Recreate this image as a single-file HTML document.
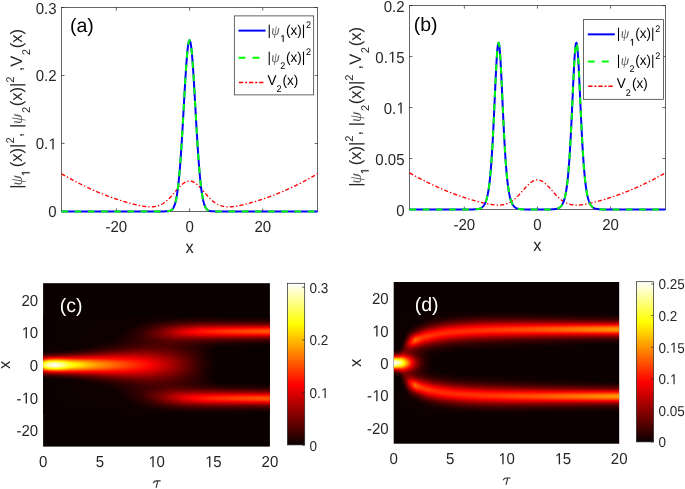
<!DOCTYPE html><html><head><meta charset="utf-8"><style>html,body{margin:0;padding:0;background:#fff;overflow:hidden}svg{display:block;will-change:transform}</style></head><body><svg width="685" height="489" viewBox="0 0 685 489" font-family="'Liberation Sans', sans-serif" fill="#262626" text-rendering="geometricPrecision"><rect width="685" height="489" fill="#fff"/>
<rect x="61.5" y="7.5" width="256.1" height="203.9" fill="none" stroke="#262626" stroke-width="0.7"/>
<path d="M116.38 211.4v-3M116.38 7.5v3M189.55 211.4v-3M189.55 7.5v3M262.72 211.4v-3M262.72 7.5v3M61.5 211.4h3M317.6 211.4h-3M61.5 143.43h3M317.6 143.43h-3M61.5 75.47h3M317.6 75.47h-3M61.5 7.5h3M317.6 7.5h-3" stroke="#262626" stroke-width="0.7"/>
<clipPath id="clip61"><rect x="60.5" y="4.5" width="258.1" height="209.9"/></clipPath>
<g clip-path="url(#clip61)" fill="none" stroke-linejoin="round">
<polyline points="61.5,173.77 61.96,174.04 62.41,174.3 62.87,174.57 63.33,174.83 63.79,175.1 64.24,175.36 64.7,175.62 65.16,175.89 65.62,176.15 66.07,176.41 66.53,176.67 66.99,176.92 67.45,177.18 67.9,177.44 68.36,177.69 68.82,177.94 69.27,178.2 69.73,178.45 70.19,178.7 70.65,178.95 71.1,179.2 71.56,179.45 72.02,179.7 72.48,179.94 72.93,180.19 73.39,180.43 73.85,180.67 74.31,180.92 74.76,181.16 75.22,181.4 75.68,181.64 76.13,181.88 76.59,182.11 77.05,182.35 77.51,182.59 77.96,182.82 78.42,183.06 78.88,183.29 79.34,183.52 79.79,183.75 80.25,183.98 80.71,184.21 81.16,184.44 81.62,184.67 82.08,184.89 82.54,185.12 82.99,185.34 83.45,185.56 83.91,185.79 84.37,186.01 84.82,186.23 85.28,186.45 85.74,186.67 86.2,186.88 86.65,187.1 87.11,187.31 87.57,187.53 88.02,187.74 88.48,187.96 88.94,188.17 89.4,188.38 89.85,188.59 90.31,188.8 90.77,189 91.23,189.21 91.68,189.42 92.14,189.62 92.6,189.83 93.06,190.03 93.51,190.23 93.97,190.43 94.43,190.63 94.88,190.83 95.34,191.03 95.8,191.23 96.26,191.42 96.71,191.62 97.17,191.81 97.63,192.01 98.09,192.2 98.54,192.39 99,192.58 99.46,192.77 99.91,192.96 100.37,193.15 100.83,193.33 101.29,193.52 101.74,193.7 102.2,193.89 102.66,194.07 103.12,194.25 103.57,194.43 104.03,194.61 104.49,194.79 104.95,194.97 105.4,195.15 105.86,195.32 106.32,195.5 106.77,195.67 107.23,195.85 107.69,196.02 108.15,196.19 108.6,196.36 109.06,196.53 109.52,196.7 109.98,196.87 110.43,197.03 110.89,197.2 111.35,197.36 111.81,197.53 112.26,197.69 112.72,197.85 113.18,198.01 113.63,198.17 114.09,198.33 114.55,198.49 115.01,198.65 115.46,198.8 115.92,198.96 116.38,199.11 116.84,199.26 117.29,199.42 117.75,199.57 118.21,199.72 118.67,199.87 119.12,200.02 119.58,200.16 120.04,200.31 120.49,200.45 120.95,200.6 121.41,200.74 121.87,200.88 122.32,201.03 122.78,201.17 123.24,201.31 123.7,201.44 124.15,201.58 124.61,201.72 125.07,201.85 125.53,201.99 125.98,202.12 126.44,202.25 126.9,202.39 127.35,202.52 127.81,202.65 128.27,202.77 128.73,202.9 129.18,203.03 129.64,203.15 130.1,203.28 130.56,203.4 131.01,203.52 131.47,203.64 131.93,203.76 132.38,203.88 132.84,204 133.3,204.11 133.76,204.23 134.21,204.34 134.67,204.45 135.13,204.56 135.59,204.67 136.04,204.78 136.5,204.88 136.96,204.99 137.42,205.09 137.87,205.19 138.33,205.29 138.79,205.39 139.24,205.48 139.7,205.58 140.16,205.67 140.62,205.76 141.07,205.85 141.53,205.93 141.99,206.01 142.45,206.09 142.9,206.17 143.36,206.24 143.82,206.31 144.28,206.38 144.73,206.45 145.19,206.51 145.65,206.56 146.1,206.62 146.56,206.67 147.02,206.71 147.48,206.75 147.93,206.79 148.39,206.82 148.85,206.84 149.31,206.86 149.76,206.88 150.22,206.88 150.68,206.89 151.13,206.88 151.59,206.87 152.05,206.85 152.51,206.83 152.96,206.79 153.42,206.75 153.88,206.7 154.34,206.64 154.79,206.57 155.25,206.5 155.71,206.41 156.17,206.31 156.62,206.2 157.08,206.09 157.54,205.96 157.99,205.82 158.45,205.67 158.91,205.5 159.37,205.33 159.82,205.14 160.28,204.94 160.74,204.72 161.2,204.5 161.65,204.26 162.11,204 162.57,203.74 163.03,203.46 163.48,203.17 163.94,202.86 164.4,202.54 164.85,202.2 165.31,201.86 165.77,201.49 166.23,201.12 166.68,200.73 167.14,200.33 167.6,199.92 168.06,199.5 168.51,199.06 168.97,198.61 169.43,198.16 169.89,197.69 170.34,197.21 170.8,196.72 171.26,196.23 171.71,195.72 172.17,195.22 172.63,194.7 173.09,194.18 173.54,193.65 174,193.13 174.46,192.6 174.92,192.06 175.37,191.53 175.83,191 176.29,190.47 176.75,189.95 177.2,189.43 177.66,188.91 178.12,188.4 178.57,187.9 179.03,187.41 179.49,186.93 179.95,186.46 180.4,186 180.86,185.55 181.32,185.12 181.78,184.71 182.23,184.32 182.69,183.94 183.15,183.58 183.6,183.24 184.06,182.92 184.52,182.63 184.98,182.36 185.43,182.11 185.89,181.88 186.35,181.68 186.81,181.51 187.26,181.36 187.72,181.24 188.18,181.14 188.64,181.07 189.09,181.03 189.55,181.02 190.01,181.03 190.46,181.07 190.92,181.14 191.38,181.24 191.84,181.36 192.29,181.51 192.75,181.68 193.21,181.88 193.67,182.11 194.12,182.36 194.58,182.63 195.04,182.92 195.5,183.24 195.95,183.58 196.41,183.94 196.87,184.32 197.32,184.71 197.78,185.12 198.24,185.55 198.7,186 199.15,186.46 199.61,186.93 200.07,187.41 200.53,187.9 200.98,188.4 201.44,188.91 201.9,189.43 202.36,189.95 202.81,190.47 203.27,191 203.73,191.53 204.18,192.06 204.64,192.6 205.1,193.13 205.56,193.65 206.01,194.18 206.47,194.7 206.93,195.22 207.39,195.72 207.84,196.23 208.3,196.72 208.76,197.21 209.21,197.69 209.67,198.16 210.13,198.61 210.59,199.06 211.04,199.5 211.5,199.92 211.96,200.33 212.42,200.73 212.87,201.12 213.33,201.49 213.79,201.86 214.25,202.2 214.7,202.54 215.16,202.86 215.62,203.17 216.07,203.46 216.53,203.74 216.99,204 217.45,204.26 217.9,204.5 218.36,204.72 218.82,204.94 219.28,205.14 219.73,205.33 220.19,205.5 220.65,205.67 221.11,205.82 221.56,205.96 222.02,206.09 222.48,206.2 222.93,206.31 223.39,206.41 223.85,206.5 224.31,206.57 224.76,206.64 225.22,206.7 225.68,206.75 226.14,206.79 226.59,206.83 227.05,206.85 227.51,206.87 227.97,206.88 228.42,206.89 228.88,206.88 229.34,206.88 229.79,206.86 230.25,206.84 230.71,206.82 231.17,206.79 231.62,206.75 232.08,206.71 232.54,206.67 233,206.62 233.45,206.56 233.91,206.51 234.37,206.45 234.82,206.38 235.28,206.31 235.74,206.24 236.2,206.17 236.65,206.09 237.11,206.01 237.57,205.93 238.03,205.85 238.48,205.76 238.94,205.67 239.4,205.58 239.86,205.48 240.31,205.39 240.77,205.29 241.23,205.19 241.68,205.09 242.14,204.99 242.6,204.88 243.06,204.78 243.51,204.67 243.97,204.56 244.43,204.45 244.89,204.34 245.34,204.23 245.8,204.11 246.26,204 246.72,203.88 247.17,203.76 247.63,203.64 248.09,203.52 248.54,203.4 249,203.28 249.46,203.15 249.92,203.03 250.37,202.9 250.83,202.77 251.29,202.65 251.75,202.52 252.2,202.39 252.66,202.25 253.12,202.12 253.58,201.99 254.03,201.85 254.49,201.72 254.95,201.58 255.4,201.44 255.86,201.31 256.32,201.17 256.78,201.03 257.23,200.88 257.69,200.74 258.15,200.6 258.61,200.45 259.06,200.31 259.52,200.16 259.98,200.02 260.43,199.87 260.89,199.72 261.35,199.57 261.81,199.42 262.26,199.26 262.72,199.11 263.18,198.96 263.64,198.8 264.09,198.65 264.55,198.49 265.01,198.33 265.47,198.17 265.92,198.01 266.38,197.85 266.84,197.69 267.29,197.53 267.75,197.36 268.21,197.2 268.67,197.03 269.12,196.87 269.58,196.7 270.04,196.53 270.5,196.36 270.95,196.19 271.41,196.02 271.87,195.85 272.33,195.67 272.78,195.5 273.24,195.32 273.7,195.15 274.15,194.97 274.61,194.79 275.07,194.61 275.53,194.43 275.98,194.25 276.44,194.07 276.9,193.89 277.36,193.7 277.81,193.52 278.27,193.33 278.73,193.15 279.19,192.96 279.64,192.77 280.1,192.58 280.56,192.39 281.01,192.2 281.47,192.01 281.93,191.81 282.39,191.62 282.84,191.42 283.3,191.23 283.76,191.03 284.22,190.83 284.67,190.63 285.13,190.43 285.59,190.23 286.04,190.03 286.5,189.83 286.96,189.62 287.42,189.42 287.87,189.21 288.33,189 288.79,188.8 289.25,188.59 289.7,188.38 290.16,188.17 290.62,187.96 291.08,187.74 291.53,187.53 291.99,187.31 292.45,187.1 292.9,186.88 293.36,186.67 293.82,186.45 294.28,186.23 294.73,186.01 295.19,185.79 295.65,185.56 296.11,185.34 296.56,185.12 297.02,184.89 297.48,184.67 297.94,184.44 298.39,184.21 298.85,183.98 299.31,183.75 299.76,183.52 300.22,183.29 300.68,183.06 301.14,182.82 301.59,182.59 302.05,182.35 302.51,182.11 302.97,181.88 303.42,181.64 303.88,181.4 304.34,181.16 304.8,180.92 305.25,180.67 305.71,180.43 306.17,180.19 306.62,179.94 307.08,179.7 307.54,179.45 308,179.2 308.45,178.95 308.91,178.7 309.37,178.45 309.83,178.2 310.28,177.94 310.74,177.69 311.2,177.44 311.65,177.18 312.11,176.92 312.57,176.67 313.03,176.41 313.48,176.15 313.94,175.89 314.4,175.62 314.86,175.36 315.31,175.1 315.77,174.83 316.23,174.57 316.69,174.3 317.14,174.04 317.6,173.77" stroke="#f00" stroke-width="1.35" stroke-dasharray="4.1 2.1 1.4 2.1"/>
<polyline points="61.5,211.4 61.96,211.4 62.41,211.4 62.87,211.4 63.33,211.4 63.79,211.4 64.24,211.4 64.7,211.4 65.16,211.4 65.62,211.4 66.07,211.4 66.53,211.4 66.99,211.4 67.45,211.4 67.9,211.4 68.36,211.4 68.82,211.4 69.27,211.4 69.73,211.4 70.19,211.4 70.65,211.4 71.1,211.4 71.56,211.4 72.02,211.4 72.48,211.4 72.93,211.4 73.39,211.4 73.85,211.4 74.31,211.4 74.76,211.4 75.22,211.4 75.68,211.4 76.13,211.4 76.59,211.4 77.05,211.4 77.51,211.4 77.96,211.4 78.42,211.4 78.88,211.4 79.34,211.4 79.79,211.4 80.25,211.4 80.71,211.4 81.16,211.4 81.62,211.4 82.08,211.4 82.54,211.4 82.99,211.4 83.45,211.4 83.91,211.4 84.37,211.4 84.82,211.4 85.28,211.4 85.74,211.4 86.2,211.4 86.65,211.4 87.11,211.4 87.57,211.4 88.02,211.4 88.48,211.4 88.94,211.4 89.4,211.4 89.85,211.4 90.31,211.4 90.77,211.4 91.23,211.4 91.68,211.4 92.14,211.4 92.6,211.4 93.06,211.4 93.51,211.4 93.97,211.4 94.43,211.4 94.88,211.4 95.34,211.4 95.8,211.4 96.26,211.4 96.71,211.4 97.17,211.4 97.63,211.4 98.09,211.4 98.54,211.4 99,211.4 99.46,211.4 99.91,211.4 100.37,211.4 100.83,211.4 101.29,211.4 101.74,211.4 102.2,211.4 102.66,211.4 103.12,211.4 103.57,211.4 104.03,211.4 104.49,211.4 104.95,211.4 105.4,211.4 105.86,211.4 106.32,211.4 106.77,211.4 107.23,211.4 107.69,211.4 108.15,211.4 108.6,211.4 109.06,211.4 109.52,211.4 109.98,211.4 110.43,211.4 110.89,211.4 111.35,211.4 111.81,211.4 112.26,211.4 112.72,211.4 113.18,211.4 113.63,211.4 114.09,211.4 114.55,211.4 115.01,211.4 115.46,211.4 115.92,211.4 116.38,211.4 116.84,211.4 117.29,211.4 117.75,211.4 118.21,211.4 118.67,211.4 119.12,211.4 119.58,211.4 120.04,211.4 120.49,211.4 120.95,211.4 121.41,211.4 121.87,211.4 122.32,211.4 122.78,211.4 123.24,211.4 123.7,211.4 124.15,211.4 124.61,211.4 125.07,211.4 125.53,211.4 125.98,211.4 126.44,211.4 126.9,211.4 127.35,211.4 127.81,211.4 128.27,211.4 128.73,211.4 129.18,211.4 129.64,211.4 130.1,211.4 130.56,211.4 131.01,211.4 131.47,211.4 131.93,211.4 132.38,211.4 132.84,211.4 133.3,211.4 133.76,211.4 134.21,211.4 134.67,211.4 135.13,211.4 135.59,211.4 136.04,211.4 136.5,211.4 136.96,211.4 137.42,211.4 137.87,211.4 138.33,211.4 138.79,211.4 139.24,211.4 139.7,211.4 140.16,211.4 140.62,211.4 141.07,211.4 141.53,211.4 141.99,211.4 142.45,211.4 142.9,211.4 143.36,211.4 143.82,211.4 144.28,211.4 144.73,211.4 145.19,211.4 145.65,211.4 146.1,211.4 146.56,211.4 147.02,211.4 147.48,211.4 147.93,211.4 148.39,211.4 148.85,211.4 149.31,211.4 149.76,211.4 150.22,211.4 150.68,211.4 151.13,211.4 151.59,211.4 152.05,211.4 152.51,211.4 152.96,211.4 153.42,211.4 153.88,211.4 154.34,211.4 154.79,211.4 155.25,211.4 155.71,211.4 156.17,211.4 156.62,211.4 157.08,211.4 157.54,211.4 157.99,211.4 158.45,211.4 158.91,211.4 159.37,211.4 159.82,211.4 160.28,211.4 160.74,211.4 161.2,211.4 161.65,211.4 162.11,211.4 162.57,211.4 163.03,211.39 163.48,211.39 163.94,211.39 164.4,211.38 164.85,211.38 165.31,211.37 165.77,211.36 166.23,211.34 166.68,211.32 167.14,211.3 167.6,211.26 168.06,211.21 168.51,211.15 168.97,211.07 169.43,210.96 169.89,210.83 170.34,210.66 170.8,210.44 171.26,210.17 171.71,209.83 172.17,209.41 172.63,208.9 173.09,208.26 173.54,207.49 174,206.57 174.46,205.46 174.92,204.14 175.37,202.58 175.83,200.75 176.29,198.62 176.75,196.17 177.2,193.35 177.66,190.14 178.12,186.52 178.57,182.45 179.03,177.93 179.49,172.95 179.95,167.49 180.4,161.57 180.86,155.19 181.32,148.39 181.78,141.2 182.23,133.68 182.69,125.87 183.15,117.86 183.6,109.74 184.06,101.58 184.52,93.5 184.98,85.61 185.43,78.01 185.89,70.82 186.35,64.16 186.81,58.14 187.26,52.84 187.72,48.38 188.18,44.82 188.64,42.23 189.09,40.65 189.55,40.12 190.01,40.65 190.46,42.23 190.92,44.82 191.38,48.38 191.84,52.84 192.29,58.14 192.75,64.16 193.21,70.82 193.67,78.01 194.12,85.61 194.58,93.5 195.04,101.58 195.5,109.74 195.95,117.86 196.41,125.87 196.87,133.68 197.32,141.2 197.78,148.39 198.24,155.19 198.7,161.57 199.15,167.49 199.61,172.95 200.07,177.93 200.53,182.45 200.98,186.52 201.44,190.14 201.9,193.35 202.36,196.17 202.81,198.62 203.27,200.75 203.73,202.58 204.18,204.14 204.64,205.46 205.1,206.57 205.56,207.49 206.01,208.26 206.47,208.9 206.93,209.41 207.39,209.83 207.84,210.17 208.3,210.44 208.76,210.66 209.21,210.83 209.67,210.96 210.13,211.07 210.59,211.15 211.04,211.21 211.5,211.26 211.96,211.3 212.42,211.32 212.87,211.34 213.33,211.36 213.79,211.37 214.25,211.38 214.7,211.38 215.16,211.39 215.62,211.39 216.07,211.39 216.53,211.4 216.99,211.4 217.45,211.4 217.9,211.4 218.36,211.4 218.82,211.4 219.28,211.4 219.73,211.4 220.19,211.4 220.65,211.4 221.11,211.4 221.56,211.4 222.02,211.4 222.48,211.4 222.93,211.4 223.39,211.4 223.85,211.4 224.31,211.4 224.76,211.4 225.22,211.4 225.68,211.4 226.14,211.4 226.59,211.4 227.05,211.4 227.51,211.4 227.97,211.4 228.42,211.4 228.88,211.4 229.34,211.4 229.79,211.4 230.25,211.4 230.71,211.4 231.17,211.4 231.62,211.4 232.08,211.4 232.54,211.4 233,211.4 233.45,211.4 233.91,211.4 234.37,211.4 234.82,211.4 235.28,211.4 235.74,211.4 236.2,211.4 236.65,211.4 237.11,211.4 237.57,211.4 238.03,211.4 238.48,211.4 238.94,211.4 239.4,211.4 239.86,211.4 240.31,211.4 240.77,211.4 241.23,211.4 241.68,211.4 242.14,211.4 242.6,211.4 243.06,211.4 243.51,211.4 243.97,211.4 244.43,211.4 244.89,211.4 245.34,211.4 245.8,211.4 246.26,211.4 246.72,211.4 247.17,211.4 247.63,211.4 248.09,211.4 248.54,211.4 249,211.4 249.46,211.4 249.92,211.4 250.37,211.4 250.83,211.4 251.29,211.4 251.75,211.4 252.2,211.4 252.66,211.4 253.12,211.4 253.58,211.4 254.03,211.4 254.49,211.4 254.95,211.4 255.4,211.4 255.86,211.4 256.32,211.4 256.78,211.4 257.23,211.4 257.69,211.4 258.15,211.4 258.61,211.4 259.06,211.4 259.52,211.4 259.98,211.4 260.43,211.4 260.89,211.4 261.35,211.4 261.81,211.4 262.26,211.4 262.72,211.4 263.18,211.4 263.64,211.4 264.09,211.4 264.55,211.4 265.01,211.4 265.47,211.4 265.92,211.4 266.38,211.4 266.84,211.4 267.29,211.4 267.75,211.4 268.21,211.4 268.67,211.4 269.12,211.4 269.58,211.4 270.04,211.4 270.5,211.4 270.95,211.4 271.41,211.4 271.87,211.4 272.33,211.4 272.78,211.4 273.24,211.4 273.7,211.4 274.15,211.4 274.61,211.4 275.07,211.4 275.53,211.4 275.98,211.4 276.44,211.4 276.9,211.4 277.36,211.4 277.81,211.4 278.27,211.4 278.73,211.4 279.19,211.4 279.64,211.4 280.1,211.4 280.56,211.4 281.01,211.4 281.47,211.4 281.93,211.4 282.39,211.4 282.84,211.4 283.3,211.4 283.76,211.4 284.22,211.4 284.67,211.4 285.13,211.4 285.59,211.4 286.04,211.4 286.5,211.4 286.96,211.4 287.42,211.4 287.87,211.4 288.33,211.4 288.79,211.4 289.25,211.4 289.7,211.4 290.16,211.4 290.62,211.4 291.08,211.4 291.53,211.4 291.99,211.4 292.45,211.4 292.9,211.4 293.36,211.4 293.82,211.4 294.28,211.4 294.73,211.4 295.19,211.4 295.65,211.4 296.11,211.4 296.56,211.4 297.02,211.4 297.48,211.4 297.94,211.4 298.39,211.4 298.85,211.4 299.31,211.4 299.76,211.4 300.22,211.4 300.68,211.4 301.14,211.4 301.59,211.4 302.05,211.4 302.51,211.4 302.97,211.4 303.42,211.4 303.88,211.4 304.34,211.4 304.8,211.4 305.25,211.4 305.71,211.4 306.17,211.4 306.62,211.4 307.08,211.4 307.54,211.4 308,211.4 308.45,211.4 308.91,211.4 309.37,211.4 309.83,211.4 310.28,211.4 310.74,211.4 311.2,211.4 311.65,211.4 312.11,211.4 312.57,211.4 313.03,211.4 313.48,211.4 313.94,211.4 314.4,211.4 314.86,211.4 315.31,211.4 315.77,211.4 316.23,211.4 316.69,211.4 317.14,211.4 317.6,211.4" stroke="#00f" stroke-width="2"/>
<polyline points="61.5,211.4 61.96,211.4 62.41,211.4 62.87,211.4 63.33,211.4 63.79,211.4 64.24,211.4 64.7,211.4 65.16,211.4 65.62,211.4 66.07,211.4 66.53,211.4 66.99,211.4 67.45,211.4 67.9,211.4 68.36,211.4 68.82,211.4 69.27,211.4 69.73,211.4 70.19,211.4 70.65,211.4 71.1,211.4 71.56,211.4 72.02,211.4 72.48,211.4 72.93,211.4 73.39,211.4 73.85,211.4 74.31,211.4 74.76,211.4 75.22,211.4 75.68,211.4 76.13,211.4 76.59,211.4 77.05,211.4 77.51,211.4 77.96,211.4 78.42,211.4 78.88,211.4 79.34,211.4 79.79,211.4 80.25,211.4 80.71,211.4 81.16,211.4 81.62,211.4 82.08,211.4 82.54,211.4 82.99,211.4 83.45,211.4 83.91,211.4 84.37,211.4 84.82,211.4 85.28,211.4 85.74,211.4 86.2,211.4 86.65,211.4 87.11,211.4 87.57,211.4 88.02,211.4 88.48,211.4 88.94,211.4 89.4,211.4 89.85,211.4 90.31,211.4 90.77,211.4 91.23,211.4 91.68,211.4 92.14,211.4 92.6,211.4 93.06,211.4 93.51,211.4 93.97,211.4 94.43,211.4 94.88,211.4 95.34,211.4 95.8,211.4 96.26,211.4 96.71,211.4 97.17,211.4 97.63,211.4 98.09,211.4 98.54,211.4 99,211.4 99.46,211.4 99.91,211.4 100.37,211.4 100.83,211.4 101.29,211.4 101.74,211.4 102.2,211.4 102.66,211.4 103.12,211.4 103.57,211.4 104.03,211.4 104.49,211.4 104.95,211.4 105.4,211.4 105.86,211.4 106.32,211.4 106.77,211.4 107.23,211.4 107.69,211.4 108.15,211.4 108.6,211.4 109.06,211.4 109.52,211.4 109.98,211.4 110.43,211.4 110.89,211.4 111.35,211.4 111.81,211.4 112.26,211.4 112.72,211.4 113.18,211.4 113.63,211.4 114.09,211.4 114.55,211.4 115.01,211.4 115.46,211.4 115.92,211.4 116.38,211.4 116.84,211.4 117.29,211.4 117.75,211.4 118.21,211.4 118.67,211.4 119.12,211.4 119.58,211.4 120.04,211.4 120.49,211.4 120.95,211.4 121.41,211.4 121.87,211.4 122.32,211.4 122.78,211.4 123.24,211.4 123.7,211.4 124.15,211.4 124.61,211.4 125.07,211.4 125.53,211.4 125.98,211.4 126.44,211.4 126.9,211.4 127.35,211.4 127.81,211.4 128.27,211.4 128.73,211.4 129.18,211.4 129.64,211.4 130.1,211.4 130.56,211.4 131.01,211.4 131.47,211.4 131.93,211.4 132.38,211.4 132.84,211.4 133.3,211.4 133.76,211.4 134.21,211.4 134.67,211.4 135.13,211.4 135.59,211.4 136.04,211.4 136.5,211.4 136.96,211.4 137.42,211.4 137.87,211.4 138.33,211.4 138.79,211.4 139.24,211.4 139.7,211.4 140.16,211.4 140.62,211.4 141.07,211.4 141.53,211.4 141.99,211.4 142.45,211.4 142.9,211.4 143.36,211.4 143.82,211.4 144.28,211.4 144.73,211.4 145.19,211.4 145.65,211.4 146.1,211.4 146.56,211.4 147.02,211.4 147.48,211.4 147.93,211.4 148.39,211.4 148.85,211.4 149.31,211.4 149.76,211.4 150.22,211.4 150.68,211.4 151.13,211.4 151.59,211.4 152.05,211.4 152.51,211.4 152.96,211.4 153.42,211.4 153.88,211.4 154.34,211.4 154.79,211.4 155.25,211.4 155.71,211.4 156.17,211.4 156.62,211.4 157.08,211.4 157.54,211.4 157.99,211.4 158.45,211.4 158.91,211.4 159.37,211.4 159.82,211.4 160.28,211.4 160.74,211.4 161.2,211.4 161.65,211.4 162.11,211.4 162.57,211.4 163.03,211.39 163.48,211.39 163.94,211.39 164.4,211.38 164.85,211.38 165.31,211.37 165.77,211.36 166.23,211.34 166.68,211.32 167.14,211.3 167.6,211.26 168.06,211.21 168.51,211.15 168.97,211.07 169.43,210.96 169.89,210.83 170.34,210.66 170.8,210.44 171.26,210.17 171.71,209.83 172.17,209.41 172.63,208.9 173.09,208.26 173.54,207.49 174,206.57 174.46,205.46 174.92,204.14 175.37,202.58 175.83,200.75 176.29,198.62 176.75,196.17 177.2,193.35 177.66,190.14 178.12,186.52 178.57,182.45 179.03,177.93 179.49,172.95 179.95,167.49 180.4,161.57 180.86,155.19 181.32,148.39 181.78,141.2 182.23,133.68 182.69,125.87 183.15,117.86 183.6,109.74 184.06,101.58 184.52,93.5 184.98,85.61 185.43,78.01 185.89,70.82 186.35,64.16 186.81,58.14 187.26,52.84 187.72,48.38 188.18,44.82 188.64,42.23 189.09,40.65 189.55,40.12 190.01,40.65 190.46,42.23 190.92,44.82 191.38,48.38 191.84,52.84 192.29,58.14 192.75,64.16 193.21,70.82 193.67,78.01 194.12,85.61 194.58,93.5 195.04,101.58 195.5,109.74 195.95,117.86 196.41,125.87 196.87,133.68 197.32,141.2 197.78,148.39 198.24,155.19 198.7,161.57 199.15,167.49 199.61,172.95 200.07,177.93 200.53,182.45 200.98,186.52 201.44,190.14 201.9,193.35 202.36,196.17 202.81,198.62 203.27,200.75 203.73,202.58 204.18,204.14 204.64,205.46 205.1,206.57 205.56,207.49 206.01,208.26 206.47,208.9 206.93,209.41 207.39,209.83 207.84,210.17 208.3,210.44 208.76,210.66 209.21,210.83 209.67,210.96 210.13,211.07 210.59,211.15 211.04,211.21 211.5,211.26 211.96,211.3 212.42,211.32 212.87,211.34 213.33,211.36 213.79,211.37 214.25,211.38 214.7,211.38 215.16,211.39 215.62,211.39 216.07,211.39 216.53,211.4 216.99,211.4 217.45,211.4 217.9,211.4 218.36,211.4 218.82,211.4 219.28,211.4 219.73,211.4 220.19,211.4 220.65,211.4 221.11,211.4 221.56,211.4 222.02,211.4 222.48,211.4 222.93,211.4 223.39,211.4 223.85,211.4 224.31,211.4 224.76,211.4 225.22,211.4 225.68,211.4 226.14,211.4 226.59,211.4 227.05,211.4 227.51,211.4 227.97,211.4 228.42,211.4 228.88,211.4 229.34,211.4 229.79,211.4 230.25,211.4 230.71,211.4 231.17,211.4 231.62,211.4 232.08,211.4 232.54,211.4 233,211.4 233.45,211.4 233.91,211.4 234.37,211.4 234.82,211.4 235.28,211.4 235.74,211.4 236.2,211.4 236.65,211.4 237.11,211.4 237.57,211.4 238.03,211.4 238.48,211.4 238.94,211.4 239.4,211.4 239.86,211.4 240.31,211.4 240.77,211.4 241.23,211.4 241.68,211.4 242.14,211.4 242.6,211.4 243.06,211.4 243.51,211.4 243.97,211.4 244.43,211.4 244.89,211.4 245.34,211.4 245.8,211.4 246.26,211.4 246.72,211.4 247.17,211.4 247.63,211.4 248.09,211.4 248.54,211.4 249,211.4 249.46,211.4 249.92,211.4 250.37,211.4 250.83,211.4 251.29,211.4 251.75,211.4 252.2,211.4 252.66,211.4 253.12,211.4 253.58,211.4 254.03,211.4 254.49,211.4 254.95,211.4 255.4,211.4 255.86,211.4 256.32,211.4 256.78,211.4 257.23,211.4 257.69,211.4 258.15,211.4 258.61,211.4 259.06,211.4 259.52,211.4 259.98,211.4 260.43,211.4 260.89,211.4 261.35,211.4 261.81,211.4 262.26,211.4 262.72,211.4 263.18,211.4 263.64,211.4 264.09,211.4 264.55,211.4 265.01,211.4 265.47,211.4 265.92,211.4 266.38,211.4 266.84,211.4 267.29,211.4 267.75,211.4 268.21,211.4 268.67,211.4 269.12,211.4 269.58,211.4 270.04,211.4 270.5,211.4 270.95,211.4 271.41,211.4 271.87,211.4 272.33,211.4 272.78,211.4 273.24,211.4 273.7,211.4 274.15,211.4 274.61,211.4 275.07,211.4 275.53,211.4 275.98,211.4 276.44,211.4 276.9,211.4 277.36,211.4 277.81,211.4 278.27,211.4 278.73,211.4 279.19,211.4 279.64,211.4 280.1,211.4 280.56,211.4 281.01,211.4 281.47,211.4 281.93,211.4 282.39,211.4 282.84,211.4 283.3,211.4 283.76,211.4 284.22,211.4 284.67,211.4 285.13,211.4 285.59,211.4 286.04,211.4 286.5,211.4 286.96,211.4 287.42,211.4 287.87,211.4 288.33,211.4 288.79,211.4 289.25,211.4 289.7,211.4 290.16,211.4 290.62,211.4 291.08,211.4 291.53,211.4 291.99,211.4 292.45,211.4 292.9,211.4 293.36,211.4 293.82,211.4 294.28,211.4 294.73,211.4 295.19,211.4 295.65,211.4 296.11,211.4 296.56,211.4 297.02,211.4 297.48,211.4 297.94,211.4 298.39,211.4 298.85,211.4 299.31,211.4 299.76,211.4 300.22,211.4 300.68,211.4 301.14,211.4 301.59,211.4 302.05,211.4 302.51,211.4 302.97,211.4 303.42,211.4 303.88,211.4 304.34,211.4 304.8,211.4 305.25,211.4 305.71,211.4 306.17,211.4 306.62,211.4 307.08,211.4 307.54,211.4 308,211.4 308.45,211.4 308.91,211.4 309.37,211.4 309.83,211.4 310.28,211.4 310.74,211.4 311.2,211.4 311.65,211.4 312.11,211.4 312.57,211.4 313.03,211.4 313.48,211.4 313.94,211.4 314.4,211.4 314.86,211.4 315.31,211.4 315.77,211.4 316.23,211.4 316.69,211.4 317.14,211.4 317.6,211.4" stroke="#0f0" stroke-width="2" stroke-dasharray="6.6 6.6"/>
</g>
<text transform="translate(116.38 232) scale(1 1.06)" font-size="15.0" text-anchor="middle">-20</text>
<text transform="translate(189.55 232) scale(1 1.06)" font-size="15.0" text-anchor="middle">0</text>
<text transform="translate(262.72 232) scale(1 1.06)" font-size="15.0" text-anchor="middle">20</text>
<text transform="translate(56.5 217.4) scale(1 1.06)" font-size="15.0" text-anchor="end">0</text>
<text transform="translate(56.5 149.43) scale(1 1.06)" font-size="15.0" text-anchor="end">0.&#8199;</text><path d="M52.37 149.43 52.37 139.83 50.04 141.59 50.04 140.27 52.48 138.49 53.69 138.49 53.69 149.43Z" fill="#262626"/>
<text transform="translate(56.5 81.47) scale(1 1.06)" font-size="15.0" text-anchor="end">0.2</text>
<text transform="translate(56.5 13.5) scale(1 1.06)" font-size="15.0" text-anchor="end">0.3</text>
<text transform="translate(189.55 253) scale(1 1.06)" font-size="16.5" text-anchor="middle">x</text>
<text transform="translate(21.8 0) rotate(-90)" font-size="16.5"><tspan x="-188.74" y="0">|</tspan><tspan x="-185.38" y="0" font-family="'Liberation Serif', serif" font-style="italic" fill="#555">&#968;</tspan><tspan x="-167.22" y="0">(x)|</tspan><tspan x="-143.61" y="-8.1" font-size="11.2">2</tspan><tspan x="-137.28" y="0">,</tspan><tspan x="-128.07" y="0">|</tspan><tspan x="-123.88" y="0" font-family="'Liberation Serif', serif" font-style="italic" fill="#555">&#968;</tspan><tspan x="-113.01" y="7.8" font-size="11.2">2</tspan><tspan x="-106.22" y="0">(x)|</tspan><tspan x="-82.66" y="-8.1" font-size="11.2">2</tspan><tspan x="-71.28" y="0">,</tspan><tspan x="-66.77" y="0">V</tspan><tspan x="-55.21" y="7.8" font-size="11.2">2</tspan><tspan x="-48.22" y="0">(x)</tspan></text><g transform="translate(21.8 0) rotate(-90)"><path d="M-173.21 7.8 -173.21 1.04 -174.95 2.28 -174.95 1.35 -173.13 0.09 -172.22 0.09 -172.22 7.8Z" fill="#262626" stroke="#262626" stroke-width="0.22"/></g>
<rect x="234.3" y="15.9" width="79.4" height="79" fill="#fff" stroke="#262626" stroke-width="0.7"/>
<path d="M238.5 30.6H265.5" stroke="#00f" stroke-width="2"/>
<path d="M238.5 57.7H265.5" stroke="#0f0" stroke-width="2" stroke-dasharray="7 7"/>
<path d="M238.9 82.4H264" stroke="#f00" stroke-width="1.5" stroke-dasharray="4.3 1.9 2 1.9"/>
<text transform="translate(0 34.5) scale(1 1.06)" font-size="13.5" fill="#000"><tspan x="267.5" y="0">|</tspan><tspan x="271.35" y="0" font-family="'Liberation Serif', serif" font-style="italic" fill="#555">&#968;</tspan><tspan x="286" y="0">(x)|</tspan><tspan x="305.9" y="-6.2" font-size="9.0">2</tspan></text><path d="M282.78 41.71 282.78 35.95 281.38 37 281.38 36.21 282.84 35.14 283.57 35.14 283.57 41.71Z" fill="#000" stroke="#000" stroke-width="0.22"/>
<text transform="translate(0 61.5) scale(1 1.06)" font-size="13.5" fill="#000"><tspan x="267.5" y="0">|</tspan><tspan x="271.35" y="0" font-family="'Liberation Serif', serif" font-style="italic" fill="#555">&#968;</tspan><tspan x="280.25" y="6.8" font-size="9.0">2</tspan><tspan x="286" y="0">(x)|</tspan><tspan x="305.9" y="-6.2" font-size="9.0">2</tspan></text>
<text transform="translate(0 84.6) scale(1 1.06)" font-size="13.5" fill="#000"><tspan x="267.5" y="0">V</tspan><tspan x="276.4" y="6.8" font-size="9.0">2</tspan><tspan x="282.6" y="0">(x)</tspan></text>
<text x="70" y="31.6" font-size="19.5" fill="#000">(a)</text>
<rect x="409.5" y="5.6" width="255.9" height="203.9" fill="none" stroke="#262626" stroke-width="0.7"/>
<path d="M464.34 209.5v-3M464.34 5.6v3M537.45 209.5v-3M537.45 5.6v3M610.56 209.5v-3M610.56 5.6v3M409.5 209.5h3M665.4 209.5h-3M409.5 158.53h3M665.4 158.53h-3M409.5 107.55h3M665.4 107.55h-3M409.5 56.58h3M665.4 56.58h-3M409.5 5.6h3M665.4 5.6h-3" stroke="#262626" stroke-width="0.7"/>
<clipPath id="clip409"><rect x="408.5" y="2.6" width="257.9" height="209.9"/></clipPath>
<g clip-path="url(#clip409)" fill="none" stroke-linejoin="round">
<polyline points="409.5,172.81 409.96,173.07 410.41,173.33 410.87,173.59 411.33,173.85 411.78,174.11 412.24,174.36 412.7,174.62 413.16,174.87 413.61,175.13 414.07,175.38 414.53,175.63 414.98,175.89 415.44,176.14 415.9,176.39 416.35,176.63 416.81,176.88 417.27,177.13 417.73,177.37 418.18,177.62 418.64,177.86 419.1,178.11 419.55,178.35 420.01,178.59 420.47,178.83 420.92,179.07 421.38,179.31 421.84,179.54 422.3,179.78 422.75,180.01 423.21,180.25 423.67,180.48 424.12,180.72 424.58,180.95 425.04,181.18 425.49,181.41 425.95,181.64 426.41,181.86 426.86,182.09 427.32,182.32 427.78,182.54 428.24,182.77 428.69,182.99 429.15,183.21 429.61,183.43 430.06,183.65 430.52,183.87 430.98,184.09 431.43,184.31 431.89,184.53 432.35,184.74 432.81,184.96 433.26,185.17 433.72,185.38 434.18,185.6 434.63,185.81 435.09,186.02 435.55,186.23 436,186.43 436.46,186.64 436.92,186.85 437.37,187.05 437.83,187.26 438.29,187.46 438.75,187.66 439.2,187.87 439.66,188.07 440.12,188.27 440.57,188.47 441.03,188.66 441.49,188.86 441.94,189.06 442.4,189.25 442.86,189.45 443.32,189.64 443.77,189.83 444.23,190.02 444.69,190.21 445.14,190.4 445.6,190.59 446.06,190.78 446.51,190.97 446.97,191.15 447.43,191.34 447.88,191.52 448.34,191.7 448.8,191.89 449.26,192.07 449.71,192.25 450.17,192.43 450.63,192.6 451.08,192.78 451.54,192.96 452,193.13 452.45,193.31 452.91,193.48 453.37,193.65 453.83,193.83 454.28,194 454.74,194.17 455.2,194.34 455.65,194.5 456.11,194.67 456.57,194.84 457.02,195 457.48,195.17 457.94,195.33 458.4,195.49 458.85,195.65 459.31,195.81 459.77,195.97 460.22,196.13 460.68,196.29 461.14,196.45 461.59,196.6 462.05,196.76 462.51,196.91 462.96,197.07 463.42,197.22 463.88,197.37 464.34,197.52 464.79,197.67 465.25,197.82 465.71,197.96 466.16,198.11 466.62,198.26 467.08,198.4 467.53,198.54 467.99,198.69 468.45,198.83 468.91,198.97 469.36,199.11 469.82,199.25 470.28,199.39 470.73,199.52 471.19,199.66 471.65,199.79 472.1,199.93 472.56,200.06 473.02,200.19 473.48,200.32 473.93,200.45 474.39,200.58 474.85,200.71 475.3,200.84 475.76,200.96 476.22,201.09 476.67,201.21 477.13,201.34 477.59,201.46 478.04,201.58 478.5,201.7 478.96,201.82 479.42,201.94 479.87,202.05 480.33,202.17 480.79,202.28 481.24,202.39 481.7,202.51 482.16,202.62 482.61,202.72 483.07,202.83 483.53,202.94 483.99,203.04 484.44,203.15 484.9,203.25 485.36,203.35 485.81,203.45 486.27,203.54 486.73,203.64 487.18,203.73 487.64,203.82 488.1,203.91 488.55,204 489.01,204.08 489.47,204.17 489.93,204.25 490.38,204.32 490.84,204.4 491.3,204.47 491.75,204.54 492.21,204.61 492.67,204.67 493.12,204.73 493.58,204.78 494.04,204.84 494.5,204.88 494.95,204.93 495.41,204.97 495.87,205 496.32,205.03 496.78,205.06 497.24,205.08 497.69,205.09 498.15,205.1 498.61,205.1 499.06,205.1 499.52,205.08 499.98,205.07 500.44,205.04 500.89,205.01 501.35,204.97 501.81,204.92 502.26,204.86 502.72,204.79 503.18,204.72 503.63,204.63 504.09,204.54 504.55,204.43 505.01,204.32 505.46,204.19 505.92,204.06 506.38,203.91 506.83,203.75 507.29,203.58 507.75,203.39 508.2,203.2 508.66,202.99 509.12,202.77 509.58,202.54 510.03,202.29 510.49,202.03 510.95,201.76 511.4,201.47 511.86,201.17 512.32,200.86 512.77,200.53 513.23,200.19 513.69,199.84 514.14,199.48 514.6,199.1 515.06,198.71 515.52,198.31 515.97,197.89 516.43,197.47 516.89,197.03 517.34,196.59 517.8,196.13 518.26,195.66 518.71,195.19 519.17,194.71 519.63,194.22 520.09,193.72 520.54,193.22 521,192.71 521.46,192.2 521.91,191.68 522.37,191.17 522.83,190.65 523.28,190.13 523.74,189.61 524.2,189.1 524.65,188.58 525.11,188.08 525.57,187.57 526.03,187.08 526.48,186.59 526.94,186.11 527.4,185.64 527.85,185.18 528.31,184.73 528.77,184.3 529.22,183.88 529.68,183.48 530.14,183.09 530.6,182.72 531.05,182.37 531.51,182.04 531.97,181.74 532.42,181.45 532.88,181.18 533.34,180.94 533.79,180.72 534.25,180.52 534.71,180.35 535.17,180.21 535.62,180.09 536.08,180 536.54,179.93 536.99,179.89 537.45,179.88 537.91,179.89 538.36,179.93 538.82,180 539.28,180.09 539.73,180.21 540.19,180.35 540.65,180.52 541.11,180.72 541.56,180.94 542.02,181.18 542.48,181.45 542.93,181.74 543.39,182.04 543.85,182.37 544.3,182.72 544.76,183.09 545.22,183.48 545.68,183.88 546.13,184.3 546.59,184.73 547.05,185.18 547.5,185.64 547.96,186.11 548.42,186.59 548.87,187.08 549.33,187.57 549.79,188.08 550.25,188.58 550.7,189.1 551.16,189.61 551.62,190.13 552.07,190.65 552.53,191.17 552.99,191.68 553.44,192.2 553.9,192.71 554.36,193.22 554.81,193.72 555.27,194.22 555.73,194.71 556.19,195.19 556.64,195.66 557.1,196.13 557.56,196.59 558.01,197.03 558.47,197.47 558.93,197.89 559.38,198.31 559.84,198.71 560.3,199.1 560.76,199.48 561.21,199.84 561.67,200.19 562.13,200.53 562.58,200.86 563.04,201.17 563.5,201.47 563.95,201.76 564.41,202.03 564.87,202.29 565.32,202.54 565.78,202.77 566.24,202.99 566.7,203.2 567.15,203.39 567.61,203.58 568.07,203.75 568.52,203.91 568.98,204.06 569.44,204.19 569.89,204.32 570.35,204.43 570.81,204.54 571.27,204.63 571.72,204.72 572.18,204.79 572.64,204.86 573.09,204.92 573.55,204.97 574.01,205.01 574.46,205.04 574.92,205.07 575.38,205.08 575.84,205.1 576.29,205.1 576.75,205.1 577.21,205.09 577.66,205.08 578.12,205.06 578.58,205.03 579.03,205 579.49,204.97 579.95,204.93 580.4,204.88 580.86,204.84 581.32,204.78 581.78,204.73 582.23,204.67 582.69,204.61 583.15,204.54 583.6,204.47 584.06,204.4 584.52,204.32 584.97,204.25 585.43,204.17 585.89,204.08 586.35,204 586.8,203.91 587.26,203.82 587.72,203.73 588.17,203.64 588.63,203.54 589.09,203.45 589.54,203.35 590,203.25 590.46,203.15 590.91,203.04 591.37,202.94 591.83,202.83 592.29,202.72 592.74,202.62 593.2,202.51 593.66,202.39 594.11,202.28 594.57,202.17 595.03,202.05 595.48,201.94 595.94,201.82 596.4,201.7 596.86,201.58 597.31,201.46 597.77,201.34 598.23,201.21 598.68,201.09 599.14,200.96 599.6,200.84 600.05,200.71 600.51,200.58 600.97,200.45 601.42,200.32 601.88,200.19 602.34,200.06 602.8,199.93 603.25,199.79 603.71,199.66 604.17,199.52 604.62,199.39 605.08,199.25 605.54,199.11 605.99,198.97 606.45,198.83 606.91,198.69 607.37,198.54 607.82,198.4 608.28,198.26 608.74,198.11 609.19,197.96 609.65,197.82 610.11,197.67 610.56,197.52 611.02,197.37 611.48,197.22 611.94,197.07 612.39,196.91 612.85,196.76 613.31,196.6 613.76,196.45 614.22,196.29 614.68,196.13 615.13,195.97 615.59,195.81 616.05,195.65 616.5,195.49 616.96,195.33 617.42,195.17 617.88,195 618.33,194.84 618.79,194.67 619.25,194.5 619.7,194.34 620.16,194.17 620.62,194 621.07,193.83 621.53,193.65 621.99,193.48 622.45,193.31 622.9,193.13 623.36,192.96 623.82,192.78 624.27,192.6 624.73,192.43 625.19,192.25 625.64,192.07 626.1,191.89 626.56,191.7 627.01,191.52 627.47,191.34 627.93,191.15 628.39,190.97 628.84,190.78 629.3,190.59 629.76,190.4 630.21,190.21 630.67,190.02 631.13,189.83 631.58,189.64 632.04,189.45 632.5,189.25 632.96,189.06 633.41,188.86 633.87,188.66 634.33,188.47 634.78,188.27 635.24,188.07 635.7,187.87 636.15,187.66 636.61,187.46 637.07,187.26 637.53,187.05 637.98,186.85 638.44,186.64 638.9,186.43 639.35,186.23 639.81,186.02 640.27,185.81 640.72,185.6 641.18,185.38 641.64,185.17 642.09,184.96 642.55,184.74 643.01,184.53 643.47,184.31 643.92,184.09 644.38,183.87 644.84,183.65 645.29,183.43 645.75,183.21 646.21,182.99 646.66,182.77 647.12,182.54 647.58,182.32 648.04,182.09 648.49,181.86 648.95,181.64 649.41,181.41 649.86,181.18 650.32,180.95 650.78,180.72 651.23,180.48 651.69,180.25 652.15,180.01 652.61,179.78 653.06,179.54 653.52,179.31 653.98,179.07 654.43,178.83 654.89,178.59 655.35,178.35 655.8,178.11 656.26,177.86 656.72,177.62 657.17,177.37 657.63,177.13 658.09,176.88 658.55,176.63 659,176.39 659.46,176.14 659.92,175.89 660.37,175.63 660.83,175.38 661.29,175.13 661.74,174.87 662.2,174.62 662.66,174.36 663.12,174.11 663.57,173.85 664.03,173.59 664.49,173.33 664.94,173.07 665.4,172.81" stroke="#f00" stroke-width="1.35" stroke-dasharray="4.1 2.1 1.4 2.1"/>
<polyline points="409.5,209.5 409.96,209.5 410.41,209.5 410.87,209.5 411.33,209.5 411.78,209.5 412.24,209.5 412.7,209.5 413.16,209.5 413.61,209.5 414.07,209.5 414.53,209.5 414.98,209.5 415.44,209.5 415.9,209.5 416.35,209.5 416.81,209.5 417.27,209.5 417.73,209.5 418.18,209.5 418.64,209.5 419.1,209.5 419.55,209.5 420.01,209.5 420.47,209.5 420.92,209.5 421.38,209.5 421.84,209.5 422.3,209.5 422.75,209.5 423.21,209.5 423.67,209.5 424.12,209.5 424.58,209.5 425.04,209.5 425.49,209.5 425.95,209.5 426.41,209.5 426.86,209.5 427.32,209.5 427.78,209.5 428.24,209.5 428.69,209.5 429.15,209.5 429.61,209.5 430.06,209.5 430.52,209.5 430.98,209.5 431.43,209.5 431.89,209.5 432.35,209.5 432.81,209.5 433.26,209.5 433.72,209.5 434.18,209.5 434.63,209.5 435.09,209.5 435.55,209.5 436,209.5 436.46,209.5 436.92,209.5 437.37,209.5 437.83,209.5 438.29,209.5 438.75,209.5 439.2,209.5 439.66,209.5 440.12,209.5 440.57,209.5 441.03,209.5 441.49,209.5 441.94,209.5 442.4,209.5 442.86,209.5 443.32,209.5 443.77,209.5 444.23,209.5 444.69,209.5 445.14,209.5 445.6,209.5 446.06,209.5 446.51,209.5 446.97,209.5 447.43,209.5 447.88,209.5 448.34,209.5 448.8,209.5 449.26,209.5 449.71,209.5 450.17,209.5 450.63,209.5 451.08,209.5 451.54,209.5 452,209.5 452.45,209.5 452.91,209.5 453.37,209.5 453.83,209.5 454.28,209.5 454.74,209.5 455.2,209.5 455.65,209.5 456.11,209.5 456.57,209.5 457.02,209.5 457.48,209.5 457.94,209.5 458.4,209.5 458.85,209.5 459.31,209.5 459.77,209.5 460.22,209.5 460.68,209.5 461.14,209.5 461.59,209.5 462.05,209.5 462.51,209.5 462.96,209.5 463.42,209.5 463.88,209.5 464.34,209.5 464.79,209.49 465.25,209.49 465.71,209.49 466.16,209.49 466.62,209.49 467.08,209.49 467.53,209.49 467.99,209.48 468.45,209.48 468.91,209.48 469.36,209.47 469.82,209.47 470.28,209.46 470.73,209.46 471.19,209.45 471.65,209.44 472.1,209.43 472.56,209.42 473.02,209.4 473.48,209.39 473.93,209.37 474.39,209.35 474.85,209.32 475.3,209.29 475.76,209.25 476.22,209.21 476.67,209.16 477.13,209.1 477.59,209.03 478.04,208.95 478.5,208.86 478.96,208.75 479.42,208.62 479.87,208.47 480.33,208.29 480.79,208.09 481.24,207.84 481.7,207.56 482.16,207.23 482.61,206.85 483.07,206.4 483.53,205.87 483.99,205.25 484.44,204.54 484.9,203.7 485.36,202.73 485.81,201.59 486.27,200.28 486.73,198.75 487.18,196.98 487.64,194.92 488.1,192.56 488.55,189.83 489.01,186.69 489.47,183.1 489.93,179.01 490.38,174.37 490.84,169.12 491.3,163.23 491.75,156.66 492.21,149.41 492.67,141.46 493.12,132.85 493.58,123.66 494.04,113.97 494.5,103.96 494.95,93.81 495.41,83.78 495.87,74.17 496.32,65.29 496.78,57.49 497.24,51.08 497.69,46.35 498.15,43.52 498.61,42.72 499.06,44.01 499.52,47.32 499.98,52.47 500.44,59.25 500.89,67.34 501.35,76.42 501.81,86.16 502.26,96.24 502.72,106.38 503.18,116.33 503.63,125.91 504.09,134.98 504.55,143.43 505.01,151.21 505.46,158.3 505.92,164.7 506.38,170.44 506.83,175.54 507.29,180.04 507.75,184.01 508.2,187.48 508.66,190.52 509.12,193.16 509.58,195.44 510.03,197.43 510.49,199.14 510.95,200.61 511.4,201.88 511.86,202.98 512.32,203.91 512.77,204.72 513.23,205.41 513.69,206 514.14,206.51 514.6,206.94 515.06,207.32 515.52,207.63 515.97,207.91 516.43,208.14 516.89,208.34 517.34,208.51 517.8,208.65 518.26,208.78 518.71,208.88 519.17,208.97 519.63,209.05 520.09,209.11 520.54,209.17 521,209.22 521.46,209.26 521.91,209.3 522.37,209.33 522.83,209.35 523.28,209.37 523.74,209.39 524.2,209.41 524.65,209.42 525.11,209.43 525.57,209.44 526.03,209.45 526.48,209.46 526.94,209.46 527.4,209.47 527.85,209.47 528.31,209.48 528.77,209.48 529.22,209.48 529.68,209.49 530.14,209.49 530.6,209.49 531.05,209.49 531.51,209.49 531.97,209.49 532.42,209.49 532.88,209.5 533.34,209.5 533.79,209.5 534.25,209.5 534.71,209.5 535.17,209.5 535.62,209.5 536.08,209.5 536.54,209.5 536.99,209.5 537.45,209.5 537.91,209.5 538.36,209.5 538.82,209.5 539.28,209.5 539.73,209.5 540.19,209.5 540.65,209.5 541.11,209.5 541.56,209.5 542.02,209.5 542.48,209.49 542.93,209.49 543.39,209.49 543.85,209.49 544.3,209.49 544.76,209.49 545.22,209.49 545.68,209.48 546.13,209.48 546.59,209.48 547.05,209.47 547.5,209.47 547.96,209.46 548.42,209.46 548.87,209.45 549.33,209.44 549.79,209.43 550.25,209.42 550.7,209.41 551.16,209.39 551.62,209.37 552.07,209.35 552.53,209.33 552.99,209.3 553.44,209.26 553.9,209.22 554.36,209.17 554.81,209.11 555.27,209.05 555.73,208.97 556.19,208.88 556.64,208.78 557.1,208.65 557.56,208.51 558.01,208.34 558.47,208.14 558.93,207.91 559.38,207.63 559.84,207.32 560.3,206.94 560.76,206.51 561.21,206 561.67,205.41 562.13,204.72 562.58,203.91 563.04,202.98 563.5,201.88 563.95,200.61 564.41,199.14 564.87,197.43 565.32,195.44 565.78,193.16 566.24,190.52 566.7,187.48 567.15,184.01 567.61,180.04 568.07,175.54 568.52,170.44 568.98,164.7 569.44,158.3 569.89,151.21 570.35,143.43 570.81,134.98 571.27,125.91 571.72,116.33 572.18,106.38 572.64,96.24 573.09,86.16 573.55,76.42 574.01,67.34 574.46,59.25 574.92,52.47 575.38,47.32 575.84,44.01 576.29,42.72 576.75,43.52 577.21,46.35 577.66,51.08 578.12,57.49 578.58,65.29 579.03,74.17 579.49,83.78 579.95,93.81 580.4,103.96 580.86,113.97 581.32,123.66 581.78,132.85 582.23,141.46 582.69,149.41 583.15,156.66 583.6,163.23 584.06,169.12 584.52,174.37 584.97,179.01 585.43,183.1 585.89,186.69 586.35,189.83 586.8,192.56 587.26,194.92 587.72,196.98 588.17,198.75 588.63,200.28 589.09,201.59 589.54,202.73 590,203.7 590.46,204.54 590.91,205.25 591.37,205.87 591.83,206.4 592.29,206.85 592.74,207.23 593.2,207.56 593.66,207.84 594.11,208.09 594.57,208.29 595.03,208.47 595.48,208.62 595.94,208.75 596.4,208.86 596.86,208.95 597.31,209.03 597.77,209.1 598.23,209.16 598.68,209.21 599.14,209.25 599.6,209.29 600.05,209.32 600.51,209.35 600.97,209.37 601.42,209.39 601.88,209.4 602.34,209.42 602.8,209.43 603.25,209.44 603.71,209.45 604.17,209.46 604.62,209.46 605.08,209.47 605.54,209.47 605.99,209.48 606.45,209.48 606.91,209.48 607.37,209.49 607.82,209.49 608.28,209.49 608.74,209.49 609.19,209.49 609.65,209.49 610.11,209.49 610.56,209.5 611.02,209.5 611.48,209.5 611.94,209.5 612.39,209.5 612.85,209.5 613.31,209.5 613.76,209.5 614.22,209.5 614.68,209.5 615.13,209.5 615.59,209.5 616.05,209.5 616.5,209.5 616.96,209.5 617.42,209.5 617.88,209.5 618.33,209.5 618.79,209.5 619.25,209.5 619.7,209.5 620.16,209.5 620.62,209.5 621.07,209.5 621.53,209.5 621.99,209.5 622.45,209.5 622.9,209.5 623.36,209.5 623.82,209.5 624.27,209.5 624.73,209.5 625.19,209.5 625.64,209.5 626.1,209.5 626.56,209.5 627.01,209.5 627.47,209.5 627.93,209.5 628.39,209.5 628.84,209.5 629.3,209.5 629.76,209.5 630.21,209.5 630.67,209.5 631.13,209.5 631.58,209.5 632.04,209.5 632.5,209.5 632.96,209.5 633.41,209.5 633.87,209.5 634.33,209.5 634.78,209.5 635.24,209.5 635.7,209.5 636.15,209.5 636.61,209.5 637.07,209.5 637.53,209.5 637.98,209.5 638.44,209.5 638.9,209.5 639.35,209.5 639.81,209.5 640.27,209.5 640.72,209.5 641.18,209.5 641.64,209.5 642.09,209.5 642.55,209.5 643.01,209.5 643.47,209.5 643.92,209.5 644.38,209.5 644.84,209.5 645.29,209.5 645.75,209.5 646.21,209.5 646.66,209.5 647.12,209.5 647.58,209.5 648.04,209.5 648.49,209.5 648.95,209.5 649.41,209.5 649.86,209.5 650.32,209.5 650.78,209.5 651.23,209.5 651.69,209.5 652.15,209.5 652.61,209.5 653.06,209.5 653.52,209.5 653.98,209.5 654.43,209.5 654.89,209.5 655.35,209.5 655.8,209.5 656.26,209.5 656.72,209.5 657.17,209.5 657.63,209.5 658.09,209.5 658.55,209.5 659,209.5 659.46,209.5 659.92,209.5 660.37,209.5 660.83,209.5 661.29,209.5 661.74,209.5 662.2,209.5 662.66,209.5 663.12,209.5 663.57,209.5 664.03,209.5 664.49,209.5 664.94,209.5 665.4,209.5" stroke="#00f" stroke-width="2"/>
<polyline points="409.5,209.5 409.96,209.5 410.41,209.5 410.87,209.5 411.33,209.5 411.78,209.5 412.24,209.5 412.7,209.5 413.16,209.5 413.61,209.5 414.07,209.5 414.53,209.5 414.98,209.5 415.44,209.5 415.9,209.5 416.35,209.5 416.81,209.5 417.27,209.5 417.73,209.5 418.18,209.5 418.64,209.5 419.1,209.5 419.55,209.5 420.01,209.5 420.47,209.5 420.92,209.5 421.38,209.5 421.84,209.5 422.3,209.5 422.75,209.5 423.21,209.5 423.67,209.5 424.12,209.5 424.58,209.5 425.04,209.5 425.49,209.5 425.95,209.5 426.41,209.5 426.86,209.5 427.32,209.5 427.78,209.5 428.24,209.5 428.69,209.5 429.15,209.5 429.61,209.5 430.06,209.5 430.52,209.5 430.98,209.5 431.43,209.5 431.89,209.5 432.35,209.5 432.81,209.5 433.26,209.5 433.72,209.5 434.18,209.5 434.63,209.5 435.09,209.5 435.55,209.5 436,209.5 436.46,209.5 436.92,209.5 437.37,209.5 437.83,209.5 438.29,209.5 438.75,209.5 439.2,209.5 439.66,209.5 440.12,209.5 440.57,209.5 441.03,209.5 441.49,209.5 441.94,209.5 442.4,209.5 442.86,209.5 443.32,209.5 443.77,209.5 444.23,209.5 444.69,209.5 445.14,209.5 445.6,209.5 446.06,209.5 446.51,209.5 446.97,209.5 447.43,209.5 447.88,209.5 448.34,209.5 448.8,209.5 449.26,209.5 449.71,209.5 450.17,209.5 450.63,209.5 451.08,209.5 451.54,209.5 452,209.5 452.45,209.5 452.91,209.5 453.37,209.5 453.83,209.5 454.28,209.5 454.74,209.5 455.2,209.5 455.65,209.5 456.11,209.5 456.57,209.5 457.02,209.5 457.48,209.5 457.94,209.5 458.4,209.5 458.85,209.5 459.31,209.5 459.77,209.5 460.22,209.5 460.68,209.5 461.14,209.5 461.59,209.5 462.05,209.5 462.51,209.5 462.96,209.5 463.42,209.5 463.88,209.5 464.34,209.5 464.79,209.49 465.25,209.49 465.71,209.49 466.16,209.49 466.62,209.49 467.08,209.49 467.53,209.49 467.99,209.48 468.45,209.48 468.91,209.48 469.36,209.47 469.82,209.47 470.28,209.46 470.73,209.46 471.19,209.45 471.65,209.44 472.1,209.43 472.56,209.42 473.02,209.4 473.48,209.39 473.93,209.37 474.39,209.35 474.85,209.32 475.3,209.29 475.76,209.25 476.22,209.21 476.67,209.16 477.13,209.1 477.59,209.03 478.04,208.95 478.5,208.86 478.96,208.75 479.42,208.62 479.87,208.47 480.33,208.29 480.79,208.09 481.24,207.84 481.7,207.56 482.16,207.23 482.61,206.85 483.07,206.4 483.53,205.87 483.99,205.25 484.44,204.54 484.9,203.7 485.36,202.73 485.81,201.59 486.27,200.28 486.73,198.75 487.18,196.98 487.64,194.92 488.1,192.56 488.55,189.83 489.01,186.69 489.47,183.1 489.93,179.01 490.38,174.37 490.84,169.12 491.3,163.23 491.75,156.66 492.21,149.41 492.67,141.46 493.12,132.85 493.58,123.66 494.04,113.97 494.5,103.96 494.95,93.81 495.41,83.78 495.87,74.17 496.32,65.29 496.78,57.49 497.24,51.08 497.69,46.35 498.15,43.52 498.61,42.72 499.06,44.01 499.52,47.32 499.98,52.47 500.44,59.25 500.89,67.34 501.35,76.42 501.81,86.16 502.26,96.24 502.72,106.38 503.18,116.33 503.63,125.91 504.09,134.98 504.55,143.43 505.01,151.21 505.46,158.3 505.92,164.7 506.38,170.44 506.83,175.54 507.29,180.04 507.75,184.01 508.2,187.48 508.66,190.52 509.12,193.16 509.58,195.44 510.03,197.43 510.49,199.14 510.95,200.61 511.4,201.88 511.86,202.98 512.32,203.91 512.77,204.72 513.23,205.41 513.69,206 514.14,206.51 514.6,206.94 515.06,207.32 515.52,207.63 515.97,207.91 516.43,208.14 516.89,208.34 517.34,208.51 517.8,208.65 518.26,208.78 518.71,208.88 519.17,208.97 519.63,209.05 520.09,209.11 520.54,209.17 521,209.22 521.46,209.26 521.91,209.3 522.37,209.33 522.83,209.35 523.28,209.37 523.74,209.39 524.2,209.41 524.65,209.42 525.11,209.43 525.57,209.44 526.03,209.45 526.48,209.46 526.94,209.46 527.4,209.47 527.85,209.47 528.31,209.48 528.77,209.48 529.22,209.48 529.68,209.49 530.14,209.49 530.6,209.49 531.05,209.49 531.51,209.49 531.97,209.49 532.42,209.49 532.88,209.5 533.34,209.5 533.79,209.5 534.25,209.5 534.71,209.5 535.17,209.5 535.62,209.5 536.08,209.5 536.54,209.5 536.99,209.5 537.45,209.5 537.91,209.5 538.36,209.5 538.82,209.5 539.28,209.5 539.73,209.5 540.19,209.5 540.65,209.5 541.11,209.5 541.56,209.5 542.02,209.5 542.48,209.49 542.93,209.49 543.39,209.49 543.85,209.49 544.3,209.49 544.76,209.49 545.22,209.49 545.68,209.48 546.13,209.48 546.59,209.48 547.05,209.47 547.5,209.47 547.96,209.46 548.42,209.46 548.87,209.45 549.33,209.44 549.79,209.43 550.25,209.42 550.7,209.41 551.16,209.39 551.62,209.37 552.07,209.35 552.53,209.33 552.99,209.3 553.44,209.26 553.9,209.22 554.36,209.17 554.81,209.11 555.27,209.05 555.73,208.97 556.19,208.88 556.64,208.78 557.1,208.65 557.56,208.51 558.01,208.34 558.47,208.14 558.93,207.91 559.38,207.63 559.84,207.32 560.3,206.94 560.76,206.51 561.21,206 561.67,205.41 562.13,204.72 562.58,203.91 563.04,202.98 563.5,201.88 563.95,200.61 564.41,199.14 564.87,197.43 565.32,195.44 565.78,193.16 566.24,190.52 566.7,187.48 567.15,184.01 567.61,180.04 568.07,175.54 568.52,170.44 568.98,164.7 569.44,158.3 569.89,151.21 570.35,143.43 570.81,134.98 571.27,125.91 571.72,116.33 572.18,106.38 572.64,96.24 573.09,86.16 573.55,76.42 574.01,67.34 574.46,59.25 574.92,52.47 575.38,47.32 575.84,44.01 576.29,42.72 576.75,43.52 577.21,46.35 577.66,51.08 578.12,57.49 578.58,65.29 579.03,74.17 579.49,83.78 579.95,93.81 580.4,103.96 580.86,113.97 581.32,123.66 581.78,132.85 582.23,141.46 582.69,149.41 583.15,156.66 583.6,163.23 584.06,169.12 584.52,174.37 584.97,179.01 585.43,183.1 585.89,186.69 586.35,189.83 586.8,192.56 587.26,194.92 587.72,196.98 588.17,198.75 588.63,200.28 589.09,201.59 589.54,202.73 590,203.7 590.46,204.54 590.91,205.25 591.37,205.87 591.83,206.4 592.29,206.85 592.74,207.23 593.2,207.56 593.66,207.84 594.11,208.09 594.57,208.29 595.03,208.47 595.48,208.62 595.94,208.75 596.4,208.86 596.86,208.95 597.31,209.03 597.77,209.1 598.23,209.16 598.68,209.21 599.14,209.25 599.6,209.29 600.05,209.32 600.51,209.35 600.97,209.37 601.42,209.39 601.88,209.4 602.34,209.42 602.8,209.43 603.25,209.44 603.71,209.45 604.17,209.46 604.62,209.46 605.08,209.47 605.54,209.47 605.99,209.48 606.45,209.48 606.91,209.48 607.37,209.49 607.82,209.49 608.28,209.49 608.74,209.49 609.19,209.49 609.65,209.49 610.11,209.49 610.56,209.5 611.02,209.5 611.48,209.5 611.94,209.5 612.39,209.5 612.85,209.5 613.31,209.5 613.76,209.5 614.22,209.5 614.68,209.5 615.13,209.5 615.59,209.5 616.05,209.5 616.5,209.5 616.96,209.5 617.42,209.5 617.88,209.5 618.33,209.5 618.79,209.5 619.25,209.5 619.7,209.5 620.16,209.5 620.62,209.5 621.07,209.5 621.53,209.5 621.99,209.5 622.45,209.5 622.9,209.5 623.36,209.5 623.82,209.5 624.27,209.5 624.73,209.5 625.19,209.5 625.64,209.5 626.1,209.5 626.56,209.5 627.01,209.5 627.47,209.5 627.93,209.5 628.39,209.5 628.84,209.5 629.3,209.5 629.76,209.5 630.21,209.5 630.67,209.5 631.13,209.5 631.58,209.5 632.04,209.5 632.5,209.5 632.96,209.5 633.41,209.5 633.87,209.5 634.33,209.5 634.78,209.5 635.24,209.5 635.7,209.5 636.15,209.5 636.61,209.5 637.07,209.5 637.53,209.5 637.98,209.5 638.44,209.5 638.9,209.5 639.35,209.5 639.81,209.5 640.27,209.5 640.72,209.5 641.18,209.5 641.64,209.5 642.09,209.5 642.55,209.5 643.01,209.5 643.47,209.5 643.92,209.5 644.38,209.5 644.84,209.5 645.29,209.5 645.75,209.5 646.21,209.5 646.66,209.5 647.12,209.5 647.58,209.5 648.04,209.5 648.49,209.5 648.95,209.5 649.41,209.5 649.86,209.5 650.32,209.5 650.78,209.5 651.23,209.5 651.69,209.5 652.15,209.5 652.61,209.5 653.06,209.5 653.52,209.5 653.98,209.5 654.43,209.5 654.89,209.5 655.35,209.5 655.8,209.5 656.26,209.5 656.72,209.5 657.17,209.5 657.63,209.5 658.09,209.5 658.55,209.5 659,209.5 659.46,209.5 659.92,209.5 660.37,209.5 660.83,209.5 661.29,209.5 661.74,209.5 662.2,209.5 662.66,209.5 663.12,209.5 663.57,209.5 664.03,209.5 664.49,209.5 664.94,209.5 665.4,209.5" stroke="#0f0" stroke-width="2" stroke-dasharray="6.6 6.6"/>
</g>
<text transform="translate(464.34 230.1) scale(1 1.06)" font-size="15.0" text-anchor="middle">-20</text>
<text transform="translate(537.45 230.1) scale(1 1.06)" font-size="15.0" text-anchor="middle">0</text>
<text transform="translate(610.56 230.1) scale(1 1.06)" font-size="15.0" text-anchor="middle">20</text>
<text transform="translate(404.5 215.5) scale(1 1.06)" font-size="15.0" text-anchor="end">0</text>
<text transform="translate(404.5 164.53) scale(1 1.06)" font-size="15.0" text-anchor="end">0.05</text>
<text transform="translate(404.5 113.55) scale(1 1.06)" font-size="15.0" text-anchor="end">0.&#8199;</text><path d="M400.37 113.55 400.37 103.95 398.04 105.71 398.04 104.39 400.48 102.61 401.69 102.61 401.69 113.55Z" fill="#262626"/>
<text transform="translate(404.5 62.58) scale(1 1.06)" font-size="15.0" text-anchor="end">0.&#8199;5</text><path d="M392.03 62.58 392.03 52.97 389.7 54.73 389.7 53.41 392.14 51.64 393.35 51.64 393.35 62.58Z" fill="#262626"/>
<text transform="translate(404.5 11.6) scale(1 1.06)" font-size="15.0" text-anchor="end">0.2</text>
<text transform="translate(537.45 251.1) scale(1 1.06)" font-size="16.5" text-anchor="middle">x</text>
<text transform="translate(360.9 0) rotate(-90)" font-size="16.5"><tspan x="-186.84" y="0">|</tspan><tspan x="-183.48" y="0" font-family="'Liberation Serif', serif" font-style="italic" fill="#555">&#968;</tspan><tspan x="-165.32" y="0">(x)|</tspan><tspan x="-141.71" y="-8.1" font-size="11.2">2</tspan><tspan x="-135.38" y="0">,</tspan><tspan x="-126.17" y="0">|</tspan><tspan x="-121.98" y="0" font-family="'Liberation Serif', serif" font-style="italic" fill="#555">&#968;</tspan><tspan x="-111.11" y="7.8" font-size="11.2">2</tspan><tspan x="-104.32" y="0">(x)|</tspan><tspan x="-80.76" y="-8.1" font-size="11.2">2</tspan><tspan x="-69.38" y="0">,</tspan><tspan x="-64.87" y="0">V</tspan><tspan x="-53.31" y="7.8" font-size="11.2">2</tspan><tspan x="-46.32" y="0">(x)</tspan></text><g transform="translate(360.9 0) rotate(-90)"><path d="M-171.31 7.8 -171.31 1.04 -173.05 2.28 -173.05 1.35 -171.23 0.09 -170.32 0.09 -170.32 7.8Z" fill="#262626" stroke="#262626" stroke-width="0.22"/></g>
<rect x="583.6" y="19.65" width="79.9" height="79.65" fill="#fff" stroke="#262626" stroke-width="0.7"/>
<path d="M587.8 34.35H614.8" stroke="#00f" stroke-width="2"/>
<path d="M587.8 61.45H614.8" stroke="#0f0" stroke-width="2" stroke-dasharray="7 7"/>
<path d="M588.2 86.15H613.3" stroke="#f00" stroke-width="1.5" stroke-dasharray="4.3 1.9 2 1.9"/>
<text transform="translate(0 38.25) scale(1 1.06)" font-size="13.5" fill="#000"><tspan x="616.8" y="0">|</tspan><tspan x="620.65" y="0" font-family="'Liberation Serif', serif" font-style="italic" fill="#555">&#968;</tspan><tspan x="635.3" y="0">(x)|</tspan><tspan x="655.2" y="-6.2" font-size="9.0">2</tspan></text><path d="M632.08 45.46 632.08 39.7 630.68 40.75 630.68 39.96 632.14 38.89 632.87 38.89 632.87 45.46Z" fill="#000" stroke="#000" stroke-width="0.22"/>
<text transform="translate(0 65.25) scale(1 1.06)" font-size="13.5" fill="#000"><tspan x="616.8" y="0">|</tspan><tspan x="620.65" y="0" font-family="'Liberation Serif', serif" font-style="italic" fill="#555">&#968;</tspan><tspan x="629.55" y="6.8" font-size="9.0">2</tspan><tspan x="635.3" y="0">(x)|</tspan><tspan x="655.2" y="-6.2" font-size="9.0">2</tspan></text>
<text transform="translate(0 88.35) scale(1 1.06)" font-size="13.5" fill="#000"><tspan x="616.8" y="0">V</tspan><tspan x="625.7" y="6.8" font-size="9.0">2</tspan><tspan x="631.9" y="0">(x)</tspan></text>
<text x="413.7" y="31.1" font-size="19.5" fill="#000">(b)</text>
<rect x="43.1" y="283.2" width="226.8" height="163.4" fill="#0b0000"/>
<defs><linearGradient id="c0"><stop offset="0%" stop-color="#0b0000"/><stop offset="100%" stop-color="#0b0000"/></linearGradient><linearGradient id="c1"><stop offset="0%" stop-color="#0b0000"/><stop offset="58.1%" stop-color="#0f0000"/><stop offset="100%" stop-color="#0b0000"/></linearGradient><linearGradient id="c2"><stop offset="0%" stop-color="#0b0000"/><stop offset="52.4%" stop-color="#0f0000"/><stop offset="75.1%" stop-color="#130000"/><stop offset="100%" stop-color="#0f0000"/></linearGradient><linearGradient id="c3"><stop offset="0%" stop-color="#0b0000"/><stop offset="49.6%" stop-color="#0f0000"/><stop offset="65.9%" stop-color="#1a0000"/><stop offset="100%" stop-color="#150000"/></linearGradient><linearGradient id="c4"><stop offset="0%" stop-color="#0b0000"/><stop offset="47.4%" stop-color="#0f0000"/><stop offset="63.9%" stop-color="#210000"/><stop offset="100%" stop-color="#1c0000"/></linearGradient><linearGradient id="c5"><stop offset="0%" stop-color="#0b0000"/><stop offset="45.6%" stop-color="#0f0000"/><stop offset="63.2%" stop-color="#2a0000"/><stop offset="97.4%" stop-color="#270000"/><stop offset="100%" stop-color="#260000"/></linearGradient><linearGradient id="c6"><stop offset="0%" stop-color="#0b0000"/><stop offset="44.3%" stop-color="#0f0000"/><stop offset="62.8%" stop-color="#350000"/><stop offset="81.7%" stop-color="#390000"/><stop offset="100%" stop-color="#340000"/></linearGradient><linearGradient id="c7"><stop offset="0%" stop-color="#0b0000"/><stop offset="42.7%" stop-color="#0f0000"/><stop offset="62.6%" stop-color="#420000"/><stop offset="74.9%" stop-color="#4a0000"/><stop offset="100%" stop-color="#460000"/></linearGradient><linearGradient id="c8"><stop offset="0%" stop-color="#0b0000"/><stop offset="41.6%" stop-color="#0f0000"/><stop offset="57.9%" stop-color="#460000"/><stop offset="71.1%" stop-color="#5f0000"/><stop offset="100%" stop-color="#5d0000"/></linearGradient><linearGradient id="c9"><stop offset="0%" stop-color="#0b0000"/><stop offset="40.5%" stop-color="#0e0000"/><stop offset="51.3%" stop-color="#350000"/><stop offset="61.9%" stop-color="#630000"/><stop offset="72.5%" stop-color="#770000"/><stop offset="100%" stop-color="#7a0000"/></linearGradient><linearGradient id="c10"><stop offset="0%" stop-color="#0b0000"/><stop offset="39.6%" stop-color="#0e0000"/><stop offset="49.1%" stop-color="#320000"/><stop offset="61.7%" stop-color="#770000"/><stop offset="72%" stop-color="#920000"/><stop offset="100%" stop-color="#9d0000"/></linearGradient><linearGradient id="c11"><stop offset="0%" stop-color="#0b0000"/><stop offset="38.8%" stop-color="#0f0000"/><stop offset="47.6%" stop-color="#310000"/><stop offset="61.9%" stop-color="#8e0000"/><stop offset="71.6%" stop-color="#b00000"/><stop offset="93.2%" stop-color="#c20000"/><stop offset="100%" stop-color="#c50000"/></linearGradient><linearGradient id="c12"><stop offset="0%" stop-color="#0b0000"/><stop offset="37.9%" stop-color="#0f0000"/><stop offset="46.7%" stop-color="#320000"/><stop offset="56.4%" stop-color="#7b0000"/><stop offset="61.9%" stop-color="#a40000"/><stop offset="71.4%" stop-color="#cf0000"/><stop offset="88.5%" stop-color="#e60000"/><stop offset="100%" stop-color="#ef0000"/></linearGradient><linearGradient id="c13"><stop offset="0%" stop-color="#0b0000"/><stop offset="37.2%" stop-color="#0f0000"/><stop offset="46%" stop-color="#330000"/><stop offset="53.7%" stop-color="#710000"/><stop offset="61.5%" stop-color="#b70000"/><stop offset="71.1%" stop-color="#ec0000"/><stop offset="81.5%" stop-color="#ff0300"/><stop offset="100%" stop-color="#ff1a00"/></linearGradient><linearGradient id="c14"><stop offset="0%" stop-color="#0b0000"/><stop offset="36.6%" stop-color="#0f0000"/><stop offset="45.4%" stop-color="#330000"/><stop offset="52.6%" stop-color="#710000"/><stop offset="61.5%" stop-color="#c90000"/><stop offset="69.8%" stop-color="#ff0100"/><stop offset="84.4%" stop-color="#ff2400"/><stop offset="100%" stop-color="#ff3c00"/></linearGradient><linearGradient id="c15"><stop offset="0%" stop-color="#0b0000"/><stop offset="35.9%" stop-color="#0e0000"/><stop offset="44.7%" stop-color="#330000"/><stop offset="52%" stop-color="#730000"/><stop offset="61.5%" stop-color="#d70000"/><stop offset="67.2%" stop-color="#ff0100"/><stop offset="72.5%" stop-color="#ff1a00"/><stop offset="84.8%" stop-color="#ff3900"/><stop offset="100%" stop-color="#ff5200"/></linearGradient><linearGradient id="c16"><stop offset="0%" stop-color="#0b0000"/><stop offset="35.5%" stop-color="#0e0000"/><stop offset="44.1%" stop-color="#330000"/><stop offset="51.5%" stop-color="#740000"/><stop offset="61.5%" stop-color="#df0000"/><stop offset="66.1%" stop-color="#ff0200"/><stop offset="72.2%" stop-color="#ff2000"/><stop offset="84.6%" stop-color="#ff3f00"/><stop offset="100%" stop-color="#ff5800"/></linearGradient><linearGradient id="c17"><stop offset="0%" stop-color="#0b0000"/><stop offset="35%" stop-color="#0e0000"/><stop offset="43.8%" stop-color="#350000"/><stop offset="51.5%" stop-color="#770000"/><stop offset="61.2%" stop-color="#de0000"/><stop offset="66.3%" stop-color="#ff0200"/><stop offset="73.1%" stop-color="#ff1d00"/><stop offset="85%" stop-color="#ff3700"/><stop offset="100%" stop-color="#ff4c00"/></linearGradient><linearGradient id="c18"><stop offset="0%" stop-color="#0b0000"/><stop offset="34.6%" stop-color="#0f0000"/><stop offset="43.4%" stop-color="#350000"/><stop offset="50.7%" stop-color="#6f0000"/><stop offset="61%" stop-color="#d60000"/><stop offset="67.8%" stop-color="#fc0000"/><stop offset="84.1%" stop-color="#ff2100"/><stop offset="100%" stop-color="#ff3000"/></linearGradient><linearGradient id="c19"><stop offset="0%" stop-color="#0b0000"/><stop offset="33.9%" stop-color="#0f0000"/><stop offset="42.7%" stop-color="#320000"/><stop offset="50%" stop-color="#670000"/><stop offset="60.4%" stop-color="#c60000"/><stop offset="68.1%" stop-color="#e90000"/><stop offset="82.6%" stop-color="#ff0200"/><stop offset="100%" stop-color="#ff0a00"/></linearGradient><linearGradient id="c20"><stop offset="0%" stop-color="#0b0000"/><stop offset="33.3%" stop-color="#0f0000"/><stop offset="42.7%" stop-color="#330000"/><stop offset="50.7%" stop-color="#6b0000"/><stop offset="59.9%" stop-color="#b50000"/><stop offset="68.5%" stop-color="#d10000"/><stop offset="87.4%" stop-color="#df0000"/><stop offset="100%" stop-color="#de0000"/></linearGradient><linearGradient id="c21"><stop offset="0%" stop-color="#0b0000"/><stop offset="32.6%" stop-color="#0f0000"/><stop offset="42.7%" stop-color="#340000"/><stop offset="52.4%" stop-color="#750000"/><stop offset="60.6%" stop-color="#a60000"/><stop offset="70.5%" stop-color="#b60000"/><stop offset="98.5%" stop-color="#b50000"/><stop offset="100%" stop-color="#b40000"/></linearGradient><linearGradient id="c22"><stop offset="0%" stop-color="#0b0000"/><stop offset="31.9%" stop-color="#0f0000"/><stop offset="42.3%" stop-color="#320000"/><stop offset="58.8%" stop-color="#8e0000"/><stop offset="68.5%" stop-color="#990000"/><stop offset="100%" stop-color="#8e0000"/></linearGradient><linearGradient id="c23"><stop offset="0%" stop-color="#0b0000"/><stop offset="31.3%" stop-color="#0f0000"/><stop offset="42.1%" stop-color="#320000"/><stop offset="57.7%" stop-color="#7c0000"/><stop offset="66.7%" stop-color="#810000"/><stop offset="100%" stop-color="#6e0000"/></linearGradient><linearGradient id="c24"><stop offset="0%" stop-color="#0b0000"/><stop offset="30.4%" stop-color="#0f0000"/><stop offset="42.3%" stop-color="#330000"/><stop offset="57%" stop-color="#6d0000"/><stop offset="66.3%" stop-color="#6d0000"/><stop offset="86.3%" stop-color="#5c0000"/><stop offset="100%" stop-color="#530000"/></linearGradient><linearGradient id="c25"><stop offset="0%" stop-color="#0b0000"/><stop offset="29.5%" stop-color="#0e0000"/><stop offset="43.8%" stop-color="#3a0000"/><stop offset="56.6%" stop-color="#620000"/><stop offset="67%" stop-color="#5a0000"/><stop offset="81.7%" stop-color="#490000"/><stop offset="100%" stop-color="#3e0000"/></linearGradient><linearGradient id="c26"><stop offset="0%" stop-color="#0b0000"/><stop offset="28.6%" stop-color="#0f0000"/><stop offset="55.5%" stop-color="#590000"/><stop offset="65.2%" stop-color="#4f0000"/><stop offset="80%" stop-color="#390000"/><stop offset="100%" stop-color="#2e0000"/></linearGradient><linearGradient id="c27"><stop offset="0%" stop-color="#0b0000"/><stop offset="27.8%" stop-color="#0f0000"/><stop offset="52.9%" stop-color="#510000"/><stop offset="61.7%" stop-color="#4d0000"/><stop offset="79.1%" stop-color="#2c0000"/><stop offset="100%" stop-color="#220000"/></linearGradient><linearGradient id="c28"><stop offset="0%" stop-color="#0b0000"/><stop offset="26%" stop-color="#0f0000"/><stop offset="50.4%" stop-color="#4b0000"/><stop offset="58.6%" stop-color="#4c0000"/><stop offset="78.9%" stop-color="#210000"/><stop offset="100%" stop-color="#190000"/></linearGradient><linearGradient id="c29"><stop offset="0%" stop-color="#0b0000"/><stop offset="24%" stop-color="#0f0000"/><stop offset="48.9%" stop-color="#4b0000"/><stop offset="57.9%" stop-color="#4a0000"/><stop offset="78.4%" stop-color="#190000"/><stop offset="100%" stop-color="#120000"/></linearGradient><linearGradient id="c30"><stop offset="0%" stop-color="#0b0000"/><stop offset="22%" stop-color="#0f0000"/><stop offset="48%" stop-color="#4d0000"/><stop offset="57.5%" stop-color="#4a0000"/><stop offset="78.2%" stop-color="#130000"/><stop offset="100%" stop-color="#0d0000"/></linearGradient><linearGradient id="c31"><stop offset="0%" stop-color="#0b0000"/><stop offset="20.3%" stop-color="#0f0000"/><stop offset="46.9%" stop-color="#510000"/><stop offset="57%" stop-color="#4b0000"/><stop offset="77.8%" stop-color="#0e0000"/><stop offset="100%" stop-color="#0b0000"/></linearGradient><linearGradient id="c32"><stop offset="0%" stop-color="#0b0000"/><stop offset="18.5%" stop-color="#0f0000"/><stop offset="45.6%" stop-color="#570000"/><stop offset="56.4%" stop-color="#4f0000"/><stop offset="77.5%" stop-color="#0b0000"/><stop offset="100%" stop-color="#0b0000"/></linearGradient><linearGradient id="c33"><stop offset="0%" stop-color="#0b0000"/><stop offset="16.3%" stop-color="#0f0000"/><stop offset="43.4%" stop-color="#5c0000"/><stop offset="53.7%" stop-color="#590000"/><stop offset="76.9%" stop-color="#0b0000"/><stop offset="100%" stop-color="#0b0000"/></linearGradient><linearGradient id="c34"><stop offset="0%" stop-color="#0b0000"/><stop offset="14.3%" stop-color="#100000"/><stop offset="40.7%" stop-color="#610000"/><stop offset="48.5%" stop-color="#660000"/><stop offset="57.5%" stop-color="#530000"/><stop offset="75.8%" stop-color="#0b0000"/><stop offset="100%" stop-color="#0b0000"/></linearGradient><linearGradient id="c35"><stop offset="0%" stop-color="#0b0000"/><stop offset="11.9%" stop-color="#130000"/><stop offset="39%" stop-color="#6a0000"/><stop offset="47.6%" stop-color="#710000"/><stop offset="57.3%" stop-color="#590000"/><stop offset="75.3%" stop-color="#0b0000"/><stop offset="100%" stop-color="#0b0000"/></linearGradient><linearGradient id="c36"><stop offset="0%" stop-color="#0e0000"/><stop offset="13.4%" stop-color="#230000"/><stop offset="36.1%" stop-color="#730000"/><stop offset="46.5%" stop-color="#7d0000"/><stop offset="56.6%" stop-color="#620000"/><stop offset="74.9%" stop-color="#0b0000"/><stop offset="100%" stop-color="#0b0000"/></linearGradient><linearGradient id="c37"><stop offset="0%" stop-color="#180000"/><stop offset="13.4%" stop-color="#330000"/><stop offset="33.7%" stop-color="#7e0000"/><stop offset="45.2%" stop-color="#8b0000"/><stop offset="55.9%" stop-color="#6c0000"/><stop offset="74%" stop-color="#0e0000"/><stop offset="100%" stop-color="#0b0000"/></linearGradient><linearGradient id="c38"><stop offset="0%" stop-color="#270000"/><stop offset="15%" stop-color="#4f0000"/><stop offset="30.6%" stop-color="#8a0000"/><stop offset="41.6%" stop-color="#990000"/><stop offset="48.9%" stop-color="#8f0000"/><stop offset="57.5%" stop-color="#6a0000"/><stop offset="73.6%" stop-color="#100000"/><stop offset="78.6%" stop-color="#0b0000"/><stop offset="100%" stop-color="#0b0000"/></linearGradient><linearGradient id="c39"><stop offset="0%" stop-color="#3d0000"/><stop offset="11.2%" stop-color="#5d0000"/><stop offset="28.9%" stop-color="#9d0000"/><stop offset="39.6%" stop-color="#ab0000"/><stop offset="47.6%" stop-color="#9f0000"/><stop offset="57%" stop-color="#740000"/><stop offset="73.1%" stop-color="#120000"/><stop offset="76.9%" stop-color="#0b0000"/><stop offset="100%" stop-color="#0b0000"/></linearGradient><linearGradient id="c40"><stop offset="0%" stop-color="#5b0000"/><stop offset="4%" stop-color="#6f0000"/><stop offset="10.6%" stop-color="#810000"/><stop offset="28.6%" stop-color="#b60000"/><stop offset="39.4%" stop-color="#bd0000"/><stop offset="47.4%" stop-color="#ad0000"/><stop offset="57%" stop-color="#7b0000"/><stop offset="72.5%" stop-color="#160000"/><stop offset="76.2%" stop-color="#0b0000"/><stop offset="100%" stop-color="#0b0000"/></linearGradient><linearGradient id="c41"><stop offset="0%" stop-color="#820000"/><stop offset="3.3%" stop-color="#9d0000"/><stop offset="9.5%" stop-color="#ae0000"/><stop offset="13%" stop-color="#b20000"/><stop offset="28.2%" stop-color="#d20000"/><stop offset="39.2%" stop-color="#d00000"/><stop offset="47.4%" stop-color="#ba0000"/><stop offset="57%" stop-color="#820000"/><stop offset="71.6%" stop-color="#1b0000"/><stop offset="75.8%" stop-color="#0b0000"/><stop offset="100%" stop-color="#0b0000"/></linearGradient><linearGradient id="c42"><stop offset="0%" stop-color="#b30000"/><stop offset="3.1%" stop-color="#d70000"/><stop offset="8.6%" stop-color="#e70000"/><stop offset="12.3%" stop-color="#e10000"/><stop offset="28.4%" stop-color="#ef0000"/><stop offset="39.6%" stop-color="#e20000"/><stop offset="47.8%" stop-color="#c40000"/><stop offset="57.3%" stop-color="#870000"/><stop offset="71.1%" stop-color="#1e0000"/><stop offset="75.8%" stop-color="#0b0000"/><stop offset="100%" stop-color="#0b0000"/></linearGradient><linearGradient id="c43"><stop offset="0%" stop-color="#ed0000"/><stop offset="1.3%" stop-color="#ff0500"/><stop offset="3.1%" stop-color="#ff1d00"/><stop offset="6.2%" stop-color="#ff2b00"/><stop offset="9.3%" stop-color="#ff2600"/><stop offset="12.1%" stop-color="#ff1800"/><stop offset="34.8%" stop-color="#ff0200"/><stop offset="45.6%" stop-color="#dd0000"/><stop offset="56.6%" stop-color="#930000"/><stop offset="70.5%" stop-color="#230000"/><stop offset="75.8%" stop-color="#0b0000"/><stop offset="100%" stop-color="#0b0000"/></linearGradient><linearGradient id="c44"><stop offset="0%" stop-color="#ff2e00"/><stop offset="2.6%" stop-color="#ff6600"/><stop offset="5.5%" stop-color="#ff7900"/><stop offset="8.8%" stop-color="#ff6d00"/><stop offset="12.1%" stop-color="#ff5200"/><stop offset="38.5%" stop-color="#ff0900"/><stop offset="42.5%" stop-color="#f80000"/><stop offset="51.8%" stop-color="#c00000"/><stop offset="70.5%" stop-color="#240000"/><stop offset="75.8%" stop-color="#0b0000"/><stop offset="100%" stop-color="#0b0000"/></linearGradient><linearGradient id="c45"><stop offset="0%" stop-color="#ff7000"/><stop offset="2.6%" stop-color="#ffb400"/><stop offset="5.3%" stop-color="#ffcb00"/><stop offset="8.6%" stop-color="#ffb500"/><stop offset="11.9%" stop-color="#ff8b00"/><stop offset="25.8%" stop-color="#ff4a00"/><stop offset="40.7%" stop-color="#ff0e00"/><stop offset="44.5%" stop-color="#fb0000"/><stop offset="56.2%" stop-color="#a30000"/><stop offset="69.6%" stop-color="#2b0000"/><stop offset="75.8%" stop-color="#0b0000"/><stop offset="100%" stop-color="#0b0000"/></linearGradient><linearGradient id="c46"><stop offset="0%" stop-color="#ffae00"/><stop offset="2.6%" stop-color="#ffff00"/><stop offset="5.1%" stop-color="#ffff29"/><stop offset="8.1%" stop-color="#fffe00"/><stop offset="11.9%" stop-color="#ffc000"/><stop offset="22.5%" stop-color="#ff7500"/><stop offset="44.9%" stop-color="#ff0300"/><stop offset="55.3%" stop-color="#b00000"/><stop offset="68.7%" stop-color="#330000"/><stop offset="75.6%" stop-color="#0b0000"/><stop offset="100%" stop-color="#0b0000"/></linearGradient><linearGradient id="c47"><stop offset="0%" stop-color="#ffe400"/><stop offset="0.7%" stop-color="#fffb00"/><stop offset="1.3%" stop-color="#ffff1e"/><stop offset="2.6%" stop-color="#ffff5f"/><stop offset="5.1%" stop-color="#ffff8d"/><stop offset="8.1%" stop-color="#ffff53"/><stop offset="10.8%" stop-color="#fffe00"/><stop offset="12.1%" stop-color="#ffe900"/><stop offset="21.8%" stop-color="#ff9100"/><stop offset="32.4%" stop-color="#ff5300"/><stop offset="46.7%" stop-color="#fb0000"/><stop offset="57.5%" stop-color="#9d0000"/><stop offset="69.4%" stop-color="#2e0000"/><stop offset="75.8%" stop-color="#0b0000"/><stop offset="100%" stop-color="#0b0000"/></linearGradient><linearGradient id="c48"><stop offset="0%" stop-color="#ffff11"/><stop offset="2.4%" stop-color="#ffff9d"/><stop offset="5.1%" stop-color="#ffffd6"/><stop offset="8.1%" stop-color="#ffff8f"/><stop offset="11.7%" stop-color="#ffff14"/><stop offset="13%" stop-color="#fffd00"/><stop offset="21.4%" stop-color="#ffa500"/><stop offset="29.1%" stop-color="#ff7000"/><stop offset="47.1%" stop-color="#fc0000"/><stop offset="57.5%" stop-color="#9f0000"/><stop offset="69.2%" stop-color="#300000"/><stop offset="75.8%" stop-color="#0b0000"/><stop offset="100%" stop-color="#0b0000"/></linearGradient><linearGradient id="c49"><stop offset="0%" stop-color="#ffff2e"/><stop offset="2.4%" stop-color="#ffffbf"/><stop offset="5.1%" stop-color="#fffffa"/><stop offset="8.1%" stop-color="#ffffad"/><stop offset="11.7%" stop-color="#ffff2c"/><stop offset="14.1%" stop-color="#fffe00"/><stop offset="21.6%" stop-color="#ffac00"/><stop offset="28.9%" stop-color="#ff7700"/><stop offset="47.4%" stop-color="#fd0000"/><stop offset="57.7%" stop-color="#9e0000"/><stop offset="69.2%" stop-color="#310000"/><stop offset="75.8%" stop-color="#0b0000"/><stop offset="100%" stop-color="#0b0000"/></linearGradient><linearGradient id="c50"><stop offset="0%" stop-color="#ffff2b"/><stop offset="2.4%" stop-color="#ffffbb"/><stop offset="5.1%" stop-color="#fffff6"/><stop offset="8.1%" stop-color="#ffffaa"/><stop offset="11.7%" stop-color="#ffff29"/><stop offset="14.1%" stop-color="#fffc00"/><stop offset="21.6%" stop-color="#ffab00"/><stop offset="28.9%" stop-color="#ff7700"/><stop offset="47.4%" stop-color="#fc0000"/><stop offset="57.7%" stop-color="#9e0000"/><stop offset="69.2%" stop-color="#310000"/><stop offset="75.8%" stop-color="#0b0000"/><stop offset="100%" stop-color="#0b0000"/></linearGradient><linearGradient id="c51"><stop offset="0%" stop-color="#ffff08"/><stop offset="2.4%" stop-color="#ffff91"/><stop offset="5.1%" stop-color="#ffffca"/><stop offset="8.1%" stop-color="#ffff85"/><stop offset="11.7%" stop-color="#ffff0d"/><stop offset="12.8%" stop-color="#fffb00"/><stop offset="21.6%" stop-color="#ffa100"/><stop offset="29.5%" stop-color="#ff6c00"/><stop offset="47.1%" stop-color="#fc0000"/><stop offset="57.5%" stop-color="#9f0000"/><stop offset="69.2%" stop-color="#300000"/><stop offset="75.8%" stop-color="#0b0000"/><stop offset="100%" stop-color="#0b0000"/></linearGradient><linearGradient id="c52"><stop offset="0%" stop-color="#ffda00"/><stop offset="1.1%" stop-color="#ffff02"/><stop offset="2.6%" stop-color="#ffff4e"/><stop offset="5.1%" stop-color="#ffff7b"/><stop offset="8.1%" stop-color="#ffff44"/><stop offset="10.4%" stop-color="#ffff00"/><stop offset="11.9%" stop-color="#ffe400"/><stop offset="21.8%" stop-color="#ff8d00"/><stop offset="33.9%" stop-color="#ff4900"/><stop offset="46.5%" stop-color="#fc0000"/><stop offset="57.3%" stop-color="#9f0000"/><stop offset="69.4%" stop-color="#2e0000"/><stop offset="75.8%" stop-color="#0b0000"/><stop offset="100%" stop-color="#0b0000"/></linearGradient><linearGradient id="c53"><stop offset="0%" stop-color="#ffa200"/><stop offset="2.6%" stop-color="#fff100"/><stop offset="4.2%" stop-color="#ffff05"/><stop offset="5.1%" stop-color="#ffff13"/><stop offset="7%" stop-color="#fffc00"/><stop offset="9.3%" stop-color="#ffdf00"/><stop offset="11.9%" stop-color="#ffb600"/><stop offset="22.9%" stop-color="#ff6d00"/><stop offset="43.6%" stop-color="#ff0800"/><stop offset="46%" stop-color="#f80000"/><stop offset="57.3%" stop-color="#9b0000"/><stop offset="69.8%" stop-color="#2a0000"/><stop offset="75.8%" stop-color="#0b0000"/><stop offset="100%" stop-color="#0b0000"/></linearGradient><linearGradient id="c54"><stop offset="0%" stop-color="#ff6200"/><stop offset="2.6%" stop-color="#ffa500"/><stop offset="5.3%" stop-color="#ffbb00"/><stop offset="8.6%" stop-color="#ffa700"/><stop offset="11.9%" stop-color="#ff8000"/><stop offset="26.4%" stop-color="#ff4300"/><stop offset="41%" stop-color="#ff0b00"/><stop offset="44.3%" stop-color="#f90000"/><stop offset="55.7%" stop-color="#a60000"/><stop offset="69.6%" stop-color="#2b0000"/><stop offset="75.8%" stop-color="#0b0000"/><stop offset="100%" stop-color="#0b0000"/></linearGradient><linearGradient id="c55"><stop offset="0%" stop-color="#ff2100"/><stop offset="2.6%" stop-color="#ff5600"/><stop offset="5.5%" stop-color="#ff6900"/><stop offset="8.8%" stop-color="#ff5f00"/><stop offset="12.1%" stop-color="#ff4600"/><stop offset="37.7%" stop-color="#ff0900"/><stop offset="41.6%" stop-color="#f90000"/><stop offset="49.8%" stop-color="#cc0000"/><stop offset="58.4%" stop-color="#880000"/><stop offset="70.7%" stop-color="#220000"/><stop offset="75.8%" stop-color="#0b0000"/><stop offset="100%" stop-color="#0b0000"/></linearGradient><linearGradient id="c56"><stop offset="0%" stop-color="#e10000"/><stop offset="2%" stop-color="#ff0200"/><stop offset="4.6%" stop-color="#ff1800"/><stop offset="8.8%" stop-color="#ff1b00"/><stop offset="12.1%" stop-color="#ff0d00"/><stop offset="32.8%" stop-color="#ff0200"/><stop offset="44.5%" stop-color="#df0000"/><stop offset="55.7%" stop-color="#990000"/><stop offset="70.5%" stop-color="#230000"/><stop offset="75.8%" stop-color="#0b0000"/><stop offset="100%" stop-color="#0b0000"/></linearGradient><linearGradient id="c57"><stop offset="0%" stop-color="#a80000"/><stop offset="3.1%" stop-color="#ca0000"/><stop offset="8.8%" stop-color="#db0000"/><stop offset="12.6%" stop-color="#d70000"/><stop offset="28.6%" stop-color="#e90000"/><stop offset="39.9%" stop-color="#de0000"/><stop offset="47.8%" stop-color="#c20000"/><stop offset="57.3%" stop-color="#860000"/><stop offset="71.1%" stop-color="#1e0000"/><stop offset="75.8%" stop-color="#0b0000"/><stop offset="100%" stop-color="#0b0000"/></linearGradient><linearGradient id="c58"><stop offset="0%" stop-color="#790000"/><stop offset="3.5%" stop-color="#930000"/><stop offset="9.5%" stop-color="#a40000"/><stop offset="13.2%" stop-color="#a90000"/><stop offset="28.4%" stop-color="#cc0000"/><stop offset="39.4%" stop-color="#cc0000"/><stop offset="47.6%" stop-color="#b60000"/><stop offset="57.3%" stop-color="#7f0000"/><stop offset="71.8%" stop-color="#1a0000"/><stop offset="76%" stop-color="#0b0000"/><stop offset="100%" stop-color="#0b0000"/></linearGradient><linearGradient id="c59"><stop offset="0%" stop-color="#540000"/><stop offset="4.2%" stop-color="#670000"/><stop offset="10.8%" stop-color="#790000"/><stop offset="28.4%" stop-color="#b00000"/><stop offset="39.2%" stop-color="#b90000"/><stop offset="47.4%" stop-color="#aa0000"/><stop offset="57%" stop-color="#7a0000"/><stop offset="72.7%" stop-color="#150000"/><stop offset="76.2%" stop-color="#0b0000"/><stop offset="100%" stop-color="#0b0000"/></linearGradient><linearGradient id="c60"><stop offset="0%" stop-color="#380000"/><stop offset="15.4%" stop-color="#670000"/><stop offset="30.2%" stop-color="#9b0000"/><stop offset="41%" stop-color="#a70000"/><stop offset="48.2%" stop-color="#9a0000"/><stop offset="57.3%" stop-color="#710000"/><stop offset="73.1%" stop-color="#120000"/><stop offset="76.9%" stop-color="#0b0000"/><stop offset="100%" stop-color="#0b0000"/></linearGradient><linearGradient id="c61"><stop offset="0%" stop-color="#240000"/><stop offset="15%" stop-color="#4a0000"/><stop offset="31.1%" stop-color="#870000"/><stop offset="42.3%" stop-color="#960000"/><stop offset="50%" stop-color="#890000"/><stop offset="58.1%" stop-color="#650000"/><stop offset="73.8%" stop-color="#0f0000"/><stop offset="85%" stop-color="#0b0000"/><stop offset="100%" stop-color="#0b0000"/></linearGradient><linearGradient id="c62"><stop offset="0%" stop-color="#160000"/><stop offset="13.4%" stop-color="#2f0000"/><stop offset="34.4%" stop-color="#7c0000"/><stop offset="45.6%" stop-color="#870000"/><stop offset="56.2%" stop-color="#690000"/><stop offset="74.2%" stop-color="#0d0000"/><stop offset="100%" stop-color="#0b0000"/></linearGradient><linearGradient id="c63"><stop offset="0%" stop-color="#0d0000"/><stop offset="13.7%" stop-color="#210000"/><stop offset="36.6%" stop-color="#700000"/><stop offset="46.7%" stop-color="#7a0000"/><stop offset="56.8%" stop-color="#600000"/><stop offset="74.9%" stop-color="#0b0000"/><stop offset="100%" stop-color="#0b0000"/></linearGradient><linearGradient id="c64"><stop offset="0%" stop-color="#0b0000"/><stop offset="12.1%" stop-color="#120000"/><stop offset="39.4%" stop-color="#680000"/><stop offset="47.6%" stop-color="#6f0000"/><stop offset="57.3%" stop-color="#580000"/><stop offset="75.3%" stop-color="#0b0000"/><stop offset="100%" stop-color="#0b0000"/></linearGradient><linearGradient id="c65"><stop offset="0%" stop-color="#0b0000"/><stop offset="15%" stop-color="#100000"/><stop offset="41%" stop-color="#5f0000"/><stop offset="48.7%" stop-color="#650000"/><stop offset="57.7%" stop-color="#510000"/><stop offset="76%" stop-color="#0b0000"/><stop offset="100%" stop-color="#0b0000"/></linearGradient><linearGradient id="c66"><stop offset="0%" stop-color="#0b0000"/><stop offset="16.7%" stop-color="#0f0000"/><stop offset="43.8%" stop-color="#5b0000"/><stop offset="54.8%" stop-color="#560000"/><stop offset="76.9%" stop-color="#0b0000"/><stop offset="100%" stop-color="#0b0000"/></linearGradient><linearGradient id="c67"><stop offset="0%" stop-color="#0b0000"/><stop offset="18.7%" stop-color="#0f0000"/><stop offset="45.8%" stop-color="#560000"/><stop offset="56.6%" stop-color="#4e0000"/><stop offset="77.5%" stop-color="#0b0000"/><stop offset="100%" stop-color="#0b0000"/></linearGradient><linearGradient id="c68"><stop offset="0%" stop-color="#0b0000"/><stop offset="20.7%" stop-color="#0f0000"/><stop offset="47.1%" stop-color="#500000"/><stop offset="57.3%" stop-color="#4a0000"/><stop offset="78%" stop-color="#0f0000"/><stop offset="100%" stop-color="#0b0000"/></linearGradient><linearGradient id="c69"><stop offset="0%" stop-color="#0b0000"/><stop offset="22.5%" stop-color="#0f0000"/><stop offset="48.2%" stop-color="#4d0000"/><stop offset="57.7%" stop-color="#490000"/><stop offset="78.2%" stop-color="#140000"/><stop offset="100%" stop-color="#0e0000"/></linearGradient><linearGradient id="c70"><stop offset="0%" stop-color="#0b0000"/><stop offset="24.2%" stop-color="#0f0000"/><stop offset="49.1%" stop-color="#4b0000"/><stop offset="57.9%" stop-color="#4a0000"/><stop offset="78.4%" stop-color="#1a0000"/><stop offset="100%" stop-color="#130000"/></linearGradient><linearGradient id="c71"><stop offset="0%" stop-color="#0b0000"/><stop offset="26.2%" stop-color="#0f0000"/><stop offset="50.9%" stop-color="#4c0000"/><stop offset="59%" stop-color="#4c0000"/><stop offset="78.9%" stop-color="#230000"/><stop offset="100%" stop-color="#1b0000"/></linearGradient><linearGradient id="c72"><stop offset="0%" stop-color="#0b0000"/><stop offset="28%" stop-color="#0f0000"/><stop offset="53.5%" stop-color="#520000"/><stop offset="62.6%" stop-color="#4d0000"/><stop offset="79.3%" stop-color="#2e0000"/><stop offset="100%" stop-color="#240000"/></linearGradient><linearGradient id="c73"><stop offset="0%" stop-color="#0b0000"/><stop offset="28.9%" stop-color="#0f0000"/><stop offset="46.5%" stop-color="#430000"/><stop offset="57%" stop-color="#5b0000"/><stop offset="72.5%" stop-color="#440000"/><stop offset="100%" stop-color="#310000"/></linearGradient><linearGradient id="c74"><stop offset="0%" stop-color="#0b0000"/><stop offset="29.7%" stop-color="#0f0000"/><stop offset="43.4%" stop-color="#380000"/><stop offset="56.6%" stop-color="#640000"/><stop offset="66.3%" stop-color="#5e0000"/><stop offset="81.9%" stop-color="#4d0000"/><stop offset="100%" stop-color="#420000"/></linearGradient><linearGradient id="c75"><stop offset="0%" stop-color="#0b0000"/><stop offset="30.6%" stop-color="#0f0000"/><stop offset="42.3%" stop-color="#330000"/><stop offset="57.3%" stop-color="#700000"/><stop offset="66.7%" stop-color="#700000"/><stop offset="91.9%" stop-color="#5e0000"/><stop offset="100%" stop-color="#580000"/></linearGradient><linearGradient id="c76"><stop offset="0%" stop-color="#0b0000"/><stop offset="31.3%" stop-color="#0e0000"/><stop offset="41.9%" stop-color="#310000"/><stop offset="57.9%" stop-color="#7f0000"/><stop offset="67.2%" stop-color="#860000"/><stop offset="100%" stop-color="#740000"/></linearGradient><linearGradient id="c77"><stop offset="0%" stop-color="#0b0000"/><stop offset="32.2%" stop-color="#0f0000"/><stop offset="42.5%" stop-color="#330000"/><stop offset="58.8%" stop-color="#910000"/><stop offset="68.3%" stop-color="#9f0000"/><stop offset="100%" stop-color="#960000"/></linearGradient><linearGradient id="c78"><stop offset="0%" stop-color="#0b0000"/><stop offset="32.8%" stop-color="#0f0000"/><stop offset="42.7%" stop-color="#340000"/><stop offset="52%" stop-color="#720000"/><stop offset="60.4%" stop-color="#a90000"/><stop offset="70%" stop-color="#bc0000"/><stop offset="95.8%" stop-color="#be0000"/><stop offset="100%" stop-color="#bd0000"/></linearGradient><linearGradient id="c79"><stop offset="0%" stop-color="#0b0000"/><stop offset="33.5%" stop-color="#0f0000"/><stop offset="42.7%" stop-color="#330000"/><stop offset="50.4%" stop-color="#690000"/><stop offset="59.9%" stop-color="#b80000"/><stop offset="68.3%" stop-color="#d50000"/><stop offset="86.3%" stop-color="#e60000"/><stop offset="100%" stop-color="#e70000"/></linearGradient><linearGradient id="c80"><stop offset="0%" stop-color="#0b0000"/><stop offset="34.1%" stop-color="#0f0000"/><stop offset="43%" stop-color="#330000"/><stop offset="50.2%" stop-color="#690000"/><stop offset="60.6%" stop-color="#ca0000"/><stop offset="68.1%" stop-color="#ed0000"/><stop offset="79.3%" stop-color="#ff0500"/><stop offset="100%" stop-color="#ff1200"/></linearGradient><linearGradient id="c81"><stop offset="0%" stop-color="#0b0000"/><stop offset="34.8%" stop-color="#0f0000"/><stop offset="43.6%" stop-color="#350000"/><stop offset="51.3%" stop-color="#760000"/><stop offset="61.2%" stop-color="#d90000"/><stop offset="67.8%" stop-color="#ff0000"/><stop offset="83%" stop-color="#ff2500"/><stop offset="100%" stop-color="#ff3700"/></linearGradient><linearGradient id="c82"><stop offset="0%" stop-color="#0b0000"/><stop offset="35.2%" stop-color="#0f0000"/><stop offset="44.1%" stop-color="#360000"/><stop offset="51.5%" stop-color="#770000"/><stop offset="61.2%" stop-color="#de0000"/><stop offset="66.1%" stop-color="#ff0200"/><stop offset="72.9%" stop-color="#ff1e00"/><stop offset="85%" stop-color="#ff3a00"/><stop offset="100%" stop-color="#ff4f00"/></linearGradient><linearGradient id="c83"><stop offset="0%" stop-color="#0b0000"/><stop offset="35.7%" stop-color="#0f0000"/><stop offset="44.3%" stop-color="#340000"/><stop offset="51.5%" stop-color="#730000"/><stop offset="61.5%" stop-color="#de0000"/><stop offset="66.1%" stop-color="#ff0200"/><stop offset="72.2%" stop-color="#ff1f00"/><stop offset="84.6%" stop-color="#ff3f00"/><stop offset="100%" stop-color="#ff5800"/></linearGradient><linearGradient id="c84"><stop offset="0%" stop-color="#0b0000"/><stop offset="36.1%" stop-color="#0f0000"/><stop offset="44.9%" stop-color="#340000"/><stop offset="52.2%" stop-color="#740000"/><stop offset="61.5%" stop-color="#d50000"/><stop offset="67.6%" stop-color="#ff0200"/><stop offset="72.9%" stop-color="#ff1800"/><stop offset="85.2%" stop-color="#ff3600"/><stop offset="100%" stop-color="#ff4f00"/></linearGradient><linearGradient id="c85"><stop offset="0%" stop-color="#0b0000"/><stop offset="36.6%" stop-color="#0e0000"/><stop offset="45.4%" stop-color="#320000"/><stop offset="52.6%" stop-color="#700000"/><stop offset="61.5%" stop-color="#c60000"/><stop offset="70.7%" stop-color="#ff0000"/><stop offset="85.5%" stop-color="#ff2100"/><stop offset="100%" stop-color="#ff3600"/></linearGradient><linearGradient id="c86"><stop offset="0%" stop-color="#0b0000"/><stop offset="37.2%" stop-color="#0e0000"/><stop offset="46.3%" stop-color="#340000"/><stop offset="54.2%" stop-color="#730000"/><stop offset="61.7%" stop-color="#b40000"/><stop offset="71.1%" stop-color="#e60000"/><stop offset="85%" stop-color="#ff0100"/><stop offset="100%" stop-color="#ff1200"/></linearGradient><linearGradient id="c87"><stop offset="0%" stop-color="#0b0000"/><stop offset="38.1%" stop-color="#0f0000"/><stop offset="46.9%" stop-color="#320000"/><stop offset="57.9%" stop-color="#850000"/><stop offset="63.4%" stop-color="#a80000"/><stop offset="71.6%" stop-color="#c90000"/><stop offset="89.4%" stop-color="#df0000"/><stop offset="100%" stop-color="#e70000"/></linearGradient><linearGradient id="c88"><stop offset="0%" stop-color="#0b0000"/><stop offset="39%" stop-color="#0f0000"/><stop offset="47.8%" stop-color="#310000"/><stop offset="61.7%" stop-color="#880000"/><stop offset="71.6%" stop-color="#aa0000"/><stop offset="94.3%" stop-color="#ba0000"/><stop offset="100%" stop-color="#bc0000"/></linearGradient><linearGradient id="c89"><stop offset="0%" stop-color="#0b0000"/><stop offset="39.9%" stop-color="#0e0000"/><stop offset="49.6%" stop-color="#320000"/><stop offset="61.7%" stop-color="#730000"/><stop offset="72%" stop-color="#8d0000"/><stop offset="100%" stop-color="#950000"/></linearGradient><linearGradient id="c90"><stop offset="0%" stop-color="#0b0000"/><stop offset="40.7%" stop-color="#0e0000"/><stop offset="52%" stop-color="#360000"/><stop offset="62.1%" stop-color="#600000"/><stop offset="72.7%" stop-color="#720000"/><stop offset="100%" stop-color="#740000"/></linearGradient><linearGradient id="c91"><stop offset="0%" stop-color="#0b0000"/><stop offset="41.9%" stop-color="#0f0000"/><stop offset="62.6%" stop-color="#4f0000"/><stop offset="73.6%" stop-color="#5a0000"/><stop offset="100%" stop-color="#580000"/></linearGradient><linearGradient id="c92"><stop offset="0%" stop-color="#0b0000"/><stop offset="43%" stop-color="#0e0000"/><stop offset="62.6%" stop-color="#3f0000"/><stop offset="75.8%" stop-color="#460000"/><stop offset="100%" stop-color="#420000"/></linearGradient><linearGradient id="c93"><stop offset="0%" stop-color="#0b0000"/><stop offset="44.5%" stop-color="#0f0000"/><stop offset="62.8%" stop-color="#330000"/><stop offset="83.3%" stop-color="#360000"/><stop offset="100%" stop-color="#310000"/></linearGradient><linearGradient id="c94"><stop offset="0%" stop-color="#0b0000"/><stop offset="45.8%" stop-color="#0f0000"/><stop offset="63.2%" stop-color="#280000"/><stop offset="100%" stop-color="#240000"/></linearGradient><linearGradient id="c95"><stop offset="0%" stop-color="#0b0000"/><stop offset="47.6%" stop-color="#0f0000"/><stop offset="64.1%" stop-color="#1f0000"/><stop offset="100%" stop-color="#1b0000"/></linearGradient><linearGradient id="c96"><stop offset="0%" stop-color="#0b0000"/><stop offset="50%" stop-color="#0f0000"/><stop offset="67%" stop-color="#190000"/><stop offset="100%" stop-color="#130000"/></linearGradient><linearGradient id="c97"><stop offset="0%" stop-color="#0b0000"/><stop offset="53.3%" stop-color="#0f0000"/><stop offset="85.5%" stop-color="#110000"/><stop offset="100%" stop-color="#0e0000"/></linearGradient><linearGradient id="c98"><stop offset="0%" stop-color="#0b0000"/><stop offset="91.6%" stop-color="#0c0000"/><stop offset="100%" stop-color="#0b0000"/></linearGradient><clipPath id="cclip"><rect x="43.1" y="283.2" width="226.8" height="163.4"/></clipPath></defs>
<g clip-path="url(#cclip)" shape-rendering="crispEdges">
<rect x="43.1" y="315" width="226.8" height="1" fill="url(#c0)"/><rect x="43.1" y="316" width="226.8" height="1" fill="url(#c1)"/><rect x="43.1" y="317" width="226.8" height="1" fill="url(#c2)"/><rect x="43.1" y="318" width="226.8" height="1" fill="url(#c3)"/><rect x="43.1" y="319" width="226.8" height="1" fill="url(#c4)"/><rect x="43.1" y="320" width="226.8" height="1" fill="url(#c5)"/><rect x="43.1" y="321" width="226.8" height="1" fill="url(#c6)"/><rect x="43.1" y="322" width="226.8" height="1" fill="url(#c7)"/><rect x="43.1" y="323" width="226.8" height="1" fill="url(#c8)"/><rect x="43.1" y="324" width="226.8" height="1" fill="url(#c9)"/><rect x="43.1" y="325" width="226.8" height="1" fill="url(#c10)"/><rect x="43.1" y="326" width="226.8" height="1" fill="url(#c11)"/><rect x="43.1" y="327" width="226.8" height="1" fill="url(#c12)"/><rect x="43.1" y="328" width="226.8" height="1" fill="url(#c13)"/><rect x="43.1" y="329" width="226.8" height="1" fill="url(#c14)"/><rect x="43.1" y="330" width="226.8" height="1" fill="url(#c15)"/><rect x="43.1" y="331" width="226.8" height="1" fill="url(#c16)"/><rect x="43.1" y="332" width="226.8" height="1" fill="url(#c17)"/><rect x="43.1" y="333" width="226.8" height="1" fill="url(#c18)"/><rect x="43.1" y="334" width="226.8" height="1" fill="url(#c19)"/><rect x="43.1" y="335" width="226.8" height="1" fill="url(#c20)"/><rect x="43.1" y="336" width="226.8" height="1" fill="url(#c21)"/><rect x="43.1" y="337" width="226.8" height="1" fill="url(#c22)"/><rect x="43.1" y="338" width="226.8" height="1" fill="url(#c23)"/><rect x="43.1" y="339" width="226.8" height="1" fill="url(#c24)"/><rect x="43.1" y="340" width="226.8" height="1" fill="url(#c25)"/><rect x="43.1" y="341" width="226.8" height="1" fill="url(#c26)"/><rect x="43.1" y="342" width="226.8" height="1" fill="url(#c27)"/><rect x="43.1" y="343" width="226.8" height="1" fill="url(#c28)"/><rect x="43.1" y="344" width="226.8" height="1" fill="url(#c29)"/><rect x="43.1" y="345" width="226.8" height="1" fill="url(#c30)"/><rect x="43.1" y="346" width="226.8" height="1" fill="url(#c31)"/><rect x="43.1" y="347" width="226.8" height="1" fill="url(#c32)"/><rect x="43.1" y="348" width="226.8" height="1" fill="url(#c33)"/><rect x="43.1" y="349" width="226.8" height="1" fill="url(#c34)"/><rect x="43.1" y="350" width="226.8" height="1" fill="url(#c35)"/><rect x="43.1" y="351" width="226.8" height="1" fill="url(#c36)"/><rect x="43.1" y="352" width="226.8" height="1" fill="url(#c37)"/><rect x="43.1" y="353" width="226.8" height="1" fill="url(#c38)"/><rect x="43.1" y="354" width="226.8" height="1" fill="url(#c39)"/><rect x="43.1" y="355" width="226.8" height="1" fill="url(#c40)"/><rect x="43.1" y="356" width="226.8" height="1" fill="url(#c41)"/><rect x="43.1" y="357" width="226.8" height="1" fill="url(#c42)"/><rect x="43.1" y="358" width="226.8" height="1" fill="url(#c43)"/><rect x="43.1" y="359" width="226.8" height="1" fill="url(#c44)"/><rect x="43.1" y="360" width="226.8" height="1" fill="url(#c45)"/><rect x="43.1" y="361" width="226.8" height="1" fill="url(#c46)"/><rect x="43.1" y="362" width="226.8" height="1" fill="url(#c47)"/><rect x="43.1" y="363" width="226.8" height="1" fill="url(#c48)"/><rect x="43.1" y="364" width="226.8" height="1" fill="url(#c49)"/><rect x="43.1" y="365" width="226.8" height="1" fill="url(#c50)"/><rect x="43.1" y="366" width="226.8" height="1" fill="url(#c51)"/><rect x="43.1" y="367" width="226.8" height="1" fill="url(#c52)"/><rect x="43.1" y="368" width="226.8" height="1" fill="url(#c53)"/><rect x="43.1" y="369" width="226.8" height="1" fill="url(#c54)"/><rect x="43.1" y="370" width="226.8" height="1" fill="url(#c55)"/><rect x="43.1" y="371" width="226.8" height="1" fill="url(#c56)"/><rect x="43.1" y="372" width="226.8" height="1" fill="url(#c57)"/><rect x="43.1" y="373" width="226.8" height="1" fill="url(#c58)"/><rect x="43.1" y="374" width="226.8" height="1" fill="url(#c59)"/><rect x="43.1" y="375" width="226.8" height="1" fill="url(#c60)"/><rect x="43.1" y="376" width="226.8" height="1" fill="url(#c61)"/><rect x="43.1" y="377" width="226.8" height="1" fill="url(#c62)"/><rect x="43.1" y="378" width="226.8" height="1" fill="url(#c63)"/><rect x="43.1" y="379" width="226.8" height="1" fill="url(#c64)"/><rect x="43.1" y="380" width="226.8" height="1" fill="url(#c65)"/><rect x="43.1" y="381" width="226.8" height="1" fill="url(#c66)"/><rect x="43.1" y="382" width="226.8" height="1" fill="url(#c67)"/><rect x="43.1" y="383" width="226.8" height="1" fill="url(#c68)"/><rect x="43.1" y="384" width="226.8" height="1" fill="url(#c69)"/><rect x="43.1" y="385" width="226.8" height="1" fill="url(#c70)"/><rect x="43.1" y="386" width="226.8" height="1" fill="url(#c71)"/><rect x="43.1" y="387" width="226.8" height="1" fill="url(#c72)"/><rect x="43.1" y="388" width="226.8" height="1" fill="url(#c73)"/><rect x="43.1" y="389" width="226.8" height="1" fill="url(#c74)"/><rect x="43.1" y="390" width="226.8" height="1" fill="url(#c75)"/><rect x="43.1" y="391" width="226.8" height="1" fill="url(#c76)"/><rect x="43.1" y="392" width="226.8" height="1" fill="url(#c77)"/><rect x="43.1" y="393" width="226.8" height="1" fill="url(#c78)"/><rect x="43.1" y="394" width="226.8" height="1" fill="url(#c79)"/><rect x="43.1" y="395" width="226.8" height="1" fill="url(#c80)"/><rect x="43.1" y="396" width="226.8" height="1" fill="url(#c81)"/><rect x="43.1" y="397" width="226.8" height="1" fill="url(#c82)"/><rect x="43.1" y="398" width="226.8" height="1" fill="url(#c83)"/><rect x="43.1" y="399" width="226.8" height="1" fill="url(#c84)"/><rect x="43.1" y="400" width="226.8" height="1" fill="url(#c85)"/><rect x="43.1" y="401" width="226.8" height="1" fill="url(#c86)"/><rect x="43.1" y="402" width="226.8" height="1" fill="url(#c87)"/><rect x="43.1" y="403" width="226.8" height="1" fill="url(#c88)"/><rect x="43.1" y="404" width="226.8" height="1" fill="url(#c89)"/><rect x="43.1" y="405" width="226.8" height="1" fill="url(#c90)"/><rect x="43.1" y="406" width="226.8" height="1" fill="url(#c91)"/><rect x="43.1" y="407" width="226.8" height="1" fill="url(#c92)"/><rect x="43.1" y="408" width="226.8" height="1" fill="url(#c93)"/><rect x="43.1" y="409" width="226.8" height="1" fill="url(#c94)"/><rect x="43.1" y="410" width="226.8" height="1" fill="url(#c95)"/><rect x="43.1" y="411" width="226.8" height="1" fill="url(#c96)"/><rect x="43.1" y="412" width="226.8" height="1" fill="url(#c97)"/><rect x="43.1" y="413" width="226.8" height="1" fill="url(#c98)"/>
</g>
<text transform="translate(43.1 467.2) scale(1 1.06)" font-size="15.0" text-anchor="middle">0</text>
<text transform="translate(99.8 467.2) scale(1 1.06)" font-size="15.0" text-anchor="middle">5</text>
<text transform="translate(156.5 467.2) scale(1 1.06)" font-size="15.0" text-anchor="middle">&#8199;0</text><path d="M152.37 467.2 152.37 457.6 150.04 459.36 150.04 458.04 152.48 456.26 153.69 456.26 153.69 467.2Z" fill="#262626"/>
<text transform="translate(213.2 467.2) scale(1 1.06)" font-size="15.0" text-anchor="middle">&#8199;5</text><path d="M209.07 467.2 209.07 457.6 206.74 459.36 206.74 458.04 209.18 456.26 210.39 456.26 210.39 467.2Z" fill="#262626"/>
<text transform="translate(269.9 467.2) scale(1 1.06)" font-size="15.0" text-anchor="middle">20</text>
<text transform="translate(38.1 436.26) scale(1 1.06)" font-size="15.0" text-anchor="end">-20</text>
<text transform="translate(38.1 403.58) scale(1 1.06)" font-size="15.0" text-anchor="end">-&#8199;0</text><path d="M25.63 403.58 25.63 393.98 23.3 395.74 23.3 394.42 25.74 392.64 26.95 392.64 26.95 403.58Z" fill="#262626"/>
<text transform="translate(38.1 370.9) scale(1 1.06)" font-size="15.0" text-anchor="end">0</text>
<text transform="translate(38.1 338.22) scale(1 1.06)" font-size="15.0" text-anchor="end">&#8199;0</text><path d="M25.63 338.22 25.63 328.62 23.3 330.38 23.3 329.06 25.74 327.28 26.95 327.28 26.95 338.22Z" fill="#262626"/>
<text transform="translate(38.1 305.54) scale(1 1.06)" font-size="15.0" text-anchor="end">20</text>
<path d="M153.4 482.7Q154.5 480.9 156 480.9L160.2 480.9M157.7 481.1L156.2 487.3" fill="none" stroke="#333" stroke-width="1.15" stroke-linecap="round"/>
<text transform="translate(9.5 364.9) rotate(-90)" font-size="16.5" text-anchor="middle">x</text>
<text x="59.8" y="311.6" font-size="19.5" fill="#fff">(c)</text>
<defs><linearGradient id="ccb" x2="0" y2="1"><stop offset="0%" stop-color="#ffffff"/><stop offset="25.16%" stop-color="#ffff00"/><stop offset="62.7%" stop-color="#ff0000"/><stop offset="100%" stop-color="#0b0000"/></linearGradient></defs>
<rect x="287.4" y="283.3" width="17.3" height="161.6" fill="url(#ccb)" stroke="#262626" stroke-width="0.7"/>
<text transform="translate(309.5 450.7) scale(1 1.06)" font-size="13.5">0</text>
<text transform="translate(309.5 398) scale(1 1.06)" font-size="13.5">0.&#8199;</text><path d="M324.55 398 324.55 389.36 322.45 390.94 322.45 389.75 324.65 388.15 325.74 388.15 325.74 398Z" fill="#262626"/>
<text transform="translate(309.5 345.3) scale(1 1.06)" font-size="13.5">0.2</text>
<text transform="translate(309.5 292.6) scale(1 1.06)" font-size="13.5">0.3</text>
<path d="M304.7 445.3h-2.5M304.7 392.6h-2.5M304.7 339.9h-2.5M304.7 287.2h-2.5" stroke="#262626" stroke-width="0.7"/>
<rect x="393.7" y="282" width="225.5" height="161.7" fill="#0b0000"/>
<defs><linearGradient id="d0"><stop offset="0%" stop-color="#0b0000"/><stop offset="100%" stop-color="#0b0000"/></linearGradient><linearGradient id="d1"><stop offset="0%" stop-color="#0b0000"/><stop offset="36.6%" stop-color="#110000"/><stop offset="100%" stop-color="#0b0000"/></linearGradient><linearGradient id="d2"><stop offset="0%" stop-color="#0b0000"/><stop offset="27.5%" stop-color="#100000"/><stop offset="53.4%" stop-color="#150000"/><stop offset="100%" stop-color="#0b0000"/></linearGradient><linearGradient id="d3"><stop offset="0%" stop-color="#0b0000"/><stop offset="22.6%" stop-color="#0f0000"/><stop offset="47.2%" stop-color="#1c0000"/><stop offset="100%" stop-color="#0e0000"/></linearGradient><linearGradient id="d4"><stop offset="0%" stop-color="#0b0000"/><stop offset="19.5%" stop-color="#0f0000"/><stop offset="43.5%" stop-color="#230000"/><stop offset="100%" stop-color="#130000"/></linearGradient><linearGradient id="d5"><stop offset="0%" stop-color="#0b0000"/><stop offset="17.7%" stop-color="#0f0000"/><stop offset="40.1%" stop-color="#2c0000"/><stop offset="100%" stop-color="#1a0000"/></linearGradient><linearGradient id="d6"><stop offset="0%" stop-color="#0b0000"/><stop offset="16%" stop-color="#0f0000"/><stop offset="36.4%" stop-color="#330000"/><stop offset="59.9%" stop-color="#340000"/><stop offset="100%" stop-color="#230000"/></linearGradient><linearGradient id="d7"><stop offset="0%" stop-color="#0b0000"/><stop offset="14.4%" stop-color="#0f0000"/><stop offset="33.3%" stop-color="#3b0000"/><stop offset="48.6%" stop-color="#450000"/><stop offset="100%" stop-color="#2f0000"/></linearGradient><linearGradient id="d8"><stop offset="0%" stop-color="#0b0000"/><stop offset="13.3%" stop-color="#0f0000"/><stop offset="30.6%" stop-color="#430000"/><stop offset="45%" stop-color="#550000"/><stop offset="99.1%" stop-color="#400000"/><stop offset="100%" stop-color="#400000"/></linearGradient><linearGradient id="d9"><stop offset="0%" stop-color="#0b0000"/><stop offset="12.4%" stop-color="#0f0000"/><stop offset="27.9%" stop-color="#4c0000"/><stop offset="42.6%" stop-color="#670000"/><stop offset="74.1%" stop-color="#630000"/><stop offset="100%" stop-color="#560000"/></linearGradient><linearGradient id="d10"><stop offset="0%" stop-color="#0b0000"/><stop offset="11.5%" stop-color="#0e0000"/><stop offset="25.7%" stop-color="#540000"/><stop offset="40.1%" stop-color="#7a0000"/><stop offset="63.4%" stop-color="#800000"/><stop offset="100%" stop-color="#710000"/></linearGradient><linearGradient id="d11"><stop offset="0%" stop-color="#0b0000"/><stop offset="10.9%" stop-color="#0e0000"/><stop offset="24.4%" stop-color="#600000"/><stop offset="37.5%" stop-color="#8d0000"/><stop offset="54.1%" stop-color="#9c0000"/><stop offset="100%" stop-color="#940000"/></linearGradient><linearGradient id="d12"><stop offset="0%" stop-color="#0b0000"/><stop offset="10.2%" stop-color="#0e0000"/><stop offset="23.3%" stop-color="#6e0000"/><stop offset="34.8%" stop-color="#9f0000"/><stop offset="48.3%" stop-color="#b70000"/><stop offset="89.1%" stop-color="#bf0000"/><stop offset="100%" stop-color="#bd0000"/></linearGradient><linearGradient id="d13"><stop offset="0%" stop-color="#0b0000"/><stop offset="9.8%" stop-color="#0f0000"/><stop offset="22.4%" stop-color="#7e0000"/><stop offset="32.4%" stop-color="#b10000"/><stop offset="45%" stop-color="#d00000"/><stop offset="84.7%" stop-color="#e90000"/><stop offset="100%" stop-color="#ed0000"/></linearGradient><linearGradient id="d14"><stop offset="0%" stop-color="#0b0000"/><stop offset="8.6%" stop-color="#0e0000"/><stop offset="11.8%" stop-color="#290000"/><stop offset="19.7%" stop-color="#7f0000"/><stop offset="27.9%" stop-color="#b90000"/><stop offset="39%" stop-color="#e10000"/><stop offset="58.8%" stop-color="#fd0000"/><stop offset="100%" stop-color="#ff2000"/></linearGradient><linearGradient id="d15"><stop offset="0%" stop-color="#0b0000"/><stop offset="7.8%" stop-color="#0e0000"/><stop offset="10.6%" stop-color="#250000"/><stop offset="16.4%" stop-color="#710000"/><stop offset="22.4%" stop-color="#af0000"/><stop offset="30.4%" stop-color="#df0000"/><stop offset="41%" stop-color="#ff0100"/><stop offset="100%" stop-color="#ff5100"/></linearGradient><linearGradient id="d16"><stop offset="0%" stop-color="#0b0000"/><stop offset="7.1%" stop-color="#0e0000"/><stop offset="10.2%" stop-color="#2a0000"/><stop offset="16%" stop-color="#830000"/><stop offset="22%" stop-color="#c60000"/><stop offset="29.3%" stop-color="#f40000"/><stop offset="33.5%" stop-color="#ff0600"/><stop offset="54.5%" stop-color="#ff2f00"/><stop offset="100%" stop-color="#ff7a00"/></linearGradient><linearGradient id="d17"><stop offset="0%" stop-color="#0b0000"/><stop offset="6.4%" stop-color="#0e0000"/><stop offset="10%" stop-color="#320000"/><stop offset="15.7%" stop-color="#9a0000"/><stop offset="21.7%" stop-color="#df0000"/><stop offset="26.8%" stop-color="#ff0200"/><stop offset="37.7%" stop-color="#ff2300"/><stop offset="73.6%" stop-color="#ff6100"/><stop offset="100%" stop-color="#ff9400"/></linearGradient><linearGradient id="d18"><stop offset="0%" stop-color="#0b0000"/><stop offset="6%" stop-color="#0c0000"/><stop offset="9.8%" stop-color="#3d0000"/><stop offset="15.3%" stop-color="#b00000"/><stop offset="21.3%" stop-color="#f50000"/><stop offset="23.5%" stop-color="#ff0600"/><stop offset="31.3%" stop-color="#ff2400"/><stop offset="68.1%" stop-color="#ff5b00"/><stop offset="100%" stop-color="#ff9b00"/></linearGradient><linearGradient id="d19"><stop offset="0%" stop-color="#0b0000"/><stop offset="5.8%" stop-color="#0d0000"/><stop offset="9.5%" stop-color="#490000"/><stop offset="14.9%" stop-color="#c60000"/><stop offset="20%" stop-color="#ff0200"/><stop offset="25.5%" stop-color="#ff2200"/><stop offset="39%" stop-color="#ff3200"/><stop offset="65.9%" stop-color="#ff4f00"/><stop offset="100%" stop-color="#ff8d00"/></linearGradient><linearGradient id="d20"><stop offset="0%" stop-color="#0b0000"/><stop offset="5.5%" stop-color="#0c0000"/><stop offset="9.1%" stop-color="#540000"/><stop offset="12.9%" stop-color="#b70000"/><stop offset="15.3%" stop-color="#ea0000"/><stop offset="17.7%" stop-color="#ff0300"/><stop offset="22%" stop-color="#ff2200"/><stop offset="29.3%" stop-color="#ff2d00"/><stop offset="56.1%" stop-color="#ff3200"/><stop offset="100%" stop-color="#ff6d00"/></linearGradient><linearGradient id="d21"><stop offset="0%" stop-color="#0b0000"/><stop offset="5.3%" stop-color="#0d0000"/><stop offset="8.4%" stop-color="#570000"/><stop offset="12.2%" stop-color="#c60000"/><stop offset="14.9%" stop-color="#ff0100"/><stop offset="20.6%" stop-color="#ff2800"/><stop offset="27.5%" stop-color="#ff2b00"/><stop offset="46.6%" stop-color="#ff1b00"/><stop offset="67.4%" stop-color="#ff2200"/><stop offset="100%" stop-color="#ff4000"/></linearGradient><linearGradient id="d22"><stop offset="0%" stop-color="#0b0000"/><stop offset="5.1%" stop-color="#0d0000"/><stop offset="6.2%" stop-color="#290000"/><stop offset="8.6%" stop-color="#760000"/><stop offset="10.9%" stop-color="#c50000"/><stop offset="12.9%" stop-color="#f10000"/><stop offset="13.7%" stop-color="#ff0500"/><stop offset="15.3%" stop-color="#ff1e00"/><stop offset="21.5%" stop-color="#ff2d00"/><stop offset="42.4%" stop-color="#ff0500"/><stop offset="68.7%" stop-color="#ff0100"/><stop offset="100%" stop-color="#ff0e00"/></linearGradient><linearGradient id="d23"><stop offset="0%" stop-color="#0b0000"/><stop offset="4.9%" stop-color="#0d0000"/><stop offset="5.8%" stop-color="#210000"/><stop offset="8.6%" stop-color="#930000"/><stop offset="10%" stop-color="#ce0000"/><stop offset="11.8%" stop-color="#fd0000"/><stop offset="15.3%" stop-color="#ff3000"/><stop offset="22.8%" stop-color="#ff2300"/><stop offset="32.8%" stop-color="#fd0000"/><stop offset="49%" stop-color="#e30000"/><stop offset="73.6%" stop-color="#db0000"/><stop offset="100%" stop-color="#db0000"/></linearGradient><linearGradient id="d24"><stop offset="0%" stop-color="#0b0000"/><stop offset="4.7%" stop-color="#0d0000"/><stop offset="5.8%" stop-color="#290000"/><stop offset="8.6%" stop-color="#b40000"/><stop offset="9.8%" stop-color="#ed0000"/><stop offset="10.4%" stop-color="#ff0200"/><stop offset="12.2%" stop-color="#ff2000"/><stop offset="15.3%" stop-color="#ff3a00"/><stop offset="19.1%" stop-color="#ff2700"/><stop offset="27.1%" stop-color="#fb0000"/><stop offset="37.5%" stop-color="#d70000"/><stop offset="60.3%" stop-color="#ba0000"/><stop offset="100%" stop-color="#ae0000"/></linearGradient><linearGradient id="d25"><stop offset="0%" stop-color="#0b0000"/><stop offset="4.4%" stop-color="#0c0000"/><stop offset="5.5%" stop-color="#280000"/><stop offset="8.6%" stop-color="#d80000"/><stop offset="9.3%" stop-color="#ff0200"/><stop offset="9.8%" stop-color="#ff1600"/><stop offset="11.3%" stop-color="#ff3000"/><stop offset="13.7%" stop-color="#ff3700"/><stop offset="15.3%" stop-color="#ff3a00"/><stop offset="18.2%" stop-color="#ff1f00"/><stop offset="23.1%" stop-color="#fc0000"/><stop offset="31.9%" stop-color="#cb0000"/><stop offset="47.2%" stop-color="#aa0000"/><stop offset="78.3%" stop-color="#900000"/><stop offset="100%" stop-color="#870000"/></linearGradient><linearGradient id="d26"><stop offset="0%" stop-color="#0b0000"/><stop offset="4.2%" stop-color="#0c0000"/><stop offset="5.3%" stop-color="#280000"/><stop offset="6%" stop-color="#4e0000"/><stop offset="8.6%" stop-color="#fb0000"/><stop offset="9.5%" stop-color="#ff3500"/><stop offset="10.9%" stop-color="#ff4300"/><stop offset="12.9%" stop-color="#ff3700"/><stop offset="15.3%" stop-color="#ff3200"/><stop offset="18%" stop-color="#ff0f00"/><stop offset="20.2%" stop-color="#fb0000"/><stop offset="28.2%" stop-color="#c10000"/><stop offset="38.1%" stop-color="#9f0000"/><stop offset="62.1%" stop-color="#7e0000"/><stop offset="100%" stop-color="#670000"/></linearGradient><linearGradient id="d27"><stop offset="0%" stop-color="#0b0000"/><stop offset="4.2%" stop-color="#0f0000"/><stop offset="5.3%" stop-color="#310000"/><stop offset="6%" stop-color="#5d0000"/><stop offset="8.2%" stop-color="#fe0000"/><stop offset="9.5%" stop-color="#ff5300"/><stop offset="10.9%" stop-color="#ff5000"/><stop offset="13.3%" stop-color="#ff3000"/><stop offset="15.3%" stop-color="#ff2200"/><stop offset="17.3%" stop-color="#ff0000"/><stop offset="25.3%" stop-color="#b70000"/><stop offset="33.3%" stop-color="#920000"/><stop offset="53.9%" stop-color="#6d0000"/><stop offset="100%" stop-color="#4d0000"/></linearGradient><linearGradient id="d28"><stop offset="0%" stop-color="#0b0000"/><stop offset="4%" stop-color="#0d0000"/><stop offset="5.1%" stop-color="#310000"/><stop offset="5.5%" stop-color="#480000"/><stop offset="6.7%" stop-color="#a50000"/><stop offset="7.8%" stop-color="#f90000"/><stop offset="8.2%" stop-color="#ff1900"/><stop offset="9.5%" stop-color="#ff6600"/><stop offset="11.8%" stop-color="#ff4000"/><stop offset="13.3%" stop-color="#ff2100"/><stop offset="15.3%" stop-color="#ff0b00"/><stop offset="16.2%" stop-color="#f80000"/><stop offset="18.6%" stop-color="#d70000"/><stop offset="25.5%" stop-color="#9c0000"/><stop offset="33.7%" stop-color="#790000"/><stop offset="57%" stop-color="#550000"/><stop offset="100%" stop-color="#390000"/></linearGradient><linearGradient id="d29"><stop offset="0%" stop-color="#0b0000"/><stop offset="3.8%" stop-color="#0c0000"/><stop offset="4.9%" stop-color="#300000"/><stop offset="5.5%" stop-color="#540000"/><stop offset="6.7%" stop-color="#b90000"/><stop offset="7.5%" stop-color="#fb0000"/><stop offset="8.9%" stop-color="#ff4e00"/><stop offset="9.5%" stop-color="#ff6a00"/><stop offset="13.3%" stop-color="#ff0b00"/><stop offset="14.6%" stop-color="#fa0000"/><stop offset="17.7%" stop-color="#c50000"/><stop offset="24.6%" stop-color="#890000"/><stop offset="32.8%" stop-color="#660000"/><stop offset="57.4%" stop-color="#430000"/><stop offset="100%" stop-color="#2a0000"/></linearGradient><linearGradient id="d30"><stop offset="0%" stop-color="#0b0000"/><stop offset="3.8%" stop-color="#0f0000"/><stop offset="4.7%" stop-color="#2d0000"/><stop offset="5.5%" stop-color="#610000"/><stop offset="6.4%" stop-color="#b60000"/><stop offset="7.3%" stop-color="#f80000"/><stop offset="7.8%" stop-color="#ff1800"/><stop offset="8.6%" stop-color="#ff4400"/><stop offset="9.5%" stop-color="#ff5f00"/><stop offset="12.2%" stop-color="#ff0a00"/><stop offset="12.9%" stop-color="#f80000"/><stop offset="17.7%" stop-color="#aa0000"/><stop offset="24.6%" stop-color="#720000"/><stop offset="33.5%" stop-color="#530000"/><stop offset="61.9%" stop-color="#320000"/><stop offset="100%" stop-color="#1f0000"/></linearGradient><linearGradient id="d31"><stop offset="0%" stop-color="#0b0000"/><stop offset="3.5%" stop-color="#0d0000"/><stop offset="4.4%" stop-color="#2b0000"/><stop offset="5.5%" stop-color="#6c0000"/><stop offset="6.4%" stop-color="#c10000"/><stop offset="7.3%" stop-color="#fd0000"/><stop offset="8.2%" stop-color="#ff2c00"/><stop offset="9.3%" stop-color="#ff4600"/><stop offset="9.5%" stop-color="#ff4700"/><stop offset="11.5%" stop-color="#fe0000"/><stop offset="13.5%" stop-color="#d00000"/><stop offset="17.7%" stop-color="#900000"/><stop offset="24.8%" stop-color="#5e0000"/><stop offset="34.6%" stop-color="#420000"/><stop offset="67.8%" stop-color="#240000"/><stop offset="100%" stop-color="#170000"/></linearGradient><linearGradient id="d32"><stop offset="0%" stop-color="#0b0000"/><stop offset="3.3%" stop-color="#0b0000"/><stop offset="4.2%" stop-color="#270000"/><stop offset="5.5%" stop-color="#750000"/><stop offset="6.4%" stop-color="#c50000"/><stop offset="7.3%" stop-color="#f90000"/><stop offset="7.8%" stop-color="#ff0e00"/><stop offset="8.4%" stop-color="#ff2000"/><stop offset="9.5%" stop-color="#ff2500"/><stop offset="10.4%" stop-color="#ff0200"/><stop offset="12.9%" stop-color="#be0000"/><stop offset="17.7%" stop-color="#790000"/><stop offset="25.1%" stop-color="#4c0000"/><stop offset="36.1%" stop-color="#330000"/><stop offset="77.2%" stop-color="#170000"/><stop offset="100%" stop-color="#110000"/></linearGradient><linearGradient id="d33"><stop offset="0%" stop-color="#0b0000"/><stop offset="3.3%" stop-color="#0d0000"/><stop offset="4.2%" stop-color="#2e0000"/><stop offset="5.5%" stop-color="#7c0000"/><stop offset="6.4%" stop-color="#c20000"/><stop offset="7.5%" stop-color="#f40000"/><stop offset="8.2%" stop-color="#ff0400"/><stop offset="9.5%" stop-color="#fd0000"/><stop offset="11.3%" stop-color="#c20000"/><stop offset="13.7%" stop-color="#950000"/><stop offset="18%" stop-color="#620000"/><stop offset="25.7%" stop-color="#3c0000"/><stop offset="39.5%" stop-color="#260000"/><stop offset="87.6%" stop-color="#0f0000"/><stop offset="100%" stop-color="#0c0000"/></linearGradient><linearGradient id="d34"><stop offset="0%" stop-color="#0b0000"/><stop offset="3.1%" stop-color="#0b0000"/><stop offset="4%" stop-color="#290000"/><stop offset="5.5%" stop-color="#7f0000"/><stop offset="6.4%" stop-color="#b90000"/><stop offset="7.5%" stop-color="#de0000"/><stop offset="8.2%" stop-color="#e50000"/><stop offset="9.5%" stop-color="#d50000"/><stop offset="11.3%" stop-color="#a30000"/><stop offset="14.4%" stop-color="#740000"/><stop offset="18.2%" stop-color="#500000"/><stop offset="26.8%" stop-color="#2e0000"/><stop offset="50.1%" stop-color="#170000"/><stop offset="100%" stop-color="#0b0000"/></linearGradient><linearGradient id="d35"><stop offset="0%" stop-color="#0b0000"/><stop offset="3.1%" stop-color="#0e0000"/><stop offset="4.2%" stop-color="#3c0000"/><stop offset="6.4%" stop-color="#ac0000"/><stop offset="7.5%" stop-color="#c50000"/><stop offset="8.4%" stop-color="#c40000"/><stop offset="10%" stop-color="#a40000"/><stop offset="12.2%" stop-color="#790000"/><stop offset="17.7%" stop-color="#430000"/><stop offset="27.1%" stop-color="#240000"/><stop offset="60.1%" stop-color="#0f0000"/><stop offset="100%" stop-color="#0b0000"/></linearGradient><linearGradient id="d36"><stop offset="0%" stop-color="#0b0000"/><stop offset="2.9%" stop-color="#0c0000"/><stop offset="4%" stop-color="#370000"/><stop offset="5.1%" stop-color="#6e0000"/><stop offset="6.7%" stop-color="#a20000"/><stop offset="8%" stop-color="#ac0000"/><stop offset="11.8%" stop-color="#6a0000"/><stop offset="17.7%" stop-color="#370000"/><stop offset="27.9%" stop-color="#1c0000"/><stop offset="68.3%" stop-color="#0b0000"/><stop offset="100%" stop-color="#0b0000"/></linearGradient><linearGradient id="d37"><stop offset="0%" stop-color="#0b0000"/><stop offset="2.7%" stop-color="#0d0000"/><stop offset="3.8%" stop-color="#350000"/><stop offset="4.9%" stop-color="#680000"/><stop offset="6.7%" stop-color="#920000"/><stop offset="8%" stop-color="#930000"/><stop offset="11.5%" stop-color="#5a0000"/><stop offset="17.7%" stop-color="#2c0000"/><stop offset="29.3%" stop-color="#150000"/><stop offset="67.4%" stop-color="#0b0000"/><stop offset="100%" stop-color="#0b0000"/></linearGradient><linearGradient id="d38"><stop offset="0%" stop-color="#0b0000"/><stop offset="2.7%" stop-color="#140000"/><stop offset="4.9%" stop-color="#6b0000"/><stop offset="6.9%" stop-color="#840000"/><stop offset="8.4%" stop-color="#780000"/><stop offset="11.3%" stop-color="#4e0000"/><stop offset="17.7%" stop-color="#240000"/><stop offset="30.6%" stop-color="#100000"/><stop offset="93.1%" stop-color="#0b0000"/><stop offset="100%" stop-color="#0b0000"/></linearGradient><linearGradient id="d39"><stop offset="0%" stop-color="#120000"/><stop offset="2.7%" stop-color="#210000"/><stop offset="4.7%" stop-color="#6c0000"/><stop offset="6.9%" stop-color="#7a0000"/><stop offset="8.6%" stop-color="#660000"/><stop offset="11.3%" stop-color="#430000"/><stop offset="17.7%" stop-color="#1d0000"/><stop offset="32.2%" stop-color="#0c0000"/><stop offset="100%" stop-color="#0b0000"/></linearGradient><linearGradient id="d40"><stop offset="0%" stop-color="#1f0000"/><stop offset="2.7%" stop-color="#330000"/><stop offset="4.2%" stop-color="#6e0000"/><stop offset="5.1%" stop-color="#790000"/><stop offset="7.3%" stop-color="#730000"/><stop offset="10.9%" stop-color="#410000"/><stop offset="17.1%" stop-color="#1a0000"/><stop offset="30.6%" stop-color="#0b0000"/><stop offset="100%" stop-color="#0b0000"/></linearGradient><linearGradient id="d41"><stop offset="0%" stop-color="#350000"/><stop offset="2.7%" stop-color="#4d0000"/><stop offset="4%" stop-color="#7c0000"/><stop offset="4.9%" stop-color="#870000"/><stop offset="7.8%" stop-color="#6e0000"/><stop offset="10.4%" stop-color="#430000"/><stop offset="16%" stop-color="#1a0000"/><stop offset="26.2%" stop-color="#0b0000"/><stop offset="100%" stop-color="#0b0000"/></linearGradient><linearGradient id="d42"><stop offset="0%" stop-color="#540000"/><stop offset="2.4%" stop-color="#690000"/><stop offset="3.8%" stop-color="#960000"/><stop offset="4.7%" stop-color="#9d0000"/><stop offset="7.8%" stop-color="#750000"/><stop offset="10.4%" stop-color="#450000"/><stop offset="15.1%" stop-color="#1b0000"/><stop offset="21.5%" stop-color="#0b0000"/><stop offset="100%" stop-color="#0b0000"/></linearGradient><linearGradient id="d43"><stop offset="0%" stop-color="#800000"/><stop offset="2.4%" stop-color="#970000"/><stop offset="3.5%" stop-color="#b90000"/><stop offset="4.7%" stop-color="#bc0000"/><stop offset="8.2%" stop-color="#770000"/><stop offset="10.6%" stop-color="#460000"/><stop offset="14.6%" stop-color="#1c0000"/><stop offset="19.7%" stop-color="#0b0000"/><stop offset="100%" stop-color="#0b0000"/></linearGradient><linearGradient id="d44"><stop offset="0%" stop-color="#bb0000"/><stop offset="2%" stop-color="#cf0000"/><stop offset="2.7%" stop-color="#d60000"/><stop offset="3.5%" stop-color="#eb0000"/><stop offset="4.7%" stop-color="#e20000"/><stop offset="10.2%" stop-color="#550000"/><stop offset="13.3%" stop-color="#270000"/><stop offset="17.3%" stop-color="#0e0000"/><stop offset="100%" stop-color="#0b0000"/></linearGradient><linearGradient id="d45"><stop offset="0%" stop-color="#ff0400"/><stop offset="1.8%" stop-color="#ff1500"/><stop offset="2.4%" stop-color="#ff1300"/><stop offset="3.3%" stop-color="#ff2500"/><stop offset="4.4%" stop-color="#ff1700"/><stop offset="5.3%" stop-color="#fa0000"/><stop offset="10%" stop-color="#640000"/><stop offset="12.6%" stop-color="#310000"/><stop offset="16%" stop-color="#120000"/><stop offset="20.4%" stop-color="#0b0000"/><stop offset="100%" stop-color="#0b0000"/></linearGradient><linearGradient id="d46"><stop offset="0%" stop-color="#ff5800"/><stop offset="1.6%" stop-color="#ff6300"/><stop offset="2.4%" stop-color="#ff5c00"/><stop offset="3.3%" stop-color="#ff6500"/><stop offset="4.4%" stop-color="#ff4b00"/><stop offset="6.2%" stop-color="#ff0200"/><stop offset="9.8%" stop-color="#760000"/><stop offset="12.2%" stop-color="#3c0000"/><stop offset="15.1%" stop-color="#170000"/><stop offset="18.6%" stop-color="#0b0000"/><stop offset="100%" stop-color="#0b0000"/></linearGradient><linearGradient id="d47"><stop offset="0%" stop-color="#ffb200"/><stop offset="1.3%" stop-color="#ffb700"/><stop offset="2.4%" stop-color="#ffa800"/><stop offset="3.1%" stop-color="#ffab00"/><stop offset="4%" stop-color="#ff9200"/><stop offset="6.9%" stop-color="#ff0600"/><stop offset="7.5%" stop-color="#e40000"/><stop offset="9.8%" stop-color="#830000"/><stop offset="12%" stop-color="#440000"/><stop offset="14.6%" stop-color="#1c0000"/><stop offset="18%" stop-color="#0b0000"/><stop offset="100%" stop-color="#0b0000"/></linearGradient><linearGradient id="d48"><stop offset="0%" stop-color="#ffff0f"/><stop offset="1.1%" stop-color="#ffff10"/><stop offset="2%" stop-color="#fffb00"/><stop offset="2.4%" stop-color="#fff000"/><stop offset="3.1%" stop-color="#ffeb00"/><stop offset="4.2%" stop-color="#ffbd00"/><stop offset="7.5%" stop-color="#fc0000"/><stop offset="9.5%" stop-color="#980000"/><stop offset="11.5%" stop-color="#540000"/><stop offset="14%" stop-color="#250000"/><stop offset="17.1%" stop-color="#0b0000"/><stop offset="100%" stop-color="#0b0000"/></linearGradient><linearGradient id="d49"><stop offset="0%" stop-color="#ffff81"/><stop offset="0.9%" stop-color="#ffff7d"/><stop offset="2%" stop-color="#ffff5a"/><stop offset="2.4%" stop-color="#ffff44"/><stop offset="2.9%" stop-color="#ffff3d"/><stop offset="3.5%" stop-color="#ffff17"/><stop offset="3.8%" stop-color="#ffff06"/><stop offset="4.4%" stop-color="#ffdb00"/><stop offset="7.8%" stop-color="#ff0300"/><stop offset="10%" stop-color="#8f0000"/><stop offset="12%" stop-color="#4d0000"/><stop offset="14.4%" stop-color="#200000"/><stop offset="17.5%" stop-color="#0b0000"/><stop offset="100%" stop-color="#0b0000"/></linearGradient><linearGradient id="d50"><stop offset="0%" stop-color="#ffffd4"/><stop offset="0.9%" stop-color="#ffffca"/><stop offset="1.8%" stop-color="#ffffaa"/><stop offset="2.4%" stop-color="#ffff85"/><stop offset="2.9%" stop-color="#ffff7a"/><stop offset="3.5%" stop-color="#ffff4c"/><stop offset="4.2%" stop-color="#ffff0e"/><stop offset="4.4%" stop-color="#fff900"/><stop offset="7.8%" stop-color="#ff1000"/><stop offset="8%" stop-color="#ff0200"/><stop offset="10%" stop-color="#960000"/><stop offset="11.8%" stop-color="#560000"/><stop offset="14%" stop-color="#270000"/><stop offset="16.9%" stop-color="#0c0000"/><stop offset="100%" stop-color="#0b0000"/></linearGradient><linearGradient id="d51"><stop offset="0%" stop-color="#fffffc"/><stop offset="0.9%" stop-color="#fffff0"/><stop offset="1.8%" stop-color="#ffffcd"/><stop offset="2.4%" stop-color="#ffffa4"/><stop offset="2.9%" stop-color="#ffff97"/><stop offset="3.5%" stop-color="#ffff66"/><stop offset="4.4%" stop-color="#ffff0d"/><stop offset="4.7%" stop-color="#fff700"/><stop offset="7.5%" stop-color="#ff2500"/><stop offset="8%" stop-color="#ff0800"/><stop offset="8.2%" stop-color="#f90000"/><stop offset="10%" stop-color="#990000"/><stop offset="11.8%" stop-color="#570000"/><stop offset="14%" stop-color="#270000"/><stop offset="16.9%" stop-color="#0c0000"/><stop offset="100%" stop-color="#0b0000"/></linearGradient><linearGradient id="d52"><stop offset="0%" stop-color="#fffff5"/><stop offset="0.9%" stop-color="#ffffe9"/><stop offset="1.8%" stop-color="#ffffc7"/><stop offset="2.4%" stop-color="#ffff9f"/><stop offset="2.9%" stop-color="#ffff92"/><stop offset="3.5%" stop-color="#ffff61"/><stop offset="4.4%" stop-color="#ffff09"/><stop offset="4.7%" stop-color="#fff500"/><stop offset="7.5%" stop-color="#ff2400"/><stop offset="8%" stop-color="#ff0700"/><stop offset="8.4%" stop-color="#eb0000"/><stop offset="10%" stop-color="#980000"/><stop offset="11.8%" stop-color="#570000"/><stop offset="14%" stop-color="#270000"/><stop offset="16.9%" stop-color="#0c0000"/><stop offset="100%" stop-color="#0b0000"/></linearGradient><linearGradient id="d53"><stop offset="0%" stop-color="#ffffbf"/><stop offset="0.9%" stop-color="#ffffb7"/><stop offset="1.8%" stop-color="#ffff99"/><stop offset="2.4%" stop-color="#ffff75"/><stop offset="2.9%" stop-color="#ffff6b"/><stop offset="3.5%" stop-color="#ffff3f"/><stop offset="4.2%" stop-color="#ffff02"/><stop offset="8%" stop-color="#fe0000"/><stop offset="9.8%" stop-color="#9e0000"/><stop offset="11.5%" stop-color="#5b0000"/><stop offset="13.7%" stop-color="#2a0000"/><stop offset="16.6%" stop-color="#0d0000"/><stop offset="100%" stop-color="#0b0000"/></linearGradient><linearGradient id="d54"><stop offset="0%" stop-color="#ffff61"/><stop offset="0.9%" stop-color="#ffff60"/><stop offset="2%" stop-color="#ffff40"/><stop offset="2.4%" stop-color="#ffff2b"/><stop offset="3.1%" stop-color="#ffff1e"/><stop offset="3.5%" stop-color="#ffff03"/><stop offset="4.9%" stop-color="#ffb400"/><stop offset="7.8%" stop-color="#fd0000"/><stop offset="9.8%" stop-color="#960000"/><stop offset="11.8%" stop-color="#510000"/><stop offset="14.2%" stop-color="#220000"/><stop offset="17.3%" stop-color="#0b0000"/><stop offset="100%" stop-color="#0b0000"/></linearGradient><linearGradient id="d55"><stop offset="0%" stop-color="#fff000"/><stop offset="1.3%" stop-color="#fff000"/><stop offset="2.4%" stop-color="#ffdb00"/><stop offset="3.1%" stop-color="#ffd900"/><stop offset="4.2%" stop-color="#ffae00"/><stop offset="7.3%" stop-color="#ff0200"/><stop offset="9.8%" stop-color="#8c0000"/><stop offset="11.8%" stop-color="#4d0000"/><stop offset="14.2%" stop-color="#210000"/><stop offset="17.3%" stop-color="#0b0000"/><stop offset="100%" stop-color="#0b0000"/></linearGradient><linearGradient id="d56"><stop offset="0%" stop-color="#ff9700"/><stop offset="1.3%" stop-color="#ff9e00"/><stop offset="2.4%" stop-color="#ff9100"/><stop offset="3.1%" stop-color="#ff9600"/><stop offset="4%" stop-color="#ff8100"/><stop offset="6.9%" stop-color="#fc0000"/><stop offset="9.5%" stop-color="#870000"/><stop offset="11.8%" stop-color="#480000"/><stop offset="14.4%" stop-color="#1e0000"/><stop offset="17.7%" stop-color="#0b0000"/><stop offset="100%" stop-color="#0b0000"/></linearGradient><linearGradient id="d57"><stop offset="0%" stop-color="#ff3e00"/><stop offset="1.6%" stop-color="#ff4b00"/><stop offset="2.4%" stop-color="#ff4600"/><stop offset="3.3%" stop-color="#ff5200"/><stop offset="4.4%" stop-color="#ff3b00"/><stop offset="6%" stop-color="#ff0000"/><stop offset="9.8%" stop-color="#720000"/><stop offset="12.2%" stop-color="#3a0000"/><stop offset="15.3%" stop-color="#160000"/><stop offset="18.8%" stop-color="#0b0000"/><stop offset="100%" stop-color="#0b0000"/></linearGradient><linearGradient id="d58"><stop offset="0%" stop-color="#ec0000"/><stop offset="1.8%" stop-color="#fe0000"/><stop offset="2.7%" stop-color="#ff0400"/><stop offset="3.3%" stop-color="#ff1200"/><stop offset="4.4%" stop-color="#ff0800"/><stop offset="5.1%" stop-color="#f50000"/><stop offset="10%" stop-color="#600000"/><stop offset="12.6%" stop-color="#300000"/><stop offset="16.2%" stop-color="#110000"/><stop offset="21.5%" stop-color="#0b0000"/><stop offset="100%" stop-color="#0b0000"/></linearGradient><linearGradient id="d59"><stop offset="0%" stop-color="#a80000"/><stop offset="2%" stop-color="#bd0000"/><stop offset="2.7%" stop-color="#c40000"/><stop offset="3.5%" stop-color="#db0000"/><stop offset="4.7%" stop-color="#d60000"/><stop offset="9.1%" stop-color="#6a0000"/><stop offset="11.8%" stop-color="#390000"/><stop offset="15.5%" stop-color="#160000"/><stop offset="20.6%" stop-color="#0b0000"/><stop offset="100%" stop-color="#0b0000"/></linearGradient><linearGradient id="d60"><stop offset="0%" stop-color="#720000"/><stop offset="2.4%" stop-color="#880000"/><stop offset="3.5%" stop-color="#ac0000"/><stop offset="4.7%" stop-color="#b20000"/><stop offset="8.2%" stop-color="#730000"/><stop offset="10.6%" stop-color="#440000"/><stop offset="14.9%" stop-color="#1b0000"/><stop offset="20.4%" stop-color="#0b0000"/><stop offset="100%" stop-color="#0b0000"/></linearGradient><linearGradient id="d61"><stop offset="0%" stop-color="#490000"/><stop offset="2.4%" stop-color="#5e0000"/><stop offset="3.8%" stop-color="#8c0000"/><stop offset="4.7%" stop-color="#960000"/><stop offset="7.8%" stop-color="#720000"/><stop offset="10.4%" stop-color="#440000"/><stop offset="15.3%" stop-color="#1b0000"/><stop offset="22.6%" stop-color="#0b0000"/><stop offset="100%" stop-color="#0b0000"/></linearGradient><linearGradient id="d62"><stop offset="0%" stop-color="#2d0000"/><stop offset="2.7%" stop-color="#440000"/><stop offset="4%" stop-color="#750000"/><stop offset="4.9%" stop-color="#820000"/><stop offset="7.5%" stop-color="#700000"/><stop offset="10.6%" stop-color="#410000"/><stop offset="16.4%" stop-color="#190000"/><stop offset="27.7%" stop-color="#0b0000"/><stop offset="100%" stop-color="#0b0000"/></linearGradient><linearGradient id="d63"><stop offset="0%" stop-color="#1b0000"/><stop offset="2.7%" stop-color="#2d0000"/><stop offset="4.4%" stop-color="#6f0000"/><stop offset="5.3%" stop-color="#760000"/><stop offset="7.3%" stop-color="#740000"/><stop offset="10.9%" stop-color="#420000"/><stop offset="17.3%" stop-color="#1b0000"/><stop offset="31.5%" stop-color="#0b0000"/><stop offset="100%" stop-color="#0b0000"/></linearGradient><linearGradient id="d64"><stop offset="0%" stop-color="#0f0000"/><stop offset="2.7%" stop-color="#1c0000"/><stop offset="4.7%" stop-color="#6a0000"/><stop offset="6.9%" stop-color="#7d0000"/><stop offset="8.4%" stop-color="#6e0000"/><stop offset="11.1%" stop-color="#480000"/><stop offset="17.7%" stop-color="#1f0000"/><stop offset="31.7%" stop-color="#0d0000"/><stop offset="100%" stop-color="#0b0000"/></linearGradient><linearGradient id="d65"><stop offset="0%" stop-color="#0b0000"/><stop offset="2.7%" stop-color="#120000"/><stop offset="4%" stop-color="#460000"/><stop offset="4.9%" stop-color="#6a0000"/><stop offset="6.9%" stop-color="#880000"/><stop offset="8.2%" stop-color="#810000"/><stop offset="11.3%" stop-color="#520000"/><stop offset="17.7%" stop-color="#260000"/><stop offset="30.2%" stop-color="#110000"/><stop offset="72.1%" stop-color="#0b0000"/><stop offset="100%" stop-color="#0b0000"/></linearGradient><linearGradient id="d66"><stop offset="0%" stop-color="#0b0000"/><stop offset="2.7%" stop-color="#0b0000"/><stop offset="3.8%" stop-color="#330000"/><stop offset="5.1%" stop-color="#6e0000"/><stop offset="6.7%" stop-color="#960000"/><stop offset="8%" stop-color="#9a0000"/><stop offset="11.5%" stop-color="#5f0000"/><stop offset="17.7%" stop-color="#2f0000"/><stop offset="28.8%" stop-color="#170000"/><stop offset="67.8%" stop-color="#0b0000"/><stop offset="100%" stop-color="#0b0000"/></linearGradient><linearGradient id="d67"><stop offset="0%" stop-color="#0b0000"/><stop offset="2.9%" stop-color="#0b0000"/><stop offset="4%" stop-color="#350000"/><stop offset="5.3%" stop-color="#750000"/><stop offset="6.7%" stop-color="#a80000"/><stop offset="8%" stop-color="#b40000"/><stop offset="12%" stop-color="#6d0000"/><stop offset="17.7%" stop-color="#3a0000"/><stop offset="27.7%" stop-color="#1e0000"/><stop offset="68.5%" stop-color="#0b0000"/><stop offset="100%" stop-color="#0b0000"/></linearGradient><linearGradient id="d68"><stop offset="0%" stop-color="#0b0000"/><stop offset="3.1%" stop-color="#0d0000"/><stop offset="4.2%" stop-color="#3a0000"/><stop offset="6.4%" stop-color="#b00000"/><stop offset="7.5%" stop-color="#cc0000"/><stop offset="8.2%" stop-color="#cf0000"/><stop offset="9.8%" stop-color="#b40000"/><stop offset="11.8%" stop-color="#870000"/><stop offset="17.1%" stop-color="#4b0000"/><stop offset="25.9%" stop-color="#290000"/><stop offset="48.6%" stop-color="#150000"/><stop offset="98.2%" stop-color="#0b0000"/><stop offset="100%" stop-color="#0b0000"/></linearGradient><linearGradient id="d69"><stop offset="0%" stop-color="#0b0000"/><stop offset="3.1%" stop-color="#0b0000"/><stop offset="4%" stop-color="#270000"/><stop offset="5.5%" stop-color="#7e0000"/><stop offset="6.4%" stop-color="#bc0000"/><stop offset="7.5%" stop-color="#e50000"/><stop offset="8.2%" stop-color="#ee0000"/><stop offset="9.5%" stop-color="#e10000"/><stop offset="11.3%" stop-color="#ac0000"/><stop offset="14.2%" stop-color="#7e0000"/><stop offset="18%" stop-color="#560000"/><stop offset="26.2%" stop-color="#320000"/><stop offset="44.1%" stop-color="#1d0000"/><stop offset="100%" stop-color="#0b0000"/></linearGradient><linearGradient id="d70"><stop offset="0%" stop-color="#0b0000"/><stop offset="3.3%" stop-color="#0c0000"/><stop offset="4.2%" stop-color="#2c0000"/><stop offset="5.5%" stop-color="#7a0000"/><stop offset="6.4%" stop-color="#c30000"/><stop offset="7.5%" stop-color="#f90000"/><stop offset="8.2%" stop-color="#ff0c00"/><stop offset="9.5%" stop-color="#ff0a00"/><stop offset="9.8%" stop-color="#ff0100"/><stop offset="11.5%" stop-color="#c60000"/><stop offset="14%" stop-color="#990000"/><stop offset="18%" stop-color="#680000"/><stop offset="25.7%" stop-color="#3f0000"/><stop offset="38.8%" stop-color="#290000"/><stop offset="85.4%" stop-color="#110000"/><stop offset="100%" stop-color="#0d0000"/></linearGradient><linearGradient id="d71"><stop offset="0%" stop-color="#0b0000"/><stop offset="3.5%" stop-color="#0f0000"/><stop offset="4.4%" stop-color="#300000"/><stop offset="5.5%" stop-color="#730000"/><stop offset="6.4%" stop-color="#c40000"/><stop offset="7.3%" stop-color="#fb0000"/><stop offset="8.2%" stop-color="#ff2200"/><stop offset="9.3%" stop-color="#ff3100"/><stop offset="9.5%" stop-color="#ff3000"/><stop offset="10.9%" stop-color="#fb0000"/><stop offset="13.1%" stop-color="#c20000"/><stop offset="17.7%" stop-color="#800000"/><stop offset="25.1%" stop-color="#510000"/><stop offset="35.7%" stop-color="#370000"/><stop offset="74.1%" stop-color="#1b0000"/><stop offset="100%" stop-color="#120000"/></linearGradient><linearGradient id="d72"><stop offset="0%" stop-color="#0b0000"/><stop offset="3.5%" stop-color="#0c0000"/><stop offset="4.4%" stop-color="#280000"/><stop offset="5.5%" stop-color="#690000"/><stop offset="6.4%" stop-color="#be0000"/><stop offset="7.3%" stop-color="#fc0000"/><stop offset="8.2%" stop-color="#ff2f00"/><stop offset="9.3%" stop-color="#ff4d00"/><stop offset="9.5%" stop-color="#ff4f00"/><stop offset="11.8%" stop-color="#ff0200"/><stop offset="13.7%" stop-color="#d50000"/><stop offset="17.7%" stop-color="#980000"/><stop offset="24.6%" stop-color="#640000"/><stop offset="33.9%" stop-color="#470000"/><stop offset="65%" stop-color="#280000"/><stop offset="100%" stop-color="#190000"/></linearGradient><linearGradient id="d73"><stop offset="0%" stop-color="#0b0000"/><stop offset="3.8%" stop-color="#0e0000"/><stop offset="4.7%" stop-color="#2b0000"/><stop offset="5.5%" stop-color="#5d0000"/><stop offset="6.4%" stop-color="#b20000"/><stop offset="7.3%" stop-color="#f50000"/><stop offset="7.5%" stop-color="#ff0600"/><stop offset="8.2%" stop-color="#ff3100"/><stop offset="9.3%" stop-color="#ff5f00"/><stop offset="9.5%" stop-color="#ff6400"/><stop offset="12.6%" stop-color="#ff0700"/><stop offset="13.5%" stop-color="#f50000"/><stop offset="16.2%" stop-color="#c90000"/><stop offset="18.8%" stop-color="#a70000"/><stop offset="25.5%" stop-color="#740000"/><stop offset="34.6%" stop-color="#560000"/><stop offset="63.2%" stop-color="#350000"/><stop offset="100%" stop-color="#220000"/></linearGradient><linearGradient id="d74"><stop offset="0%" stop-color="#0b0000"/><stop offset="3.8%" stop-color="#0b0000"/><stop offset="4.9%" stop-color="#2d0000"/><stop offset="5.5%" stop-color="#510000"/><stop offset="6.7%" stop-color="#b30000"/><stop offset="7.5%" stop-color="#f60000"/><stop offset="7.8%" stop-color="#ff0800"/><stop offset="8.9%" stop-color="#ff4c00"/><stop offset="9.5%" stop-color="#ff6b00"/><stop offset="13.3%" stop-color="#ff1300"/><stop offset="15.1%" stop-color="#fc0000"/><stop offset="17.5%" stop-color="#d00000"/><stop offset="24.4%" stop-color="#920000"/><stop offset="32.4%" stop-color="#6e0000"/><stop offset="55.4%" stop-color="#4a0000"/><stop offset="100%" stop-color="#2f0000"/></linearGradient><linearGradient id="d75"><stop offset="0%" stop-color="#0b0000"/><stop offset="4%" stop-color="#0c0000"/><stop offset="5.1%" stop-color="#2e0000"/><stop offset="5.5%" stop-color="#440000"/><stop offset="6.7%" stop-color="#9f0000"/><stop offset="8%" stop-color="#ff0400"/><stop offset="9.5%" stop-color="#ff6200"/><stop offset="11.3%" stop-color="#ff4b00"/><stop offset="13.3%" stop-color="#ff2700"/><stop offset="15.3%" stop-color="#ff1200"/><stop offset="16.4%" stop-color="#fc0000"/><stop offset="20%" stop-color="#d20000"/><stop offset="26.6%" stop-color="#9d0000"/><stop offset="35.5%" stop-color="#7b0000"/><stop offset="60.3%" stop-color="#580000"/><stop offset="100%" stop-color="#3f0000"/></linearGradient><linearGradient id="d76"><stop offset="0%" stop-color="#0b0000"/><stop offset="4.2%" stop-color="#0e0000"/><stop offset="5.3%" stop-color="#2e0000"/><stop offset="6%" stop-color="#590000"/><stop offset="8.2%" stop-color="#f50000"/><stop offset="8.4%" stop-color="#ff0400"/><stop offset="9.5%" stop-color="#ff4b00"/><stop offset="10.9%" stop-color="#ff4e00"/><stop offset="13.5%" stop-color="#ff3300"/><stop offset="15.3%" stop-color="#ff2700"/><stop offset="17.7%" stop-color="#ff0200"/><stop offset="26.6%" stop-color="#b70000"/><stop offset="35.3%" stop-color="#940000"/><stop offset="57.9%" stop-color="#700000"/><stop offset="100%" stop-color="#540000"/></linearGradient><linearGradient id="d77"><stop offset="0%" stop-color="#0b0000"/><stop offset="4.4%" stop-color="#0f0000"/><stop offset="5.5%" stop-color="#2f0000"/><stop offset="8.9%" stop-color="#ff0000"/><stop offset="9.5%" stop-color="#ff2a00"/><stop offset="10.9%" stop-color="#ff3d00"/><stop offset="12.6%" stop-color="#ff3900"/><stop offset="15.3%" stop-color="#ff3500"/><stop offset="18%" stop-color="#ff1500"/><stop offset="21.1%" stop-color="#fb0000"/><stop offset="29.5%" stop-color="#c20000"/><stop offset="40.8%" stop-color="#a10000"/><stop offset="65.6%" stop-color="#830000"/><stop offset="100%" stop-color="#6f0000"/></linearGradient><linearGradient id="d78"><stop offset="0%" stop-color="#0b0000"/><stop offset="4.4%" stop-color="#0c0000"/><stop offset="5.5%" stop-color="#260000"/><stop offset="8.4%" stop-color="#c00000"/><stop offset="9.5%" stop-color="#ff0300"/><stop offset="10.9%" stop-color="#ff2200"/><stop offset="12.6%" stop-color="#ff2e00"/><stop offset="15.3%" stop-color="#ff3b00"/><stop offset="18.2%" stop-color="#ff2300"/><stop offset="24.2%" stop-color="#fc0000"/><stop offset="33%" stop-color="#d00000"/><stop offset="50.3%" stop-color="#ae0000"/><stop offset="89.1%" stop-color="#960000"/><stop offset="100%" stop-color="#920000"/></linearGradient><linearGradient id="d79"><stop offset="0%" stop-color="#0b0000"/><stop offset="4.7%" stop-color="#0c0000"/><stop offset="5.8%" stop-color="#270000"/><stop offset="8.4%" stop-color="#9f0000"/><stop offset="9.8%" stop-color="#e10000"/><stop offset="10.9%" stop-color="#ff0200"/><stop offset="12.6%" stop-color="#ff1c00"/><stop offset="15.1%" stop-color="#ff3800"/><stop offset="26.4%" stop-color="#ff0700"/><stop offset="29.9%" stop-color="#f50000"/><stop offset="43.2%" stop-color="#d50000"/><stop offset="67.4%" stop-color="#c20000"/><stop offset="100%" stop-color="#bb0000"/></linearGradient><linearGradient id="d80"><stop offset="0%" stop-color="#0b0000"/><stop offset="4.9%" stop-color="#0c0000"/><stop offset="5.8%" stop-color="#1f0000"/><stop offset="8.6%" stop-color="#8a0000"/><stop offset="10.2%" stop-color="#ca0000"/><stop offset="12.2%" stop-color="#fb0000"/><stop offset="13.7%" stop-color="#ff1600"/><stop offset="15.3%" stop-color="#ff2b00"/><stop offset="22.4%" stop-color="#ff2800"/><stop offset="35.5%" stop-color="#fe0000"/><stop offset="55.7%" stop-color="#e70000"/><stop offset="100%" stop-color="#ea0000"/></linearGradient><linearGradient id="d81"><stop offset="0%" stop-color="#0b0000"/><stop offset="5.1%" stop-color="#0c0000"/><stop offset="6.9%" stop-color="#370000"/><stop offset="11.5%" stop-color="#cd0000"/><stop offset="14%" stop-color="#ff0100"/><stop offset="15.3%" stop-color="#ff1800"/><stop offset="21.3%" stop-color="#ff2d00"/><stop offset="44.8%" stop-color="#ff0b00"/><stop offset="66.7%" stop-color="#ff0b00"/><stop offset="100%" stop-color="#ff1d00"/></linearGradient><linearGradient id="d82"><stop offset="0%" stop-color="#0b0000"/><stop offset="5.5%" stop-color="#0f0000"/><stop offset="8.9%" stop-color="#5d0000"/><stop offset="12.4%" stop-color="#c20000"/><stop offset="15.3%" stop-color="#fe0000"/><stop offset="21.3%" stop-color="#ff2700"/><stop offset="28.6%" stop-color="#ff2c00"/><stop offset="48.3%" stop-color="#ff2100"/><stop offset="68.3%" stop-color="#ff2d00"/><stop offset="100%" stop-color="#ff4e00"/></linearGradient><linearGradient id="d83"><stop offset="0%" stop-color="#0b0000"/><stop offset="5.8%" stop-color="#0f0000"/><stop offset="9.5%" stop-color="#580000"/><stop offset="13.5%" stop-color="#bd0000"/><stop offset="15.5%" stop-color="#e40000"/><stop offset="18.4%" stop-color="#ff0300"/><stop offset="22.8%" stop-color="#ff2200"/><stop offset="31.3%" stop-color="#ff2e00"/><stop offset="61.4%" stop-color="#ff3d00"/><stop offset="100%" stop-color="#ff7800"/></linearGradient><linearGradient id="d84"><stop offset="0%" stop-color="#0b0000"/><stop offset="6%" stop-color="#0f0000"/><stop offset="9.8%" stop-color="#490000"/><stop offset="15.1%" stop-color="#c10000"/><stop offset="20.6%" stop-color="#ff0100"/><stop offset="26.6%" stop-color="#ff2100"/><stop offset="44.3%" stop-color="#ff3800"/><stop offset="67%" stop-color="#ff5500"/><stop offset="100%" stop-color="#ff9300"/></linearGradient><linearGradient id="d85"><stop offset="0%" stop-color="#0b0000"/><stop offset="6.2%" stop-color="#0e0000"/><stop offset="9.8%" stop-color="#380000"/><stop offset="15.5%" stop-color="#aa0000"/><stop offset="21.5%" stop-color="#f00000"/><stop offset="24.2%" stop-color="#ff0400"/><stop offset="32.8%" stop-color="#ff2300"/><stop offset="69%" stop-color="#ff5d00"/><stop offset="100%" stop-color="#ff9b00"/></linearGradient><linearGradient id="d86"><stop offset="0%" stop-color="#0b0000"/><stop offset="6.7%" stop-color="#0e0000"/><stop offset="10%" stop-color="#2e0000"/><stop offset="15.7%" stop-color="#920000"/><stop offset="21.7%" stop-color="#d70000"/><stop offset="27.9%" stop-color="#ff0000"/><stop offset="39.2%" stop-color="#ff2100"/><stop offset="81.6%" stop-color="#ff6c00"/><stop offset="100%" stop-color="#ff8e00"/></linearGradient><linearGradient id="d87"><stop offset="0%" stop-color="#0b0000"/><stop offset="7.3%" stop-color="#0f0000"/><stop offset="10.4%" stop-color="#290000"/><stop offset="16%" stop-color="#7c0000"/><stop offset="22.2%" stop-color="#c00000"/><stop offset="29.7%" stop-color="#ef0000"/><stop offset="35.3%" stop-color="#ff0400"/><stop offset="56.8%" stop-color="#ff2b00"/><stop offset="100%" stop-color="#ff6f00"/></linearGradient><linearGradient id="d88"><stop offset="0%" stop-color="#0b0000"/><stop offset="8%" stop-color="#0e0000"/><stop offset="10.6%" stop-color="#220000"/><stop offset="16.4%" stop-color="#6b0000"/><stop offset="22.6%" stop-color="#a90000"/><stop offset="31%" stop-color="#da0000"/><stop offset="43.9%" stop-color="#ff0000"/><stop offset="100%" stop-color="#ff4300"/></linearGradient><linearGradient id="d89"><stop offset="0%" stop-color="#0b0000"/><stop offset="9.1%" stop-color="#0f0000"/><stop offset="13.3%" stop-color="#390000"/><stop offset="22.4%" stop-color="#8e0000"/><stop offset="31.7%" stop-color="#c20000"/><stop offset="44.3%" stop-color="#e40000"/><stop offset="75.6%" stop-color="#ff0300"/><stop offset="100%" stop-color="#ff1100"/></linearGradient><linearGradient id="d90"><stop offset="0%" stop-color="#0b0000"/><stop offset="9.8%" stop-color="#0e0000"/><stop offset="22.8%" stop-color="#7a0000"/><stop offset="33.3%" stop-color="#ad0000"/><stop offset="46.1%" stop-color="#c90000"/><stop offset="85.8%" stop-color="#dd0000"/><stop offset="100%" stop-color="#de0000"/></linearGradient><linearGradient id="d91"><stop offset="0%" stop-color="#0b0000"/><stop offset="10.4%" stop-color="#0e0000"/><stop offset="23.5%" stop-color="#690000"/><stop offset="35.5%" stop-color="#990000"/><stop offset="49.4%" stop-color="#af0000"/><stop offset="91.8%" stop-color="#b20000"/><stop offset="100%" stop-color="#b00000"/></linearGradient><linearGradient id="d92"><stop offset="0%" stop-color="#0b0000"/><stop offset="11.1%" stop-color="#0e0000"/><stop offset="24.6%" stop-color="#5c0000"/><stop offset="38.1%" stop-color="#870000"/><stop offset="55.9%" stop-color="#940000"/><stop offset="100%" stop-color="#890000"/></linearGradient><linearGradient id="d93"><stop offset="0%" stop-color="#0b0000"/><stop offset="11.8%" stop-color="#0e0000"/><stop offset="26.2%" stop-color="#510000"/><stop offset="40.8%" stop-color="#740000"/><stop offset="66.3%" stop-color="#780000"/><stop offset="100%" stop-color="#680000"/></linearGradient><linearGradient id="d94"><stop offset="0%" stop-color="#0b0000"/><stop offset="12.6%" stop-color="#0f0000"/><stop offset="28.6%" stop-color="#490000"/><stop offset="43.2%" stop-color="#620000"/><stop offset="77.4%" stop-color="#5a0000"/><stop offset="100%" stop-color="#4e0000"/></linearGradient><linearGradient id="d95"><stop offset="0%" stop-color="#0b0000"/><stop offset="13.5%" stop-color="#0f0000"/><stop offset="31.5%" stop-color="#410000"/><stop offset="45.9%" stop-color="#500000"/><stop offset="100%" stop-color="#3a0000"/></linearGradient><linearGradient id="d96"><stop offset="0%" stop-color="#0b0000"/><stop offset="14.9%" stop-color="#0f0000"/><stop offset="34.4%" stop-color="#390000"/><stop offset="51.7%" stop-color="#400000"/><stop offset="100%" stop-color="#2b0000"/></linearGradient><linearGradient id="d97"><stop offset="0%" stop-color="#0b0000"/><stop offset="16.6%" stop-color="#0f0000"/><stop offset="37.3%" stop-color="#310000"/><stop offset="66.1%" stop-color="#2e0000"/><stop offset="100%" stop-color="#200000"/></linearGradient><linearGradient id="d98"><stop offset="0%" stop-color="#0b0000"/><stop offset="18.2%" stop-color="#0f0000"/><stop offset="41%" stop-color="#290000"/><stop offset="100%" stop-color="#170000"/></linearGradient><linearGradient id="d99"><stop offset="0%" stop-color="#0b0000"/><stop offset="20.2%" stop-color="#0f0000"/><stop offset="44.6%" stop-color="#210000"/><stop offset="100%" stop-color="#110000"/></linearGradient><linearGradient id="d100"><stop offset="0%" stop-color="#0b0000"/><stop offset="23.7%" stop-color="#0f0000"/><stop offset="48.3%" stop-color="#1a0000"/><stop offset="100%" stop-color="#0c0000"/></linearGradient><linearGradient id="d101"><stop offset="0%" stop-color="#0b0000"/><stop offset="29.3%" stop-color="#100000"/><stop offset="58.1%" stop-color="#120000"/><stop offset="100%" stop-color="#0b0000"/></linearGradient><linearGradient id="d102"><stop offset="0%" stop-color="#0b0000"/><stop offset="60.8%" stop-color="#0e0000"/><stop offset="100%" stop-color="#0b0000"/></linearGradient><linearGradient id="d103"><stop offset="0%" stop-color="#0b0000"/><stop offset="100%" stop-color="#0b0000"/></linearGradient><clipPath id="dclip"><rect x="393.7" y="282" width="225.5" height="161.7"/></clipPath></defs>
<g clip-path="url(#dclip)" shape-rendering="crispEdges">
<rect x="393.7" y="311" width="225.5" height="1" fill="url(#d0)"/><rect x="393.7" y="312" width="225.5" height="1" fill="url(#d1)"/><rect x="393.7" y="313" width="225.5" height="1" fill="url(#d2)"/><rect x="393.7" y="314" width="225.5" height="1" fill="url(#d3)"/><rect x="393.7" y="315" width="225.5" height="1" fill="url(#d4)"/><rect x="393.7" y="316" width="225.5" height="1" fill="url(#d5)"/><rect x="393.7" y="317" width="225.5" height="1" fill="url(#d6)"/><rect x="393.7" y="318" width="225.5" height="1" fill="url(#d7)"/><rect x="393.7" y="319" width="225.5" height="1" fill="url(#d8)"/><rect x="393.7" y="320" width="225.5" height="1" fill="url(#d9)"/><rect x="393.7" y="321" width="225.5" height="1" fill="url(#d10)"/><rect x="393.7" y="322" width="225.5" height="1" fill="url(#d11)"/><rect x="393.7" y="323" width="225.5" height="1" fill="url(#d12)"/><rect x="393.7" y="324" width="225.5" height="1" fill="url(#d13)"/><rect x="393.7" y="325" width="225.5" height="1" fill="url(#d14)"/><rect x="393.7" y="326" width="225.5" height="1" fill="url(#d15)"/><rect x="393.7" y="327" width="225.5" height="1" fill="url(#d16)"/><rect x="393.7" y="328" width="225.5" height="1" fill="url(#d17)"/><rect x="393.7" y="329" width="225.5" height="1" fill="url(#d18)"/><rect x="393.7" y="330" width="225.5" height="1" fill="url(#d19)"/><rect x="393.7" y="331" width="225.5" height="1" fill="url(#d20)"/><rect x="393.7" y="332" width="225.5" height="1" fill="url(#d21)"/><rect x="393.7" y="333" width="225.5" height="1" fill="url(#d22)"/><rect x="393.7" y="334" width="225.5" height="1" fill="url(#d23)"/><rect x="393.7" y="335" width="225.5" height="1" fill="url(#d24)"/><rect x="393.7" y="336" width="225.5" height="1" fill="url(#d25)"/><rect x="393.7" y="337" width="225.5" height="1" fill="url(#d26)"/><rect x="393.7" y="338" width="225.5" height="1" fill="url(#d27)"/><rect x="393.7" y="339" width="225.5" height="1" fill="url(#d28)"/><rect x="393.7" y="340" width="225.5" height="1" fill="url(#d29)"/><rect x="393.7" y="341" width="225.5" height="1" fill="url(#d30)"/><rect x="393.7" y="342" width="225.5" height="1" fill="url(#d31)"/><rect x="393.7" y="343" width="225.5" height="1" fill="url(#d32)"/><rect x="393.7" y="344" width="225.5" height="1" fill="url(#d33)"/><rect x="393.7" y="345" width="225.5" height="1" fill="url(#d34)"/><rect x="393.7" y="346" width="225.5" height="1" fill="url(#d35)"/><rect x="393.7" y="347" width="225.5" height="1" fill="url(#d36)"/><rect x="393.7" y="348" width="225.5" height="1" fill="url(#d37)"/><rect x="393.7" y="349" width="225.5" height="1" fill="url(#d38)"/><rect x="393.7" y="350" width="225.5" height="1" fill="url(#d39)"/><rect x="393.7" y="351" width="225.5" height="1" fill="url(#d40)"/><rect x="393.7" y="352" width="225.5" height="1" fill="url(#d41)"/><rect x="393.7" y="353" width="225.5" height="1" fill="url(#d42)"/><rect x="393.7" y="354" width="225.5" height="1" fill="url(#d43)"/><rect x="393.7" y="355" width="225.5" height="1" fill="url(#d44)"/><rect x="393.7" y="356" width="225.5" height="1" fill="url(#d45)"/><rect x="393.7" y="357" width="225.5" height="1" fill="url(#d46)"/><rect x="393.7" y="358" width="225.5" height="1" fill="url(#d47)"/><rect x="393.7" y="359" width="225.5" height="1" fill="url(#d48)"/><rect x="393.7" y="360" width="225.5" height="1" fill="url(#d49)"/><rect x="393.7" y="361" width="225.5" height="1" fill="url(#d50)"/><rect x="393.7" y="362" width="225.5" height="1" fill="url(#d51)"/><rect x="393.7" y="363" width="225.5" height="1" fill="url(#d52)"/><rect x="393.7" y="364" width="225.5" height="1" fill="url(#d53)"/><rect x="393.7" y="365" width="225.5" height="1" fill="url(#d54)"/><rect x="393.7" y="366" width="225.5" height="1" fill="url(#d55)"/><rect x="393.7" y="367" width="225.5" height="1" fill="url(#d56)"/><rect x="393.7" y="368" width="225.5" height="1" fill="url(#d57)"/><rect x="393.7" y="369" width="225.5" height="1" fill="url(#d58)"/><rect x="393.7" y="370" width="225.5" height="1" fill="url(#d59)"/><rect x="393.7" y="371" width="225.5" height="1" fill="url(#d60)"/><rect x="393.7" y="372" width="225.5" height="1" fill="url(#d61)"/><rect x="393.7" y="373" width="225.5" height="1" fill="url(#d62)"/><rect x="393.7" y="374" width="225.5" height="1" fill="url(#d63)"/><rect x="393.7" y="375" width="225.5" height="1" fill="url(#d64)"/><rect x="393.7" y="376" width="225.5" height="1" fill="url(#d65)"/><rect x="393.7" y="377" width="225.5" height="1" fill="url(#d66)"/><rect x="393.7" y="378" width="225.5" height="1" fill="url(#d67)"/><rect x="393.7" y="379" width="225.5" height="1" fill="url(#d68)"/><rect x="393.7" y="380" width="225.5" height="1" fill="url(#d69)"/><rect x="393.7" y="381" width="225.5" height="1" fill="url(#d70)"/><rect x="393.7" y="382" width="225.5" height="1" fill="url(#d71)"/><rect x="393.7" y="383" width="225.5" height="1" fill="url(#d72)"/><rect x="393.7" y="384" width="225.5" height="1" fill="url(#d73)"/><rect x="393.7" y="385" width="225.5" height="1" fill="url(#d74)"/><rect x="393.7" y="386" width="225.5" height="1" fill="url(#d75)"/><rect x="393.7" y="387" width="225.5" height="1" fill="url(#d76)"/><rect x="393.7" y="388" width="225.5" height="1" fill="url(#d77)"/><rect x="393.7" y="389" width="225.5" height="1" fill="url(#d78)"/><rect x="393.7" y="390" width="225.5" height="1" fill="url(#d79)"/><rect x="393.7" y="391" width="225.5" height="1" fill="url(#d80)"/><rect x="393.7" y="392" width="225.5" height="1" fill="url(#d81)"/><rect x="393.7" y="393" width="225.5" height="1" fill="url(#d82)"/><rect x="393.7" y="394" width="225.5" height="1" fill="url(#d83)"/><rect x="393.7" y="395" width="225.5" height="1" fill="url(#d84)"/><rect x="393.7" y="396" width="225.5" height="1" fill="url(#d85)"/><rect x="393.7" y="397" width="225.5" height="1" fill="url(#d86)"/><rect x="393.7" y="398" width="225.5" height="1" fill="url(#d87)"/><rect x="393.7" y="399" width="225.5" height="1" fill="url(#d88)"/><rect x="393.7" y="400" width="225.5" height="1" fill="url(#d89)"/><rect x="393.7" y="401" width="225.5" height="1" fill="url(#d90)"/><rect x="393.7" y="402" width="225.5" height="1" fill="url(#d91)"/><rect x="393.7" y="403" width="225.5" height="1" fill="url(#d92)"/><rect x="393.7" y="404" width="225.5" height="1" fill="url(#d93)"/><rect x="393.7" y="405" width="225.5" height="1" fill="url(#d94)"/><rect x="393.7" y="406" width="225.5" height="1" fill="url(#d95)"/><rect x="393.7" y="407" width="225.5" height="1" fill="url(#d96)"/><rect x="393.7" y="408" width="225.5" height="1" fill="url(#d97)"/><rect x="393.7" y="409" width="225.5" height="1" fill="url(#d98)"/><rect x="393.7" y="410" width="225.5" height="1" fill="url(#d99)"/><rect x="393.7" y="411" width="225.5" height="1" fill="url(#d100)"/><rect x="393.7" y="412" width="225.5" height="1" fill="url(#d101)"/><rect x="393.7" y="413" width="225.5" height="1" fill="url(#d102)"/><rect x="393.7" y="414" width="225.5" height="1" fill="url(#d103)"/>
</g>
<text transform="translate(393.7 464.3) scale(1 1.06)" font-size="15.0" text-anchor="middle">0</text>
<text transform="translate(450.07 464.3) scale(1 1.06)" font-size="15.0" text-anchor="middle">5</text>
<text transform="translate(506.45 464.3) scale(1 1.06)" font-size="15.0" text-anchor="middle">&#8199;0</text><path d="M502.32 464.3 502.32 454.7 499.99 456.46 499.99 455.14 502.43 453.36 503.64 453.36 503.64 464.3Z" fill="#262626"/>
<text transform="translate(562.83 464.3) scale(1 1.06)" font-size="15.0" text-anchor="middle">&#8199;5</text><path d="M558.69 464.3 558.69 454.7 556.37 456.46 556.37 455.14 558.8 453.36 560.02 453.36 560.02 464.3Z" fill="#262626"/>
<text transform="translate(619.2 464.3) scale(1 1.06)" font-size="15.0" text-anchor="middle">20</text>
<text transform="translate(388.7 433.53) scale(1 1.06)" font-size="15.0" text-anchor="end">-20</text>
<text transform="translate(388.7 401.19) scale(1 1.06)" font-size="15.0" text-anchor="end">-&#8199;0</text><path d="M376.23 401.19 376.23 391.59 373.9 393.35 373.9 392.03 376.34 390.25 377.55 390.25 377.55 401.19Z" fill="#262626"/>
<text transform="translate(388.7 368.85) scale(1 1.06)" font-size="15.0" text-anchor="end">0</text>
<text transform="translate(388.7 336.51) scale(1 1.06)" font-size="15.0" text-anchor="end">&#8199;0</text><path d="M376.23 336.51 376.23 326.91 373.9 328.67 373.9 327.35 376.34 325.57 377.55 325.57 377.55 336.51Z" fill="#262626"/>
<text transform="translate(388.7 304.17) scale(1 1.06)" font-size="15.0" text-anchor="end">20</text>
<path d="M503.35 479.8Q504.45 478 505.95 478L510.15 478M507.65 478.2L506.15 484.4" fill="none" stroke="#333" stroke-width="1.15" stroke-linecap="round"/>
<text transform="translate(360.8 362.85) rotate(-90)" font-size="16.5" text-anchor="middle">x</text>
<text x="414.7" y="310.7" font-size="19.5" fill="#fff">(d)</text>
<defs><linearGradient id="dcb" x2="0" y2="1"><stop offset="0%" stop-color="#ffffff"/><stop offset="25.06%" stop-color="#ffff00"/><stop offset="62.56%" stop-color="#ff0000"/><stop offset="100%" stop-color="#0b0000"/></linearGradient></defs>
<rect x="636.4" y="281.7" width="17.2" height="160.2" fill="url(#dcb)" stroke="#262626" stroke-width="0.7"/>
<text transform="translate(658.4 447.4) scale(1 1.06)" font-size="13.5">0</text>
<text transform="translate(658.4 415.8) scale(1 1.06)" font-size="13.5">0.05</text>
<text transform="translate(658.4 384.2) scale(1 1.06)" font-size="13.5">0.&#8199;</text><path d="M673.45 384.2 673.45 375.56 671.35 377.14 671.35 375.95 673.55 374.35 674.64 374.35 674.64 384.2Z" fill="#262626"/>
<text transform="translate(658.4 352.6) scale(1 1.06)" font-size="13.5">0.&#8199;5</text><path d="M673.45 352.6 673.45 343.96 671.35 345.54 671.35 344.35 673.55 342.75 674.64 342.75 674.64 352.6Z" fill="#262626"/>
<text transform="translate(658.4 321) scale(1 1.06)" font-size="13.5">0.2</text>
<text transform="translate(658.4 289.4) scale(1 1.06)" font-size="13.5">0.25</text>
<path d="M653.6 442h-2.5M653.6 410.4h-2.5M653.6 378.8h-2.5M653.6 347.2h-2.5M653.6 315.6h-2.5M653.6 284h-2.5" stroke="#262626" stroke-width="0.7"/></svg></body></html>
